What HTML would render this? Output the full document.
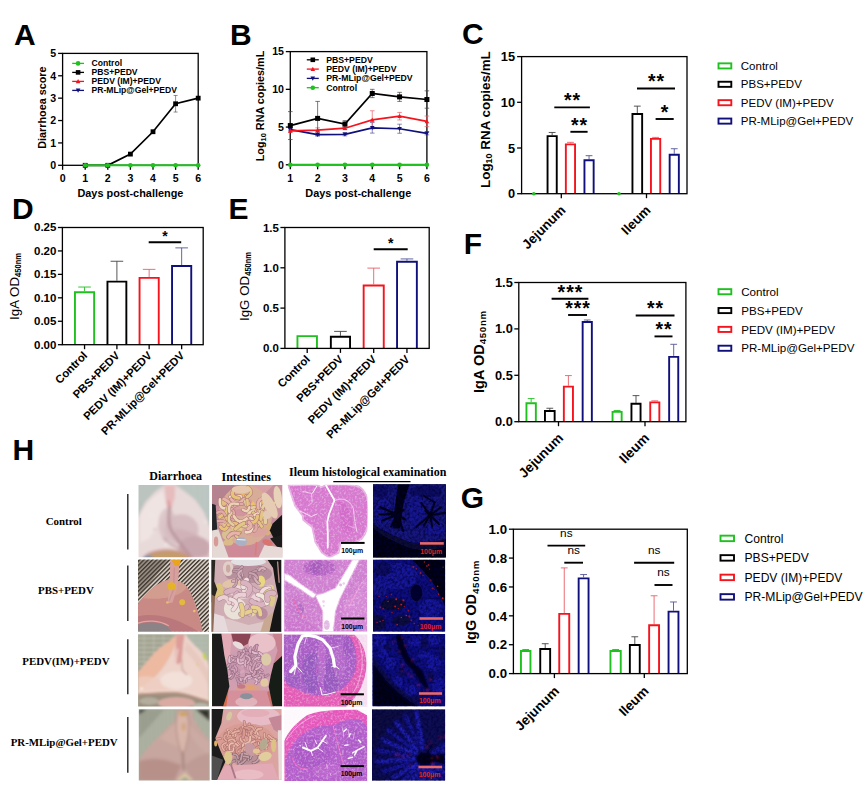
<!DOCTYPE html>
<html lang="en"><head><meta charset="utf-8"><title>Figure</title>
<style>html,body{margin:0;padding:0;background:#fff}svg{display:block}</style></head><body>
<svg width="866" height="793" viewBox="0 0 866 793">
<rect width="866" height="793" fill="#fff"/>
<text x="14.00" y="44.60" font-family="'Liberation Sans',Arial,sans-serif" font-size="30" font-weight="bold" text-anchor="start" fill="#000" >A</text>
<rect x="62.6" y="53.4" width="135.60" height="111.90" fill="none" stroke="#000" stroke-width="1.3"/>
<line x1="58.10" y1="165.30" x2="62.60" y2="165.30" stroke="#000" stroke-width="1.3" />
<text x="56.10" y="169.10" font-family="'Liberation Sans',Arial,sans-serif" font-size="10.6" font-weight="bold" text-anchor="end" fill="#000" >0</text>
<line x1="58.10" y1="142.92" x2="62.60" y2="142.92" stroke="#000" stroke-width="1.3" />
<text x="56.10" y="146.72" font-family="'Liberation Sans',Arial,sans-serif" font-size="10.6" font-weight="bold" text-anchor="end" fill="#000" >1</text>
<line x1="58.10" y1="120.54" x2="62.60" y2="120.54" stroke="#000" stroke-width="1.3" />
<text x="56.10" y="124.34" font-family="'Liberation Sans',Arial,sans-serif" font-size="10.6" font-weight="bold" text-anchor="end" fill="#000" >2</text>
<line x1="58.10" y1="98.16" x2="62.60" y2="98.16" stroke="#000" stroke-width="1.3" />
<text x="56.10" y="101.96" font-family="'Liberation Sans',Arial,sans-serif" font-size="10.6" font-weight="bold" text-anchor="end" fill="#000" >3</text>
<line x1="58.10" y1="75.78" x2="62.60" y2="75.78" stroke="#000" stroke-width="1.3" />
<text x="56.10" y="79.58" font-family="'Liberation Sans',Arial,sans-serif" font-size="10.6" font-weight="bold" text-anchor="end" fill="#000" >4</text>
<line x1="58.10" y1="53.40" x2="62.60" y2="53.40" stroke="#000" stroke-width="1.3" />
<text x="56.10" y="57.20" font-family="'Liberation Sans',Arial,sans-serif" font-size="10.6" font-weight="bold" text-anchor="end" fill="#000" >5</text>
<line x1="62.60" y1="165.30" x2="62.60" y2="169.80" stroke="#000" stroke-width="1.3" />
<text x="62.60" y="182.40" font-family="'Liberation Sans',Arial,sans-serif" font-size="10.6" font-weight="bold" text-anchor="middle" fill="#000" >0</text>
<line x1="85.20" y1="165.30" x2="85.20" y2="169.80" stroke="#000" stroke-width="1.3" />
<text x="85.20" y="182.40" font-family="'Liberation Sans',Arial,sans-serif" font-size="10.6" font-weight="bold" text-anchor="middle" fill="#000" >1</text>
<line x1="107.80" y1="165.30" x2="107.80" y2="169.80" stroke="#000" stroke-width="1.3" />
<text x="107.80" y="182.40" font-family="'Liberation Sans',Arial,sans-serif" font-size="10.6" font-weight="bold" text-anchor="middle" fill="#000" >2</text>
<line x1="130.40" y1="165.30" x2="130.40" y2="169.80" stroke="#000" stroke-width="1.3" />
<text x="130.40" y="182.40" font-family="'Liberation Sans',Arial,sans-serif" font-size="10.6" font-weight="bold" text-anchor="middle" fill="#000" >3</text>
<line x1="153.00" y1="165.30" x2="153.00" y2="169.80" stroke="#000" stroke-width="1.3" />
<text x="153.00" y="182.40" font-family="'Liberation Sans',Arial,sans-serif" font-size="10.6" font-weight="bold" text-anchor="middle" fill="#000" >4</text>
<line x1="175.60" y1="165.30" x2="175.60" y2="169.80" stroke="#000" stroke-width="1.3" />
<text x="175.60" y="182.40" font-family="'Liberation Sans',Arial,sans-serif" font-size="10.6" font-weight="bold" text-anchor="middle" fill="#000" >5</text>
<line x1="198.20" y1="165.30" x2="198.20" y2="169.80" stroke="#000" stroke-width="1.3" />
<text x="198.20" y="182.40" font-family="'Liberation Sans',Arial,sans-serif" font-size="10.6" font-weight="bold" text-anchor="middle" fill="#000" >6</text>
<text x="130.40" y="197.30" font-family="'Liberation Sans',Arial,sans-serif" font-size="10.9" font-weight="bold" text-anchor="middle" fill="#000" >Days post-challenge</text>
<text x="46.30" y="107.60" font-family="'Liberation Sans',Arial,sans-serif" font-size="10.8" font-weight="bold" text-anchor="middle" fill="#000" transform="rotate(-90 46.30 107.60)" >Diarrhoea score</text>
<line x1="72.20" y1="63.40" x2="84.00" y2="63.40" stroke="#1fc01f" stroke-width="1.3" />
<circle cx="78.10" cy="63.40" r="2.3" fill="#1fc01f"/>
<text x="91.50" y="66.40" font-family="'Liberation Sans',Arial,sans-serif" font-size="8.6" font-weight="bold" text-anchor="start" fill="#000" >Control</text>
<line x1="72.20" y1="72.40" x2="84.00" y2="72.40" stroke="#000" stroke-width="1.3" />
<rect x="75.80" y="70.10" width="4.6" height="4.6" fill="#000"/>
<text x="91.50" y="75.40" font-family="'Liberation Sans',Arial,sans-serif" font-size="8.6" font-weight="bold" text-anchor="start" fill="#000" >PBS+PEDV</text>
<line x1="72.20" y1="81.40" x2="84.00" y2="81.40" stroke="#f5141e" stroke-width="1.3" />
<polygon points="78.10,79.10 80.40,83.24 75.80,83.24" fill="#f5141e"/>
<text x="91.50" y="84.40" font-family="'Liberation Sans',Arial,sans-serif" font-size="8.6" font-weight="bold" text-anchor="start" fill="#000" >PEDV (IM)+PEDV</text>
<line x1="72.20" y1="90.40" x2="84.00" y2="90.40" stroke="#10107c" stroke-width="1.3" />
<polygon points="78.10,92.70 80.40,88.56 75.80,88.56" fill="#10107c"/>
<text x="91.50" y="93.40" font-family="'Liberation Sans',Arial,sans-serif" font-size="8.6" font-weight="bold" text-anchor="start" fill="#000" >PR-MLip@Gel+PEDV</text>
<line x1="175.60" y1="95.47" x2="175.60" y2="112.04" stroke="#444" stroke-width="0.6" />
<line x1="173.60" y1="95.47" x2="177.60" y2="95.47" stroke="#444" stroke-width="0.6" />
<line x1="173.60" y1="112.04" x2="177.60" y2="112.04" stroke="#444" stroke-width="0.6" />
<polyline fill="none" stroke="#000" stroke-width="1.7" points="85.20,165.30 107.80,165.30 130.40,154.11 153.00,131.73 175.60,103.76 198.20,98.16"/>
<rect x="82.80" y="162.90" width="4.8" height="4.8" fill="#000"/>
<rect x="105.40" y="162.90" width="4.8" height="4.8" fill="#000"/>
<rect x="128.00" y="151.71" width="4.8" height="4.8" fill="#000"/>
<rect x="150.60" y="129.33" width="4.8" height="4.8" fill="#000"/>
<rect x="173.20" y="101.36" width="4.8" height="4.8" fill="#000"/>
<rect x="195.80" y="95.76" width="4.8" height="4.8" fill="#000"/>
<line x1="85.2" y1="165.3" x2="198.2" y2="165.3" stroke="#1fc01f" stroke-width="2.0"/>
<circle cx="85.20" cy="165.30" r="2.3" fill="#1fc01f"/>
<circle cx="107.80" cy="165.30" r="2.3" fill="#1fc01f"/>
<circle cx="130.40" cy="165.30" r="2.3" fill="#1fc01f"/>
<circle cx="153.00" cy="165.30" r="2.3" fill="#1fc01f"/>
<circle cx="175.60" cy="165.30" r="2.3" fill="#1fc01f"/>
<circle cx="198.20" cy="165.30" r="2.3" fill="#1fc01f"/>
<text x="230.00" y="44.60" font-family="'Liberation Sans',Arial,sans-serif" font-size="30" font-weight="bold" text-anchor="start" fill="#000" >B</text>
<rect x="290.3" y="51.6" width="136.60" height="113.20" fill="none" stroke="#000" stroke-width="1.3"/>
<line x1="285.80" y1="164.80" x2="290.30" y2="164.80" stroke="#000" stroke-width="1.3" />
<text x="284.00" y="168.60" font-family="'Liberation Sans',Arial,sans-serif" font-size="10.6" font-weight="bold" text-anchor="end" fill="#000" >0</text>
<line x1="285.80" y1="127.07" x2="290.30" y2="127.07" stroke="#000" stroke-width="1.3" />
<text x="284.00" y="130.87" font-family="'Liberation Sans',Arial,sans-serif" font-size="10.6" font-weight="bold" text-anchor="end" fill="#000" >5</text>
<line x1="285.80" y1="89.33" x2="290.30" y2="89.33" stroke="#000" stroke-width="1.3" />
<text x="284.00" y="93.13" font-family="'Liberation Sans',Arial,sans-serif" font-size="10.6" font-weight="bold" text-anchor="end" fill="#000" >10</text>
<line x1="285.80" y1="51.60" x2="290.30" y2="51.60" stroke="#000" stroke-width="1.3" />
<text x="284.00" y="55.40" font-family="'Liberation Sans',Arial,sans-serif" font-size="10.6" font-weight="bold" text-anchor="end" fill="#000" >15</text>
<line x1="290.30" y1="164.80" x2="290.30" y2="169.30" stroke="#000" stroke-width="1.3" />
<text x="290.30" y="182.40" font-family="'Liberation Sans',Arial,sans-serif" font-size="10.6" font-weight="bold" text-anchor="middle" fill="#000" >1</text>
<line x1="317.62" y1="164.80" x2="317.62" y2="169.30" stroke="#000" stroke-width="1.3" />
<text x="317.62" y="182.40" font-family="'Liberation Sans',Arial,sans-serif" font-size="10.6" font-weight="bold" text-anchor="middle" fill="#000" >2</text>
<line x1="344.94" y1="164.80" x2="344.94" y2="169.30" stroke="#000" stroke-width="1.3" />
<text x="344.94" y="182.40" font-family="'Liberation Sans',Arial,sans-serif" font-size="10.6" font-weight="bold" text-anchor="middle" fill="#000" >3</text>
<line x1="372.26" y1="164.80" x2="372.26" y2="169.30" stroke="#000" stroke-width="1.3" />
<text x="372.26" y="182.40" font-family="'Liberation Sans',Arial,sans-serif" font-size="10.6" font-weight="bold" text-anchor="middle" fill="#000" >4</text>
<line x1="399.58" y1="164.80" x2="399.58" y2="169.30" stroke="#000" stroke-width="1.3" />
<text x="399.58" y="182.40" font-family="'Liberation Sans',Arial,sans-serif" font-size="10.6" font-weight="bold" text-anchor="middle" fill="#000" >5</text>
<line x1="426.90" y1="164.80" x2="426.90" y2="169.30" stroke="#000" stroke-width="1.3" />
<text x="426.90" y="182.40" font-family="'Liberation Sans',Arial,sans-serif" font-size="10.6" font-weight="bold" text-anchor="middle" fill="#000" >6</text>
<text x="358.30" y="197.30" font-family="'Liberation Sans',Arial,sans-serif" font-size="10.9" font-weight="bold" text-anchor="middle" fill="#000" >Days post-challenge</text>
<text x="264.30" y="106.00" font-family="'Liberation Sans',Arial,sans-serif" font-size="10.8" font-weight="bold" text-anchor="middle" fill="#000" transform="rotate(-90 264.30 106.00)" >Log<tspan font-size="7.5" dy="2.2">10</tspan><tspan dy="-2.2"> RNA copies/mL</tspan></text>
<line x1="306.80" y1="59.80" x2="318.80" y2="59.80" stroke="#000" stroke-width="1.3" />
<rect x="310.50" y="57.50" width="4.6" height="4.6" fill="#000"/>
<text x="326.20" y="62.80" font-family="'Liberation Sans',Arial,sans-serif" font-size="8.7" font-weight="bold" text-anchor="start" fill="#000" >PBS+PEDV</text>
<line x1="306.80" y1="69.10" x2="318.80" y2="69.10" stroke="#f5141e" stroke-width="1.3" />
<polygon points="312.80,66.80 315.10,70.94 310.50,70.94" fill="#f5141e"/>
<text x="326.20" y="72.10" font-family="'Liberation Sans',Arial,sans-serif" font-size="8.7" font-weight="bold" text-anchor="start" fill="#000" >PEDV (IM)+PEDV</text>
<line x1="306.80" y1="78.40" x2="318.80" y2="78.40" stroke="#10107c" stroke-width="1.3" />
<polygon points="312.80,80.70 315.10,76.56 310.50,76.56" fill="#10107c"/>
<text x="326.20" y="81.40" font-family="'Liberation Sans',Arial,sans-serif" font-size="8.7" font-weight="bold" text-anchor="start" fill="#000" >PR-MLip@Gel+PEDV</text>
<line x1="306.80" y1="87.70" x2="318.80" y2="87.70" stroke="#1fc01f" stroke-width="1.3" />
<circle cx="312.80" cy="87.70" r="2.3" fill="#1fc01f"/>
<text x="326.20" y="90.70" font-family="'Liberation Sans',Arial,sans-serif" font-size="8.7" font-weight="bold" text-anchor="start" fill="#000" >Control</text>
<line x1="290.30" y1="128.50" x2="290.30" y2="130.76" stroke="#55559a" stroke-width="0.7" />
<line x1="288.00" y1="128.50" x2="292.60" y2="128.50" stroke="#55559a" stroke-width="0.7" />
<line x1="288.00" y1="130.76" x2="292.60" y2="130.76" stroke="#55559a" stroke-width="0.7" />
<line x1="317.62" y1="133.10" x2="317.62" y2="136.12" stroke="#55559a" stroke-width="0.7" />
<line x1="315.32" y1="133.10" x2="319.92" y2="133.10" stroke="#55559a" stroke-width="0.7" />
<line x1="315.32" y1="136.12" x2="319.92" y2="136.12" stroke="#55559a" stroke-width="0.7" />
<line x1="344.94" y1="132.80" x2="344.94" y2="135.82" stroke="#55559a" stroke-width="0.7" />
<line x1="342.64" y1="132.80" x2="347.24" y2="132.80" stroke="#55559a" stroke-width="0.7" />
<line x1="342.64" y1="135.82" x2="347.24" y2="135.82" stroke="#55559a" stroke-width="0.7" />
<line x1="372.26" y1="122.54" x2="372.26" y2="133.10" stroke="#55559a" stroke-width="0.7" />
<line x1="369.96" y1="122.54" x2="374.56" y2="122.54" stroke="#55559a" stroke-width="0.7" />
<line x1="369.96" y1="133.10" x2="374.56" y2="133.10" stroke="#55559a" stroke-width="0.7" />
<line x1="399.58" y1="124.20" x2="399.58" y2="133.25" stroke="#55559a" stroke-width="0.7" />
<line x1="397.28" y1="124.20" x2="401.88" y2="124.20" stroke="#55559a" stroke-width="0.7" />
<line x1="397.28" y1="133.25" x2="401.88" y2="133.25" stroke="#55559a" stroke-width="0.7" />
<line x1="426.90" y1="131.82" x2="426.90" y2="134.84" stroke="#55559a" stroke-width="0.7" />
<line x1="424.60" y1="131.82" x2="429.20" y2="131.82" stroke="#55559a" stroke-width="0.7" />
<line x1="424.60" y1="134.84" x2="429.20" y2="134.84" stroke="#55559a" stroke-width="0.7" />
<line x1="290.30" y1="129.78" x2="290.30" y2="132.05" stroke="#e8606a" stroke-width="0.7" />
<line x1="288.00" y1="129.78" x2="292.60" y2="129.78" stroke="#e8606a" stroke-width="0.7" />
<line x1="288.00" y1="132.05" x2="292.60" y2="132.05" stroke="#e8606a" stroke-width="0.7" />
<line x1="317.62" y1="127.82" x2="317.62" y2="132.35" stroke="#e8606a" stroke-width="0.7" />
<line x1="315.32" y1="127.82" x2="319.92" y2="127.82" stroke="#e8606a" stroke-width="0.7" />
<line x1="315.32" y1="132.35" x2="319.92" y2="132.35" stroke="#e8606a" stroke-width="0.7" />
<line x1="344.94" y1="126.69" x2="344.94" y2="129.71" stroke="#e8606a" stroke-width="0.7" />
<line x1="342.64" y1="126.69" x2="347.24" y2="126.69" stroke="#e8606a" stroke-width="0.7" />
<line x1="342.64" y1="129.71" x2="347.24" y2="129.71" stroke="#e8606a" stroke-width="0.7" />
<line x1="372.26" y1="110.77" x2="372.26" y2="128.88" stroke="#e8606a" stroke-width="0.7" />
<line x1="369.96" y1="110.77" x2="374.56" y2="110.77" stroke="#e8606a" stroke-width="0.7" />
<line x1="369.96" y1="128.88" x2="374.56" y2="128.88" stroke="#e8606a" stroke-width="0.7" />
<line x1="399.58" y1="112.43" x2="399.58" y2="119.97" stroke="#e8606a" stroke-width="0.7" />
<line x1="397.28" y1="112.43" x2="401.88" y2="112.43" stroke="#e8606a" stroke-width="0.7" />
<line x1="397.28" y1="119.97" x2="401.88" y2="119.97" stroke="#e8606a" stroke-width="0.7" />
<line x1="426.90" y1="116.05" x2="426.90" y2="126.61" stroke="#e8606a" stroke-width="0.7" />
<line x1="424.60" y1="116.05" x2="429.20" y2="116.05" stroke="#e8606a" stroke-width="0.7" />
<line x1="424.60" y1="126.61" x2="429.20" y2="126.61" stroke="#e8606a" stroke-width="0.7" />
<line x1="290.30" y1="111.60" x2="290.30" y2="139.52" stroke="#444" stroke-width="0.7" />
<line x1="288.00" y1="111.60" x2="292.60" y2="111.60" stroke="#444" stroke-width="0.7" />
<line x1="288.00" y1="139.52" x2="292.60" y2="139.52" stroke="#444" stroke-width="0.7" />
<line x1="317.62" y1="101.41" x2="317.62" y2="135.37" stroke="#444" stroke-width="0.7" />
<line x1="315.32" y1="101.41" x2="319.92" y2="101.41" stroke="#444" stroke-width="0.7" />
<line x1="315.32" y1="135.37" x2="319.92" y2="135.37" stroke="#444" stroke-width="0.7" />
<line x1="344.94" y1="120.65" x2="344.94" y2="127.44" stroke="#444" stroke-width="0.7" />
<line x1="342.64" y1="120.65" x2="347.24" y2="120.65" stroke="#444" stroke-width="0.7" />
<line x1="342.64" y1="127.44" x2="347.24" y2="127.44" stroke="#444" stroke-width="0.7" />
<line x1="372.26" y1="89.33" x2="372.26" y2="97.63" stroke="#444" stroke-width="0.7" />
<line x1="369.96" y1="89.33" x2="374.56" y2="89.33" stroke="#444" stroke-width="0.7" />
<line x1="369.96" y1="97.63" x2="374.56" y2="97.63" stroke="#444" stroke-width="0.7" />
<line x1="399.58" y1="92.35" x2="399.58" y2="101.41" stroke="#444" stroke-width="0.7" />
<line x1="397.28" y1="92.35" x2="401.88" y2="92.35" stroke="#444" stroke-width="0.7" />
<line x1="397.28" y1="101.41" x2="401.88" y2="101.41" stroke="#444" stroke-width="0.7" />
<line x1="426.90" y1="90.84" x2="426.90" y2="108.20" stroke="#444" stroke-width="0.7" />
<line x1="424.60" y1="90.84" x2="429.20" y2="90.84" stroke="#444" stroke-width="0.7" />
<line x1="424.60" y1="108.20" x2="429.20" y2="108.20" stroke="#444" stroke-width="0.7" />
<polyline fill="none" stroke="#10107c" stroke-width="1.7" points="290.30,129.63 317.62,134.61 344.94,134.31 372.26,127.82 399.58,128.73 426.90,133.33"/>
<polygon points="290.30,131.93 292.60,127.79 288.00,127.79" fill="#10107c"/>
<polygon points="317.62,136.91 319.92,132.77 315.32,132.77" fill="#10107c"/>
<polygon points="344.94,136.61 347.24,132.47 342.64,132.47" fill="#10107c"/>
<polygon points="372.26,130.12 374.56,125.98 369.96,125.98" fill="#10107c"/>
<polygon points="399.58,131.03 401.88,126.89 397.28,126.89" fill="#10107c"/>
<polygon points="426.90,135.63 429.20,131.49 424.60,131.49" fill="#10107c"/>
<polyline fill="none" stroke="#f5141e" stroke-width="1.7" points="290.30,130.92 317.62,130.09 344.94,128.20 372.26,119.82 399.58,116.20 426.90,121.33"/>
<polygon points="290.30,128.62 292.60,132.76 288.00,132.76" fill="#f5141e"/>
<polygon points="317.62,127.79 319.92,131.93 315.32,131.93" fill="#f5141e"/>
<polygon points="344.94,125.90 347.24,130.04 342.64,130.04" fill="#f5141e"/>
<polygon points="372.26,117.52 374.56,121.66 369.96,121.66" fill="#f5141e"/>
<polygon points="399.58,113.90 401.88,118.04 397.28,118.04" fill="#f5141e"/>
<polygon points="426.90,119.03 429.20,123.17 424.60,123.17" fill="#f5141e"/>
<polyline fill="none" stroke="#000" stroke-width="1.7" points="290.30,125.56 317.62,118.39 344.94,124.05 372.26,93.48 399.58,96.88 426.90,99.52"/>
<rect x="287.80" y="123.06" width="5.0" height="5.0" fill="#000"/>
<rect x="315.12" y="115.89" width="5.0" height="5.0" fill="#000"/>
<rect x="342.44" y="121.55" width="5.0" height="5.0" fill="#000"/>
<rect x="369.76" y="90.98" width="5.0" height="5.0" fill="#000"/>
<rect x="397.08" y="94.38" width="5.0" height="5.0" fill="#000"/>
<rect x="424.40" y="97.02" width="5.0" height="5.0" fill="#000"/>
<line x1="290.3" y1="164.8" x2="426.9" y2="164.8" stroke="#1fc01f" stroke-width="2.0"/>
<circle cx="290.30" cy="164.80" r="2.3" fill="#1fc01f"/>
<circle cx="317.62" cy="164.80" r="2.3" fill="#1fc01f"/>
<circle cx="344.94" cy="164.80" r="2.3" fill="#1fc01f"/>
<circle cx="372.26" cy="164.80" r="2.3" fill="#1fc01f"/>
<circle cx="399.58" cy="164.80" r="2.3" fill="#1fc01f"/>
<circle cx="426.90" cy="164.80" r="2.3" fill="#1fc01f"/>
<text x="462.00" y="44.20" font-family="'Liberation Sans',Arial,sans-serif" font-size="30" font-weight="bold" text-anchor="start" fill="#000" >C</text>
<line x1="552.15" y1="132.46" x2="552.15" y2="135.20" stroke="#444" stroke-width="0.9" />
<line x1="548.75" y1="132.46" x2="555.55" y2="132.46" stroke="#444" stroke-width="0.9" />
<path d="M547.55,193.70 V136.15 H556.75 V193.70" fill="#fff" stroke="#000" stroke-width="1.9"/>
<line x1="570.45" y1="142.33" x2="570.45" y2="143.43" stroke="#e8606a" stroke-width="0.9" />
<line x1="567.05" y1="142.33" x2="573.85" y2="142.33" stroke="#e8606a" stroke-width="0.9" />
<path d="M565.85,193.70 V144.38 H575.05 V193.70" fill="#fff" stroke="#f5141e" stroke-width="1.9"/>
<line x1="589.05" y1="155.68" x2="589.05" y2="159.33" stroke="#55559a" stroke-width="0.9" />
<line x1="585.65" y1="155.68" x2="592.45" y2="155.68" stroke="#55559a" stroke-width="0.9" />
<path d="M584.45,193.70 V160.28 H593.65 V193.70" fill="#fff" stroke="#10107c" stroke-width="1.9"/>
<line x1="637.30" y1="106.14" x2="637.30" y2="112.99" stroke="#444" stroke-width="0.9" />
<line x1="633.90" y1="106.14" x2="640.70" y2="106.14" stroke="#444" stroke-width="0.9" />
<path d="M632.45,193.70 V113.94 H642.15 V193.70" fill="#fff" stroke="#000" stroke-width="1.9"/>
<line x1="655.60" y1="137.40" x2="655.60" y2="137.95" stroke="#e8606a" stroke-width="0.9" />
<line x1="652.20" y1="137.40" x2="659.00" y2="137.40" stroke="#e8606a" stroke-width="0.9" />
<path d="M650.95,193.70 V138.90 H660.25 V193.70" fill="#fff" stroke="#f5141e" stroke-width="1.9"/>
<line x1="674.25" y1="148.73" x2="674.25" y2="153.76" stroke="#55559a" stroke-width="0.9" />
<line x1="670.85" y1="148.73" x2="677.65" y2="148.73" stroke="#55559a" stroke-width="0.9" />
<path d="M669.65,193.70 V154.71 H678.85 V193.70" fill="#fff" stroke="#10107c" stroke-width="1.9"/>
<rect x="521.6" y="56.6" width="165.40" height="137.10" fill="none" stroke="#000" stroke-width="1.3"/>
<circle cx="533.80" cy="193.70" r="1.8" fill="#1fc01f"/>
<circle cx="619.00" cy="193.70" r="1.8" fill="#1fc01f"/>
<line x1="517.10" y1="193.70" x2="521.60" y2="193.70" stroke="#000" stroke-width="1.3" />
<text x="515.10" y="198.20" font-family="'Liberation Sans',Arial,sans-serif" font-size="12.8" font-weight="bold" text-anchor="end" fill="#000" >0</text>
<line x1="517.10" y1="148.00" x2="521.60" y2="148.00" stroke="#000" stroke-width="1.3" />
<text x="515.10" y="152.50" font-family="'Liberation Sans',Arial,sans-serif" font-size="12.8" font-weight="bold" text-anchor="end" fill="#000" >5</text>
<line x1="517.10" y1="102.30" x2="521.60" y2="102.30" stroke="#000" stroke-width="1.3" />
<text x="515.10" y="106.80" font-family="'Liberation Sans',Arial,sans-serif" font-size="12.8" font-weight="bold" text-anchor="end" fill="#000" >10</text>
<line x1="517.10" y1="56.60" x2="521.60" y2="56.60" stroke="#000" stroke-width="1.3" />
<text x="515.10" y="61.10" font-family="'Liberation Sans',Arial,sans-serif" font-size="12.8" font-weight="bold" text-anchor="end" fill="#000" >15</text>
<line x1="561.30" y1="193.70" x2="561.30" y2="198.20" stroke="#000" stroke-width="1.3" />
<line x1="646.50" y1="193.70" x2="646.50" y2="198.20" stroke="#000" stroke-width="1.3" />
<text x="489.80" y="119.60" font-family="'Liberation Sans',Arial,sans-serif" font-size="13.4" font-weight="bold" text-anchor="middle" fill="#000" transform="rotate(-90 489.80 119.60)" >Log<tspan font-size="9" dy="2.7">10</tspan><tspan dy="-2.7"> RNA copies/mL</tspan></text>
<line x1="554.30" y1="107.40" x2="589.90" y2="107.40" stroke="#000" stroke-width="1.9" />
<text x="572.60" y="107.20" font-family="'Liberation Sans',Arial,sans-serif" font-size="19.5" font-weight="bold" text-anchor="middle" fill="#000" letter-spacing="1">**</text>
<line x1="570.40" y1="131.80" x2="587.60" y2="131.80" stroke="#000" stroke-width="1.9" />
<text x="579.50" y="131.60" font-family="'Liberation Sans',Arial,sans-serif" font-size="19.5" font-weight="bold" text-anchor="middle" fill="#000" letter-spacing="1">**</text>
<line x1="637.00" y1="88.50" x2="675.00" y2="88.50" stroke="#000" stroke-width="1.9" />
<text x="656.50" y="88.30" font-family="'Liberation Sans',Arial,sans-serif" font-size="19.5" font-weight="bold" text-anchor="middle" fill="#000" letter-spacing="1">**</text>
<line x1="655.60" y1="119.00" x2="673.70" y2="119.00" stroke="#000" stroke-width="1.9" />
<text x="665.15" y="118.80" font-family="'Liberation Sans',Arial,sans-serif" font-size="19.5" font-weight="bold" text-anchor="middle" fill="#000" letter-spacing="1">*</text>
<text x="566.50" y="211.00" font-family="'Liberation Sans',Arial,sans-serif" font-size="13.4" font-weight="bold" text-anchor="end" fill="#000" transform="rotate(-45 566.50 211.00)" >Jejunum</text>
<text x="651.50" y="211.00" font-family="'Liberation Sans',Arial,sans-serif" font-size="13.4" font-weight="bold" text-anchor="end" fill="#000" transform="rotate(-45 651.50 211.00)" >Ileum</text>
<rect x="718.50" y="63.35" width="12.80" height="5.10" fill="#fff" stroke="#1fc01f" stroke-width="1.9"/>
<text x="740.80" y="69.98" font-family="'Liberation Sans',Arial,sans-serif" font-size="11.5" font-weight="normal" text-anchor="start" fill="#000" >Control</text>
<rect x="718.50" y="81.75" width="12.80" height="5.10" fill="#fff" stroke="#000" stroke-width="1.9"/>
<text x="740.80" y="88.38" font-family="'Liberation Sans',Arial,sans-serif" font-size="11.5" font-weight="normal" text-anchor="start" fill="#000" >PBS+PEDV</text>
<rect x="718.50" y="100.15" width="12.80" height="5.10" fill="#fff" stroke="#f5141e" stroke-width="1.9"/>
<text x="740.80" y="106.78" font-family="'Liberation Sans',Arial,sans-serif" font-size="11.5" font-weight="normal" text-anchor="start" fill="#000" >PEDV (IM)+PEDV</text>
<rect x="718.50" y="118.55" width="12.80" height="5.10" fill="#fff" stroke="#10107c" stroke-width="1.9"/>
<text x="740.80" y="125.18" font-family="'Liberation Sans',Arial,sans-serif" font-size="11.5" font-weight="normal" text-anchor="start" fill="#000" >PR-MLip@Gel+PEDV</text>
<text x="11.90" y="218.80" font-family="'Liberation Sans',Arial,sans-serif" font-size="30" font-weight="bold" text-anchor="start" fill="#000" >D</text>
<line x1="84.55" y1="287.04" x2="84.55" y2="291.26" stroke="#1fc01f" stroke-width="0.9" />
<line x1="78.25" y1="287.04" x2="90.85" y2="287.04" stroke="#1fc01f" stroke-width="0.9" />
<path d="M74.95,344.70 V292.21 H94.15 V344.70" fill="#fff" stroke="#1fc01f" stroke-width="1.9"/>
<line x1="116.90" y1="261.25" x2="116.90" y2="280.71" stroke="#444" stroke-width="0.9" />
<line x1="110.60" y1="261.25" x2="123.20" y2="261.25" stroke="#444" stroke-width="0.9" />
<path d="M107.45,344.70 V281.66 H126.35 V344.70" fill="#fff" stroke="#000" stroke-width="1.9"/>
<line x1="149.15" y1="269.36" x2="149.15" y2="276.91" stroke="#e8606a" stroke-width="0.9" />
<line x1="142.85" y1="269.36" x2="155.45" y2="269.36" stroke="#e8606a" stroke-width="0.9" />
<path d="M139.55,344.70 V277.86 H158.75 V344.70" fill="#fff" stroke="#f5141e" stroke-width="1.9"/>
<line x1="181.65" y1="247.89" x2="181.65" y2="265.00" stroke="#55559a" stroke-width="0.9" />
<line x1="175.35" y1="247.89" x2="187.95" y2="247.89" stroke="#55559a" stroke-width="0.9" />
<path d="M172.05,344.70 V265.95 H191.25 V344.70" fill="#fff" stroke="#10107c" stroke-width="1.9"/>
<rect x="62.4" y="227.5" width="140.80" height="117.20" fill="none" stroke="#000" stroke-width="1.3"/>
<line x1="57.90" y1="344.70" x2="62.40" y2="344.70" stroke="#000" stroke-width="1.3" />
<text x="56.40" y="348.60" font-family="'Liberation Sans',Arial,sans-serif" font-size="11.5" font-weight="bold" text-anchor="end" fill="#000" >0.00</text>
<line x1="57.90" y1="321.26" x2="62.40" y2="321.26" stroke="#000" stroke-width="1.3" />
<text x="56.40" y="325.16" font-family="'Liberation Sans',Arial,sans-serif" font-size="11.5" font-weight="bold" text-anchor="end" fill="#000" >0.05</text>
<line x1="57.90" y1="297.82" x2="62.40" y2="297.82" stroke="#000" stroke-width="1.3" />
<text x="56.40" y="301.72" font-family="'Liberation Sans',Arial,sans-serif" font-size="11.5" font-weight="bold" text-anchor="end" fill="#000" >0.10</text>
<line x1="57.90" y1="274.38" x2="62.40" y2="274.38" stroke="#000" stroke-width="1.3" />
<text x="56.40" y="278.28" font-family="'Liberation Sans',Arial,sans-serif" font-size="11.5" font-weight="bold" text-anchor="end" fill="#000" >0.15</text>
<line x1="57.90" y1="250.94" x2="62.40" y2="250.94" stroke="#000" stroke-width="1.3" />
<text x="56.40" y="254.84" font-family="'Liberation Sans',Arial,sans-serif" font-size="11.5" font-weight="bold" text-anchor="end" fill="#000" >0.20</text>
<line x1="57.90" y1="227.50" x2="62.40" y2="227.50" stroke="#000" stroke-width="1.3" />
<text x="56.40" y="231.40" font-family="'Liberation Sans',Arial,sans-serif" font-size="11.5" font-weight="bold" text-anchor="end" fill="#000" >0.25</text>
<line x1="84.55" y1="344.70" x2="84.55" y2="349.20" stroke="#000" stroke-width="1.3" />
<text x="88.05" y="356.20" font-family="'Liberation Sans',Arial,sans-serif" font-size="11.3" font-weight="bold" text-anchor="end" fill="#000" transform="rotate(-45 88.05 356.20)" >Control</text>
<line x1="116.90" y1="344.70" x2="116.90" y2="349.20" stroke="#000" stroke-width="1.3" />
<text x="120.40" y="356.20" font-family="'Liberation Sans',Arial,sans-serif" font-size="11.3" font-weight="bold" text-anchor="end" fill="#000" transform="rotate(-45 120.40 356.20)" >PBS+PEDV</text>
<line x1="149.15" y1="344.70" x2="149.15" y2="349.20" stroke="#000" stroke-width="1.3" />
<text x="152.65" y="356.20" font-family="'Liberation Sans',Arial,sans-serif" font-size="11.3" font-weight="bold" text-anchor="end" fill="#000" transform="rotate(-45 152.65 356.20)" >PEDV (IM)+PEDV</text>
<line x1="181.65" y1="344.70" x2="181.65" y2="349.20" stroke="#000" stroke-width="1.3" />
<text x="185.15" y="356.20" font-family="'Liberation Sans',Arial,sans-serif" font-size="11.3" font-weight="bold" text-anchor="end" fill="#000" transform="rotate(-45 185.15 356.20)" >PR-MLip@Gel+PEDV</text>
<text x="18.80" y="286.50" font-family="'Liberation Sans',Arial,sans-serif" font-size="13.35" font-weight="normal" text-anchor="middle" fill="#000" transform="rotate(-90 18.80 286.50)" >IgA OD<tspan font-size="9" dy="2.4" font-weight="bold" textLength="23.8" lengthAdjust="spacingAndGlyphs">450nm</tspan></text>
<line x1="148.70" y1="242.30" x2="181.20" y2="242.30" stroke="#000" stroke-width="1.9" />
<text x="165.45" y="240.70" font-family="'Liberation Sans',Arial,sans-serif" font-size="14" font-weight="bold" text-anchor="middle" fill="#000" letter-spacing="1">*</text>
<text x="228.60" y="218.60" font-family="'Liberation Sans',Arial,sans-serif" font-size="30" font-weight="bold" text-anchor="start" fill="#000" >E</text>
<path d="M297.45,348.40 V336.13 H316.95 V348.40" fill="#fff" stroke="#1fc01f" stroke-width="1.9"/>
<line x1="340.45" y1="331.39" x2="340.45" y2="335.83" stroke="#444" stroke-width="0.9" />
<line x1="334.15" y1="331.39" x2="346.75" y2="331.39" stroke="#444" stroke-width="0.9" />
<path d="M330.85,348.40 V336.78 H350.05 V348.40" fill="#fff" stroke="#000" stroke-width="1.9"/>
<line x1="373.70" y1="268.12" x2="373.70" y2="284.48" stroke="#e8606a" stroke-width="0.9" />
<line x1="367.40" y1="268.12" x2="380.00" y2="268.12" stroke="#e8606a" stroke-width="0.9" />
<path d="M363.65,348.40 V285.43 H383.75 V348.40" fill="#fff" stroke="#f5141e" stroke-width="1.9"/>
<line x1="406.95" y1="258.93" x2="406.95" y2="260.79" stroke="#55559a" stroke-width="0.9" />
<line x1="400.65" y1="258.93" x2="413.25" y2="258.93" stroke="#55559a" stroke-width="0.9" />
<path d="M397.05,348.40 V261.74 H416.85 V348.40" fill="#fff" stroke="#10107c" stroke-width="1.9"/>
<rect x="284.9" y="227.5" width="144.30" height="120.90" fill="none" stroke="#000" stroke-width="1.3"/>
<line x1="280.40" y1="348.40" x2="284.90" y2="348.40" stroke="#000" stroke-width="1.3" />
<text x="278.90" y="352.40" font-family="'Liberation Sans',Arial,sans-serif" font-size="11.5" font-weight="bold" text-anchor="end" fill="#000" >0.0</text>
<line x1="280.40" y1="308.10" x2="284.90" y2="308.10" stroke="#000" stroke-width="1.3" />
<text x="278.90" y="312.10" font-family="'Liberation Sans',Arial,sans-serif" font-size="11.5" font-weight="bold" text-anchor="end" fill="#000" >0.5</text>
<line x1="280.40" y1="267.80" x2="284.90" y2="267.80" stroke="#000" stroke-width="1.3" />
<text x="278.90" y="271.80" font-family="'Liberation Sans',Arial,sans-serif" font-size="11.5" font-weight="bold" text-anchor="end" fill="#000" >1.0</text>
<line x1="280.40" y1="227.50" x2="284.90" y2="227.50" stroke="#000" stroke-width="1.3" />
<text x="278.90" y="231.50" font-family="'Liberation Sans',Arial,sans-serif" font-size="11.5" font-weight="bold" text-anchor="end" fill="#000" >1.5</text>
<line x1="307.20" y1="348.40" x2="307.20" y2="352.90" stroke="#000" stroke-width="1.3" />
<text x="310.70" y="359.90" font-family="'Liberation Sans',Arial,sans-serif" font-size="11.3" font-weight="bold" text-anchor="end" fill="#000" transform="rotate(-45 310.70 359.90)" >Control</text>
<line x1="340.45" y1="348.40" x2="340.45" y2="352.90" stroke="#000" stroke-width="1.3" />
<text x="343.95" y="359.90" font-family="'Liberation Sans',Arial,sans-serif" font-size="11.3" font-weight="bold" text-anchor="end" fill="#000" transform="rotate(-45 343.95 359.90)" >PBS+PEDV</text>
<line x1="373.70" y1="348.40" x2="373.70" y2="352.90" stroke="#000" stroke-width="1.3" />
<text x="377.20" y="359.90" font-family="'Liberation Sans',Arial,sans-serif" font-size="11.3" font-weight="bold" text-anchor="end" fill="#000" transform="rotate(-45 377.20 359.90)" >PEDV (IM)+PEDV</text>
<line x1="406.95" y1="348.40" x2="406.95" y2="352.90" stroke="#000" stroke-width="1.3" />
<text x="410.45" y="359.90" font-family="'Liberation Sans',Arial,sans-serif" font-size="11.3" font-weight="bold" text-anchor="end" fill="#000" transform="rotate(-45 410.45 359.90)" >PR-MLip@Gel+PEDV</text>
<text x="248.80" y="286.50" font-family="'Liberation Sans',Arial,sans-serif" font-size="13.35" font-weight="normal" text-anchor="middle" fill="#000" transform="rotate(-90 248.80 286.50)" >IgG OD<tspan font-size="9" dy="2.4" font-weight="bold" textLength="23.8" lengthAdjust="spacingAndGlyphs">450nm</tspan></text>
<line x1="373.70" y1="249.20" x2="407.70" y2="249.20" stroke="#000" stroke-width="1.9" />
<text x="391.20" y="247.60" font-family="'Liberation Sans',Arial,sans-serif" font-size="14" font-weight="bold" text-anchor="middle" fill="#000" letter-spacing="1">*</text>
<text x="463.70" y="254.10" font-family="'Liberation Sans',Arial,sans-serif" font-size="30" font-weight="bold" text-anchor="start" fill="#000" >F</text>
<line x1="531.15" y1="398.59" x2="531.15" y2="402.30" stroke="#1fc01f" stroke-width="0.9" />
<line x1="527.75" y1="398.59" x2="534.55" y2="398.59" stroke="#1fc01f" stroke-width="0.9" />
<path d="M526.45,421.70 V403.25 H535.85 V421.70" fill="#fff" stroke="#1fc01f" stroke-width="1.9"/>
<line x1="549.80" y1="408.24" x2="549.80" y2="410.10" stroke="#444" stroke-width="0.9" />
<line x1="546.40" y1="408.24" x2="553.20" y2="408.24" stroke="#444" stroke-width="0.9" />
<path d="M544.95,421.70 V411.05 H554.65 V421.70" fill="#fff" stroke="#000" stroke-width="1.9"/>
<line x1="568.40" y1="375.58" x2="568.40" y2="385.69" stroke="#e8606a" stroke-width="0.9" />
<line x1="565.00" y1="375.58" x2="571.80" y2="375.58" stroke="#e8606a" stroke-width="0.9" />
<path d="M563.85,421.70 V386.64 H572.95 V421.70" fill="#fff" stroke="#f5141e" stroke-width="1.9"/>
<line x1="587.25" y1="319.99" x2="587.25" y2="321.10" stroke="#55559a" stroke-width="0.9" />
<line x1="583.85" y1="319.99" x2="590.65" y2="319.99" stroke="#55559a" stroke-width="0.9" />
<path d="M582.65,421.70 V322.05 H591.85 V421.70" fill="#fff" stroke="#10107c" stroke-width="1.9"/>
<line x1="617.10" y1="410.47" x2="617.10" y2="410.94" stroke="#1fc01f" stroke-width="0.9" />
<line x1="613.70" y1="410.47" x2="620.50" y2="410.47" stroke="#1fc01f" stroke-width="0.9" />
<path d="M612.55,421.70 V411.89 H621.65 V421.70" fill="#fff" stroke="#1fc01f" stroke-width="1.9"/>
<line x1="636.00" y1="395.62" x2="636.00" y2="402.86" stroke="#444" stroke-width="0.9" />
<line x1="632.60" y1="395.62" x2="639.40" y2="395.62" stroke="#444" stroke-width="0.9" />
<path d="M631.45,421.70 V403.81 H640.55 V421.70" fill="#fff" stroke="#000" stroke-width="1.9"/>
<line x1="654.80" y1="400.82" x2="654.80" y2="401.38" stroke="#e8606a" stroke-width="0.9" />
<line x1="651.40" y1="400.82" x2="658.20" y2="400.82" stroke="#e8606a" stroke-width="0.9" />
<path d="M650.25,421.70 V402.33 H659.35 V421.70" fill="#fff" stroke="#f5141e" stroke-width="1.9"/>
<line x1="673.70" y1="344.30" x2="673.70" y2="355.90" stroke="#55559a" stroke-width="0.9" />
<line x1="670.30" y1="344.30" x2="677.10" y2="344.30" stroke="#55559a" stroke-width="0.9" />
<path d="M669.15,421.70 V356.85 H678.25 V421.70" fill="#fff" stroke="#10107c" stroke-width="1.9"/>
<rect x="518.8" y="282.5" width="167.10" height="139.20" fill="none" stroke="#000" stroke-width="1.3"/>
<line x1="514.30" y1="421.70" x2="518.80" y2="421.70" stroke="#000" stroke-width="1.3" />
<text x="512.80" y="426.20" font-family="'Liberation Sans',Arial,sans-serif" font-size="12.8" font-weight="bold" text-anchor="end" fill="#000" >0.0</text>
<line x1="514.30" y1="375.30" x2="518.80" y2="375.30" stroke="#000" stroke-width="1.3" />
<text x="512.80" y="379.80" font-family="'Liberation Sans',Arial,sans-serif" font-size="12.8" font-weight="bold" text-anchor="end" fill="#000" >0.5</text>
<line x1="514.30" y1="328.90" x2="518.80" y2="328.90" stroke="#000" stroke-width="1.3" />
<text x="512.80" y="333.40" font-family="'Liberation Sans',Arial,sans-serif" font-size="12.8" font-weight="bold" text-anchor="end" fill="#000" >1.0</text>
<line x1="514.30" y1="282.50" x2="518.80" y2="282.50" stroke="#000" stroke-width="1.3" />
<text x="512.80" y="287.00" font-family="'Liberation Sans',Arial,sans-serif" font-size="12.8" font-weight="bold" text-anchor="end" fill="#000" >1.5</text>
<line x1="558.50" y1="421.70" x2="558.50" y2="426.20" stroke="#000" stroke-width="1.3" />
<line x1="645.00" y1="421.70" x2="645.00" y2="426.20" stroke="#000" stroke-width="1.3" />
<text x="564.00" y="439.00" font-family="'Liberation Sans',Arial,sans-serif" font-size="13.7" font-weight="bold" text-anchor="end" fill="#000" transform="rotate(-45 564.00 439.00)" >Jejunum</text>
<text x="650.00" y="439.00" font-family="'Liberation Sans',Arial,sans-serif" font-size="13.7" font-weight="bold" text-anchor="end" fill="#000" transform="rotate(-45 650.00 439.00)" >Ileum</text>
<text x="483.60" y="351.50" font-family="'Liberation Sans',Arial,sans-serif" font-size="14.5" font-weight="bold" text-anchor="middle" fill="#000" transform="rotate(-90 483.60 351.50)" >IgA OD<tspan font-size="9.7" dy="2.8" letter-spacing="0.7">450nm</tspan></text>
<line x1="551.60" y1="298.70" x2="588.40" y2="298.70" stroke="#000" stroke-width="1.9" />
<text x="570.50" y="298.50" font-family="'Liberation Sans',Arial,sans-serif" font-size="19.5" font-weight="bold" text-anchor="middle" fill="#000" letter-spacing="1">***</text>
<line x1="568.10" y1="315.00" x2="587.00" y2="315.00" stroke="#000" stroke-width="1.9" />
<text x="578.05" y="314.80" font-family="'Liberation Sans',Arial,sans-serif" font-size="19.5" font-weight="bold" text-anchor="middle" fill="#000" letter-spacing="1">***</text>
<line x1="635.70" y1="315.50" x2="674.50" y2="315.50" stroke="#000" stroke-width="1.9" />
<text x="655.60" y="315.30" font-family="'Liberation Sans',Arial,sans-serif" font-size="19.5" font-weight="bold" text-anchor="middle" fill="#000" letter-spacing="1">**</text>
<line x1="654.50" y1="336.40" x2="672.50" y2="336.40" stroke="#000" stroke-width="1.9" />
<text x="664.00" y="336.20" font-family="'Liberation Sans',Arial,sans-serif" font-size="19.5" font-weight="bold" text-anchor="middle" fill="#000" letter-spacing="1">**</text>
<rect x="718.50" y="289.15" width="12.80" height="5.10" fill="#fff" stroke="#1fc01f" stroke-width="1.9"/>
<text x="741.20" y="295.82" font-family="'Liberation Sans',Arial,sans-serif" font-size="11.6" font-weight="normal" text-anchor="start" fill="#000" >Control</text>
<rect x="718.50" y="308.00" width="12.80" height="5.10" fill="#fff" stroke="#000" stroke-width="1.9"/>
<text x="741.20" y="314.67" font-family="'Liberation Sans',Arial,sans-serif" font-size="11.6" font-weight="normal" text-anchor="start" fill="#000" >PBS+PEDV</text>
<rect x="718.50" y="326.85" width="12.80" height="5.10" fill="#fff" stroke="#f5141e" stroke-width="1.9"/>
<text x="741.20" y="333.52" font-family="'Liberation Sans',Arial,sans-serif" font-size="11.6" font-weight="normal" text-anchor="start" fill="#000" >PEDV (IM)+PEDV</text>
<rect x="718.50" y="345.70" width="12.80" height="5.10" fill="#fff" stroke="#10107c" stroke-width="1.9"/>
<text x="741.20" y="352.37" font-family="'Liberation Sans',Arial,sans-serif" font-size="11.6" font-weight="normal" text-anchor="start" fill="#000" >PR-MLip@Gel+PEDV</text>
<text x="460.70" y="508.00" font-family="'Liberation Sans',Arial,sans-serif" font-size="30" font-weight="bold" text-anchor="start" fill="#000" >G</text>
<line x1="525.70" y1="649.49" x2="525.70" y2="650.06" stroke="#1fc01f" stroke-width="0.9" />
<line x1="522.30" y1="649.49" x2="529.10" y2="649.49" stroke="#1fc01f" stroke-width="0.9" />
<path d="M520.95,673.60 V651.01 H530.45 V673.60" fill="#fff" stroke="#1fc01f" stroke-width="1.9"/>
<line x1="545.20" y1="643.71" x2="545.20" y2="648.04" stroke="#444" stroke-width="0.9" />
<line x1="541.80" y1="643.71" x2="548.60" y2="643.71" stroke="#444" stroke-width="0.9" />
<path d="M540.25,673.60 V648.99 H550.15 V673.60" fill="#fff" stroke="#000" stroke-width="1.9"/>
<line x1="564.25" y1="567.90" x2="564.25" y2="612.95" stroke="#e8606a" stroke-width="0.9" />
<line x1="560.85" y1="567.90" x2="567.65" y2="567.90" stroke="#e8606a" stroke-width="0.9" />
<path d="M559.25,673.60 V613.90 H569.25 V673.60" fill="#fff" stroke="#f5141e" stroke-width="1.9"/>
<line x1="583.60" y1="574.54" x2="583.60" y2="577.43" stroke="#55559a" stroke-width="0.9" />
<line x1="580.20" y1="574.54" x2="587.00" y2="574.54" stroke="#55559a" stroke-width="0.9" />
<path d="M578.65,673.60 V578.38 H588.55 V673.60" fill="#fff" stroke="#10107c" stroke-width="1.9"/>
<line x1="615.60" y1="649.49" x2="615.60" y2="650.06" stroke="#1fc01f" stroke-width="0.9" />
<line x1="612.20" y1="649.49" x2="619.00" y2="649.49" stroke="#1fc01f" stroke-width="0.9" />
<path d="M610.45,673.60 V651.01 H620.75 V673.60" fill="#fff" stroke="#1fc01f" stroke-width="1.9"/>
<line x1="634.80" y1="636.78" x2="634.80" y2="644.00" stroke="#444" stroke-width="0.9" />
<line x1="631.40" y1="636.78" x2="638.20" y2="636.78" stroke="#444" stroke-width="0.9" />
<path d="M629.85,673.60 V644.95 H639.75 V673.60" fill="#fff" stroke="#000" stroke-width="1.9"/>
<line x1="654.10" y1="595.77" x2="654.10" y2="624.36" stroke="#e8606a" stroke-width="0.9" />
<line x1="650.70" y1="595.77" x2="657.50" y2="595.77" stroke="#e8606a" stroke-width="0.9" />
<path d="M649.15,673.60 V625.31 H659.05 V673.60" fill="#fff" stroke="#f5141e" stroke-width="1.9"/>
<line x1="673.50" y1="601.98" x2="673.50" y2="610.64" stroke="#55559a" stroke-width="0.9" />
<line x1="670.10" y1="601.98" x2="676.90" y2="601.98" stroke="#55559a" stroke-width="0.9" />
<path d="M668.55,673.60 V611.59 H678.45 V673.60" fill="#fff" stroke="#10107c" stroke-width="1.9"/>
<rect x="513.4" y="529.2" width="173.90" height="144.40" fill="none" stroke="#000" stroke-width="1.3"/>
<line x1="508.90" y1="673.60" x2="513.40" y2="673.60" stroke="#000" stroke-width="1.3" />
<text x="507.10" y="678.30" font-family="'Liberation Sans',Arial,sans-serif" font-size="13.3" font-weight="bold" text-anchor="end" fill="#000" >0.0</text>
<line x1="508.90" y1="644.72" x2="513.40" y2="644.72" stroke="#000" stroke-width="1.3" />
<text x="507.10" y="649.42" font-family="'Liberation Sans',Arial,sans-serif" font-size="13.3" font-weight="bold" text-anchor="end" fill="#000" >0.2</text>
<line x1="508.90" y1="615.84" x2="513.40" y2="615.84" stroke="#000" stroke-width="1.3" />
<text x="507.10" y="620.54" font-family="'Liberation Sans',Arial,sans-serif" font-size="13.3" font-weight="bold" text-anchor="end" fill="#000" >0.4</text>
<line x1="508.90" y1="586.96" x2="513.40" y2="586.96" stroke="#000" stroke-width="1.3" />
<text x="507.10" y="591.66" font-family="'Liberation Sans',Arial,sans-serif" font-size="13.3" font-weight="bold" text-anchor="end" fill="#000" >0.6</text>
<line x1="508.90" y1="558.08" x2="513.40" y2="558.08" stroke="#000" stroke-width="1.3" />
<text x="507.10" y="562.78" font-family="'Liberation Sans',Arial,sans-serif" font-size="13.3" font-weight="bold" text-anchor="end" fill="#000" >0.8</text>
<line x1="508.90" y1="529.20" x2="513.40" y2="529.20" stroke="#000" stroke-width="1.3" />
<text x="507.10" y="533.90" font-family="'Liberation Sans',Arial,sans-serif" font-size="13.3" font-weight="bold" text-anchor="end" fill="#000" >1.0</text>
<line x1="554.40" y1="673.60" x2="554.40" y2="678.10" stroke="#000" stroke-width="1.3" />
<line x1="644.30" y1="673.60" x2="644.30" y2="678.10" stroke="#000" stroke-width="1.3" />
<text x="560.00" y="692.00" font-family="'Liberation Sans',Arial,sans-serif" font-size="13.6" font-weight="bold" text-anchor="end" fill="#000" transform="rotate(-45 560.00 692.00)" >Jejunum</text>
<text x="649.50" y="692.00" font-family="'Liberation Sans',Arial,sans-serif" font-size="13.6" font-weight="bold" text-anchor="end" fill="#000" transform="rotate(-45 649.50 692.00)" >Ileum</text>
<text x="476.00" y="601.90" font-family="'Liberation Sans',Arial,sans-serif" font-size="14.5" font-weight="bold" text-anchor="middle" fill="#000" transform="rotate(-90 476.00 601.90)" >IgG OD<tspan font-size="9.7" dy="2.8" letter-spacing="0.7">450nm</tspan></text>
<line x1="547.50" y1="545.60" x2="585.20" y2="545.60" stroke="#000" stroke-width="1.9" />
<text x="566.35" y="537.00" font-family="'Liberation Sans',Arial,sans-serif" font-size="11.8" font-weight="normal" text-anchor="middle" fill="#000" >ns</text>
<line x1="564.30" y1="562.70" x2="583.00" y2="562.70" stroke="#000" stroke-width="1.9" />
<text x="573.65" y="554.10" font-family="'Liberation Sans',Arial,sans-serif" font-size="11.8" font-weight="normal" text-anchor="middle" fill="#000" >ns</text>
<line x1="634.10" y1="562.70" x2="674.20" y2="562.70" stroke="#000" stroke-width="1.9" />
<text x="654.15" y="554.10" font-family="'Liberation Sans',Arial,sans-serif" font-size="11.8" font-weight="normal" text-anchor="middle" fill="#000" >ns</text>
<line x1="654.50" y1="585.00" x2="672.50" y2="585.00" stroke="#000" stroke-width="1.9" />
<text x="663.50" y="576.40" font-family="'Liberation Sans',Arial,sans-serif" font-size="11.8" font-weight="normal" text-anchor="middle" fill="#000" >ns</text>
<rect x="720.50" y="535.65" width="13.50" height="5.50" fill="#fff" stroke="#1fc01f" stroke-width="1.9"/>
<text x="744.50" y="542.70" font-family="'Liberation Sans',Arial,sans-serif" font-size="12.1" font-weight="normal" text-anchor="start" fill="#000" >Control</text>
<rect x="720.50" y="555.15" width="13.50" height="5.50" fill="#fff" stroke="#000" stroke-width="1.9"/>
<text x="744.50" y="562.20" font-family="'Liberation Sans',Arial,sans-serif" font-size="12.1" font-weight="normal" text-anchor="start" fill="#000" >PBS+PEDV</text>
<rect x="720.50" y="574.65" width="13.50" height="5.50" fill="#fff" stroke="#f5141e" stroke-width="1.9"/>
<text x="744.50" y="581.70" font-family="'Liberation Sans',Arial,sans-serif" font-size="12.1" font-weight="normal" text-anchor="start" fill="#000" >PEDV (IM)+PEDV</text>
<rect x="720.50" y="594.15" width="13.50" height="5.50" fill="#fff" stroke="#10107c" stroke-width="1.9"/>
<text x="744.50" y="601.20" font-family="'Liberation Sans',Arial,sans-serif" font-size="12.1" font-weight="normal" text-anchor="start" fill="#000" >PR-MLip@Gel+PEDV</text>
<text x="12.40" y="459.60" font-family="'Liberation Sans',Arial,sans-serif" font-size="30" font-weight="bold" text-anchor="start" fill="#000" >H</text>
<text x="175.70" y="480.20" font-family="'Liberation Serif','Times New Roman',serif" font-size="12" font-weight="bold" text-anchor="middle" fill="#000" >Diarrhoea</text>
<text x="246.20" y="481.40" font-family="'Liberation Serif','Times New Roman',serif" font-size="12" font-weight="bold" text-anchor="middle" fill="#000" >Intestines</text>
<text x="367.70" y="476.00" font-family="'Liberation Serif','Times New Roman',serif" font-size="12" font-weight="bold" text-anchor="middle" fill="#000" >Ileum histological examination</text>
<line x1="333.30" y1="481.60" x2="410.50" y2="481.60" stroke="#000" stroke-width="1.2" />
<text x="63.70" y="524.50" font-family="'Liberation Serif','Times New Roman',serif" font-size="10.9" font-weight="bold" text-anchor="middle" fill="#000" >Control</text>
<line x1="127.80" y1="494.00" x2="127.80" y2="549.60" stroke="#222" stroke-width="1.4" />
<text x="65.90" y="594.00" font-family="'Liberation Serif','Times New Roman',serif" font-size="10.9" font-weight="bold" text-anchor="middle" fill="#000" >PBS+PEDV</text>
<line x1="127.80" y1="565.50" x2="127.80" y2="621.10" stroke="#222" stroke-width="1.4" />
<text x="65.90" y="665.00" font-family="'Liberation Serif','Times New Roman',serif" font-size="10.9" font-weight="bold" text-anchor="middle" fill="#000" >PEDV(IM)+PEDV</text>
<line x1="127.80" y1="639.20" x2="127.80" y2="694.20" stroke="#222" stroke-width="1.4" />
<text x="64.20" y="746.00" font-family="'Liberation Serif','Times New Roman',serif" font-size="10.9" font-weight="bold" text-anchor="middle" fill="#000" >PR-MLip@Gel+PEDV</text>
<line x1="127.80" y1="717.00" x2="127.80" y2="772.80" stroke="#222" stroke-width="1.4" />
<defs><filter id="bl3" x="-5%" y="-5%" width="110%" height="110%"><feGaussianBlur stdDeviation="6.6"/></filter><filter id="bl5" x="-5%" y="-5%" width="110%" height="110%"><feGaussianBlur stdDeviation="11.0"/></filter><filter id="bl7" x="-5%" y="-5%" width="110%" height="110%"><feGaussianBlur stdDeviation="15.4"/></filter><filter id="bl10" x="-5%" y="-5%" width="110%" height="110%"><feGaussianBlur stdDeviation="22.0"/></filter><filter id="bl14" x="-5%" y="-5%" width="110%" height="110%"><feGaussianBlur stdDeviation="30.8"/></filter><filter id="nzw" x="0" y="0" width="100%" height="100%"><feTurbulence type="fractalNoise" baseFrequency="0.45" numOctaves="2" seed="4"/><feColorMatrix values="0 0 0 0 1  0 0 0 0 1  0 0 0 0 1  1.0 0 0 0 -0.46"/></filter><filter id="nzk" x="0" y="0" width="100%" height="100%"><feTurbulence type="fractalNoise" baseFrequency="0.38" numOctaves="2" seed="9"/><feColorMatrix values="0 0 0 0 0  0 0 0 0 0  0 0 0 0 0.04  1.7 0 0 0 -0.62"/></filter><filter id="nzp" x="0" y="0" width="100%" height="100%"><feTurbulence type="fractalNoise" baseFrequency="0.3" numOctaves="2" seed="12"/><feColorMatrix values="0 0 0 0 0.25  0 0 0 0 0.12  0 0 0 0 0.12  1.2 0 0 0 -0.5"/></filter><clipPath id="tc1"><rect x="138.5" y="485.0" width="70.7" height="72.3"/></clipPath><clipPath id="tc2"><rect x="212.0" y="485.0" width="70.3" height="72.6"/></clipPath><clipPath id="tc3"><rect x="287.7" y="484.8" width="79.8" height="72.7"/></clipPath><clipPath id="tc4"><rect x="373.0" y="484.3" width="72.9" height="73.3"/></clipPath><pattern id="grid1" width="30" height="30" patternUnits="userSpaceOnUse" patternTransform="rotate(-45)"><rect width="30" height="30" fill="#d6cec6"/><rect width="30" height="13" fill="#3c3228"/></pattern><clipPath id="tc5"><rect x="138.0" y="559.6" width="70.9" height="72.1"/></clipPath><clipPath id="tc6"><rect x="211.2" y="559.8" width="70.3" height="72.1"/></clipPath><clipPath id="tc7"><rect x="284.2" y="559.7" width="82.9" height="71.9"/></clipPath><clipPath id="tc8"><rect x="373.0" y="559.8" width="72.1" height="71.6"/></clipPath><clipPath id="tc9"><rect x="138.0" y="634.2" width="70.9" height="72.2"/></clipPath><clipPath id="tc10"><rect x="212.0" y="633.5" width="70.2" height="72.9"/></clipPath><clipPath id="tc11"><rect x="283.7" y="634.5" width="83.6" height="72.2"/></clipPath><clipPath id="tc12"><rect x="372.5" y="634.0" width="72.6" height="72.3"/></clipPath><clipPath id="tc13"><rect x="138.8" y="709.2" width="70.9" height="71.3"/></clipPath><clipPath id="tc14"><rect x="211.5" y="709.0" width="70.1" height="70.9"/></clipPath><clipPath id="tc15"><rect x="284.2" y="709.5" width="83.1" height="71.5"/></clipPath><clipPath id="tc16"><rect x="372.0" y="709.5" width="73.1" height="70.9"/></clipPath></defs>
<g clip-path="url(#tc1)">
<rect x="138.5" y="485.0" width="70.7" height="72.3" fill="#fff"/>
<g transform="translate(134 482) scale(0.10088)" filter="url(#bl7)">
<rect x="-150" y="-150" width="1100" height="1100" fill="#e8d8d8"/>
<polygon points="-100,-100 300,-100 300,30 210,95 110,200 45,340 -100,400" fill="#b9c3be"/>
<polygon points="415,-100 900,-100 900,500 745,430 700,310 610,180 490,85 415,30" fill="#bac5c0"/>
<line x1="470" y1="30" x2="470" y2="330" stroke="#c8d0cc" stroke-width="9" opacity=".55"/>
<line x1="50" y1="30" x2="50" y2="200" stroke="#c6cec9" stroke-width="8" opacity=".5"/>
<line x1="508" y1="30" x2="508" y2="330" stroke="#c8d0cc" stroke-width="9" opacity=".55"/>
<line x1="86" y1="30" x2="86" y2="200" stroke="#c6cec9" stroke-width="8" opacity=".5"/>
<line x1="546" y1="30" x2="546" y2="330" stroke="#c8d0cc" stroke-width="9" opacity=".55"/>
<line x1="122" y1="30" x2="122" y2="200" stroke="#c6cec9" stroke-width="8" opacity=".5"/>
<line x1="584" y1="30" x2="584" y2="330" stroke="#c8d0cc" stroke-width="9" opacity=".55"/>
<line x1="158" y1="30" x2="158" y2="200" stroke="#c6cec9" stroke-width="8" opacity=".5"/>
<line x1="622" y1="30" x2="622" y2="330" stroke="#c8d0cc" stroke-width="9" opacity=".55"/>
<line x1="194" y1="30" x2="194" y2="200" stroke="#c6cec9" stroke-width="8" opacity=".5"/>
<line x1="660" y1="30" x2="660" y2="330" stroke="#c8d0cc" stroke-width="9" opacity=".55"/>
<line x1="230" y1="30" x2="230" y2="200" stroke="#c6cec9" stroke-width="8" opacity=".5"/>
<line x1="698" y1="30" x2="698" y2="330" stroke="#c8d0cc" stroke-width="9" opacity=".55"/>
<line x1="266" y1="30" x2="266" y2="200" stroke="#c6cec9" stroke-width="8" opacity=".5"/>
<line x1="736" y1="30" x2="736" y2="330" stroke="#c8d0cc" stroke-width="9" opacity=".55"/>
<line x1="302" y1="30" x2="302" y2="200" stroke="#c6cec9" stroke-width="8" opacity=".5"/>
<path d="M45,340 C90,220 190,110 300,60 L415,60 C540,100 660,200 745,430 L745,745 L45,745Z" fill="#e9dada" />
<path d="M60,330 C100,230 180,140 290,90 L330,300 L150,560 L60,600Z" fill="#f0e5e3" opacity="0.85" />
<path d="M380,450 C500,470 660,520 745,600 L745,745 L570,745 C480,640 420,560 380,450Z" fill="#d3b3b8" />
<ellipse cx="470" cy="470" rx="170" ry="150" fill="#cfb2b8" opacity="0.7" />
<ellipse cx="330" cy="420" rx="90" ry="160" fill="#d6bcc0" opacity="0.7" />
<ellipse cx="600" cy="650" rx="160" ry="110" fill="#c6a4ac" opacity="0.7" />
<path d="M300,30 L410,30 L405,150 L372,265 L332,265 L312,150Z" fill="#e6bcbd" />
<path d="M340,190 L350,250" fill="none" stroke="#d8868a" stroke-width="22" stroke-linecap="round" stroke-linejoin="round" opacity="0.8" />
<path d="M352,255 C345,350 335,420 372,485 C420,565 480,640 565,745" fill="none" stroke="#b48e96" stroke-width="30" stroke-linecap="round" stroke-linejoin="round" opacity="0.85" />
<path d="M300,560 C330,600 400,640 500,680" fill="none" stroke="#bf9aa0" stroke-width="26" stroke-linecap="round" stroke-linejoin="round" opacity="0.7" />
<ellipse cx="330" cy="775" rx="225" ry="105" fill="#c39c6c" />
<path d="M110,735 C190,665 430,650 545,735" fill="none" stroke="#cc9490" stroke-width="20" stroke-linecap="round" stroke-linejoin="round" />
<ellipse cx="140" cy="765" rx="55" ry="40" fill="#7d97a8" />
<circle cx="320" cy="620" r="14" fill="#f4f0ee"/>
<circle cx="170" cy="325" r="9" fill="#f4f0ee"/>
<circle cx="712" cy="392" r="13" fill="#f1efee"/>
<circle cx="205" cy="470" r="8" fill="#b0a09c"/>
</g>
</g>
<g clip-path="url(#tc2)">
<rect x="212.0" y="485.0" width="70.3" height="72.6" fill="#fff"/>
<g transform="translate(208 482) scale(0.10088)" filter="url(#bl3)">
<rect x="0" y="0" width="800" height="800" fill="#c68f9b"/>
<polygon points="40,30 260,30 160,200 40,260" fill="#b5838f"/>
<polygon points="420,30 650,30 570,110 460,100" fill="#d8a1a6"/>
<polygon points="200,600 500,590 540,750 200,750" fill="#cf8a97"/>
<ellipse cx="370" cy="330" rx="265" ry="300" fill="#d8ad98" />
<ellipse cx="150" cy="200" rx="42" ry="26" fill="#e3c07e" transform="rotate(0 150 200)" />
<ellipse cx="340" cy="130" rx="48" ry="30" fill="#e8b86a" transform="rotate(25 340 130)" />
<ellipse cx="455" cy="270" rx="36" ry="95" fill="#eec068" transform="rotate(-22 455 270)" />
<ellipse cx="522" cy="235" rx="24" ry="80" fill="#eabf6a" transform="rotate(5 522 235)" />
<ellipse cx="180" cy="400" rx="36" ry="46" fill="#e2c486" transform="rotate(0 180 400)" />
<ellipse cx="285" cy="445" rx="62" ry="48" fill="#e4c88c" transform="rotate(30 285 445)" />
<ellipse cx="200" cy="520" rx="62" ry="60" fill="#d9c092" transform="rotate(0 200 520)" />
<ellipse cx="600" cy="470" rx="40" ry="62" fill="#d8b07c" transform="rotate(20 600 470)" />
<ellipse cx="200" cy="600" rx="52" ry="30" fill="#d9bc88" transform="rotate(0 200 600)" />
<ellipse cx="300" cy="300" rx="90" ry="38" fill="#d2949e" transform="rotate(10 300 300)" />
<ellipse cx="430" cy="420" rx="100" ry="36" fill="#d79d9b" transform="rotate(15 430 420)" />
<ellipse cx="520" cy="505" rx="85" ry="36" fill="#dba39d" transform="rotate(-20 520 505)" />
<ellipse cx="250" cy="240" rx="70" ry="28" fill="#d8a0a0" transform="rotate(15 250 240)" />
<ellipse cx="380" cy="200" rx="60" ry="30" fill="#d999a0" transform="rotate(-10 380 200)" />
<ellipse cx="260" cy="150" rx="30" ry="60" fill="#dfae9a" transform="rotate(20 260 150)" />
<ellipse cx="420" cy="340" rx="70" ry="30" fill="#e0b59c" transform="rotate(-15 420 340)" />
<ellipse cx="540" cy="380" rx="36" ry="30" fill="#e2c27e" transform="rotate(0 540 380)" />
<ellipse cx="160" cy="290" rx="30" ry="45" fill="#d699a2" transform="rotate(-10 160 290)" />
<ellipse cx="410" cy="505" rx="36" ry="30" fill="#dca39a" transform="rotate(0 410 505)" />
<path d="M326,419 Q370,448 421,465" fill="none" stroke="#a8707a" stroke-width="37" stroke-linecap="round" stroke-linejoin="round" opacity="1.0" />
<path d="M326,419 Q370,448 421,465" fill="none" stroke="#ecd2b2" stroke-width="28" stroke-linecap="round" stroke-linejoin="round" opacity="1.0" />
<path d="M453,266 Q439,310 395,299" fill="none" stroke="#a8707a" stroke-width="39" stroke-linecap="round" stroke-linejoin="round" opacity="1.0" />
<path d="M453,266 Q439,310 395,299" fill="none" stroke="#ecd2b2" stroke-width="30" stroke-linecap="round" stroke-linejoin="round" opacity="1.0" />
<path d="M402,251 Q419,181 349,196" fill="none" stroke="#a8707a" stroke-width="39" stroke-linecap="round" stroke-linejoin="round" opacity="1.0" />
<path d="M402,251 Q419,181 349,196" fill="none" stroke="#efd9c0" stroke-width="30" stroke-linecap="round" stroke-linejoin="round" opacity="1.0" />
<path d="M466,367 Q510,394 532,440" fill="none" stroke="#a8707a" stroke-width="38" stroke-linecap="round" stroke-linejoin="round" opacity="1.0" />
<path d="M466,367 Q510,394 532,440" fill="none" stroke="#e4c684" stroke-width="29" stroke-linecap="round" stroke-linejoin="round" opacity="1.0" />
<path d="M292,545 Q269,511 229,509" fill="none" stroke="#a8707a" stroke-width="37" stroke-linecap="round" stroke-linejoin="round" opacity="1.0" />
<path d="M292,545 Q269,511 229,509" fill="none" stroke="#e4c684" stroke-width="28" stroke-linecap="round" stroke-linejoin="round" opacity="1.0" />
<path d="M325,144 Q273,139 222,146" fill="none" stroke="#a8707a" stroke-width="41" stroke-linecap="round" stroke-linejoin="round" opacity="1.0" />
<path d="M325,144 Q273,139 222,146" fill="none" stroke="#efd9c0" stroke-width="32" stroke-linecap="round" stroke-linejoin="round" opacity="1.0" />
<path d="M235,242 Q274,211 257,164" fill="none" stroke="#a8707a" stroke-width="35" stroke-linecap="round" stroke-linejoin="round" opacity="1.0" />
<path d="M235,242 Q274,211 257,164" fill="none" stroke="#e4c684" stroke-width="26" stroke-linecap="round" stroke-linejoin="round" opacity="1.0" />
<path d="M316,501 Q271,498 236,527" fill="none" stroke="#a8707a" stroke-width="34" stroke-linecap="round" stroke-linejoin="round" opacity="1.0" />
<path d="M316,501 Q271,498 236,527" fill="none" stroke="#e4c684" stroke-width="25" stroke-linecap="round" stroke-linejoin="round" opacity="1.0" />
<path d="M195,439 Q163,500 124,444" fill="none" stroke="#a8707a" stroke-width="40" stroke-linecap="round" stroke-linejoin="round" opacity="1.0" />
<path d="M195,439 Q163,500 124,444" fill="none" stroke="#e9c27a" stroke-width="31" stroke-linecap="round" stroke-linejoin="round" opacity="1.0" />
<path d="M178,249 Q174,316 115,348" fill="none" stroke="#a8707a" stroke-width="38" stroke-linecap="round" stroke-linejoin="round" opacity="1.0" />
<path d="M178,249 Q174,316 115,348" fill="none" stroke="#e9c27a" stroke-width="29" stroke-linecap="round" stroke-linejoin="round" opacity="1.0" />
<path d="M167,394 Q98,367 42,414" fill="none" stroke="#a8707a" stroke-width="34" stroke-linecap="round" stroke-linejoin="round" opacity="1.0" />
<path d="M167,394 Q98,367 42,414" fill="none" stroke="#e2aaa4" stroke-width="25" stroke-linecap="round" stroke-linejoin="round" opacity="1.0" />
<path d="M302,510 Q238,489 201,547" fill="none" stroke="#a8707a" stroke-width="42" stroke-linecap="round" stroke-linejoin="round" opacity="1.0" />
<path d="M302,510 Q238,489 201,547" fill="none" stroke="#e6b4a8" stroke-width="33" stroke-linecap="round" stroke-linejoin="round" opacity="1.0" />
<path d="M516,354 Q581,336 570,403" fill="none" stroke="#a8707a" stroke-width="41" stroke-linecap="round" stroke-linejoin="round" opacity="1.0" />
<path d="M516,354 Q581,336 570,403" fill="none" stroke="#e6cf9e" stroke-width="32" stroke-linecap="round" stroke-linejoin="round" opacity="1.0" />
<path d="M355,170 Q294,246 230,172" fill="none" stroke="#a8707a" stroke-width="37" stroke-linecap="round" stroke-linejoin="round" opacity="1.0" />
<path d="M355,170 Q294,246 230,172" fill="none" stroke="#e6b4a8" stroke-width="28" stroke-linecap="round" stroke-linejoin="round" opacity="1.0" />
<path d="M516,176 Q524,238 495,294" fill="none" stroke="#a8707a" stroke-width="37" stroke-linecap="round" stroke-linejoin="round" opacity="1.0" />
<path d="M516,176 Q524,238 495,294" fill="none" stroke="#efd9c0" stroke-width="28" stroke-linecap="round" stroke-linejoin="round" opacity="1.0" />
<path d="M449,304 Q488,336 458,376" fill="none" stroke="#a8707a" stroke-width="38" stroke-linecap="round" stroke-linejoin="round" opacity="1.0" />
<path d="M449,304 Q488,336 458,376" fill="none" stroke="#e4c684" stroke-width="29" stroke-linecap="round" stroke-linejoin="round" opacity="1.0" />
<path d="M414,453 Q383,432 346,438" fill="none" stroke="#a8707a" stroke-width="36" stroke-linecap="round" stroke-linejoin="round" opacity="1.0" />
<path d="M414,453 Q383,432 346,438" fill="none" stroke="#e6cf9e" stroke-width="27" stroke-linecap="round" stroke-linejoin="round" opacity="1.0" />
<path d="M306,160 Q209,150 260,67" fill="none" stroke="#a8707a" stroke-width="42" stroke-linecap="round" stroke-linejoin="round" opacity="1.0" />
<path d="M306,160 Q209,150 260,67" fill="none" stroke="#e9c27a" stroke-width="33" stroke-linecap="round" stroke-linejoin="round" opacity="1.0" />
<path d="M542,267 Q514,312 463,327" fill="none" stroke="#a8707a" stroke-width="38" stroke-linecap="round" stroke-linejoin="round" opacity="1.0" />
<path d="M542,267 Q514,312 463,327" fill="none" stroke="#efd9c0" stroke-width="29" stroke-linecap="round" stroke-linejoin="round" opacity="1.0" />
<path d="M419,355 Q457,376 458,419" fill="none" stroke="#a8707a" stroke-width="34" stroke-linecap="round" stroke-linejoin="round" opacity="1.0" />
<path d="M419,355 Q457,376 458,419" fill="none" stroke="#ecd2b2" stroke-width="25" stroke-linecap="round" stroke-linejoin="round" opacity="1.0" />
<path d="M214,254 Q103,286 119,171" fill="none" stroke="#a8707a" stroke-width="35" stroke-linecap="round" stroke-linejoin="round" opacity="1.0" />
<path d="M214,254 Q103,286 119,171" fill="none" stroke="#efd9c0" stroke-width="26" stroke-linecap="round" stroke-linejoin="round" opacity="1.0" />
<path d="M432,433 Q448,502 377,496" fill="none" stroke="#a8707a" stroke-width="41" stroke-linecap="round" stroke-linejoin="round" opacity="1.0" />
<path d="M432,433 Q448,502 377,496" fill="none" stroke="#efd9c0" stroke-width="32" stroke-linecap="round" stroke-linejoin="round" opacity="1.0" />
<path d="M240,348 Q271,312 240,277" fill="none" stroke="#a8707a" stroke-width="38" stroke-linecap="round" stroke-linejoin="round" opacity="1.0" />
<path d="M240,348 Q271,312 240,277" fill="none" stroke="#e2aaa4" stroke-width="29" stroke-linecap="round" stroke-linejoin="round" opacity="1.0" />
<path d="M383,363 Q307,431 258,341" fill="none" stroke="#a8707a" stroke-width="38" stroke-linecap="round" stroke-linejoin="round" opacity="1.0" />
<path d="M383,363 Q307,431 258,341" fill="none" stroke="#ecd2b2" stroke-width="29" stroke-linecap="round" stroke-linejoin="round" opacity="1.0" />
<path d="M371,191 Q380,274 460,248" fill="none" stroke="#a8707a" stroke-width="38" stroke-linecap="round" stroke-linejoin="round" opacity="1.0" />
<path d="M371,191 Q380,274 460,248" fill="none" stroke="#e6cf9e" stroke-width="29" stroke-linecap="round" stroke-linejoin="round" opacity="1.0" />
<path d="M300,425 Q251,400 202,423" fill="none" stroke="#a8707a" stroke-width="39" stroke-linecap="round" stroke-linejoin="round" opacity="1.0" />
<path d="M300,425 Q251,400 202,423" fill="none" stroke="#e9c27a" stroke-width="30" stroke-linecap="round" stroke-linejoin="round" opacity="1.0" />
<path d="M572,308 Q642,276 620,202" fill="none" stroke="#a8707a" stroke-width="35" stroke-linecap="round" stroke-linejoin="round" opacity="1.0" />
<path d="M572,308 Q642,276 620,202" fill="none" stroke="#e4c684" stroke-width="26" stroke-linecap="round" stroke-linejoin="round" opacity="1.0" />
<path d="M173,340 Q183,276 205,215" fill="none" stroke="#a8707a" stroke-width="35" stroke-linecap="round" stroke-linejoin="round" opacity="1.0" />
<path d="M173,340 Q183,276 205,215" fill="none" stroke="#e4c684" stroke-width="26" stroke-linecap="round" stroke-linejoin="round" opacity="1.0" />
<path d="M510,284 Q580,382 635,275" fill="none" stroke="#a8707a" stroke-width="37" stroke-linecap="round" stroke-linejoin="round" opacity="1.0" />
<path d="M510,284 Q580,382 635,275" fill="none" stroke="#e6cf9e" stroke-width="28" stroke-linecap="round" stroke-linejoin="round" opacity="1.0" />
<path d="M489,435 Q439,367 405,444" fill="none" stroke="#a8707a" stroke-width="39" stroke-linecap="round" stroke-linejoin="round" opacity="1.0" />
<path d="M489,435 Q439,367 405,444" fill="none" stroke="#ecd2b2" stroke-width="30" stroke-linecap="round" stroke-linejoin="round" opacity="1.0" />
<path d="M185,357 Q218,415 285,415" fill="none" stroke="#a8707a" stroke-width="42" stroke-linecap="round" stroke-linejoin="round" opacity="1.0" />
<path d="M185,357 Q218,415 285,415" fill="none" stroke="#e9c27a" stroke-width="33" stroke-linecap="round" stroke-linejoin="round" opacity="1.0" />
<path d="M341,219 Q273,217 229,269" fill="none" stroke="#a8707a" stroke-width="34" stroke-linecap="round" stroke-linejoin="round" opacity="1.0" />
<path d="M341,219 Q273,217 229,269" fill="none" stroke="#e2aaa4" stroke-width="25" stroke-linecap="round" stroke-linejoin="round" opacity="1.0" />
<path d="M252,428 Q168,378 232,304" fill="none" stroke="#a8707a" stroke-width="34" stroke-linecap="round" stroke-linejoin="round" opacity="1.0" />
<path d="M252,428 Q168,378 232,304" fill="none" stroke="#e6cf9e" stroke-width="25" stroke-linecap="round" stroke-linejoin="round" opacity="1.0" />
<path d="M236,236 Q207,188 155,168" fill="none" stroke="#a8707a" stroke-width="38" stroke-linecap="round" stroke-linejoin="round" opacity="1.0" />
<path d="M236,236 Q207,188 155,168" fill="none" stroke="#e6b4a8" stroke-width="29" stroke-linecap="round" stroke-linejoin="round" opacity="1.0" />
<path d="M458,487 Q491,465 477,428" fill="none" stroke="#a8707a" stroke-width="34" stroke-linecap="round" stroke-linejoin="round" opacity="1.0" />
<path d="M458,487 Q491,465 477,428" fill="none" stroke="#e2aaa4" stroke-width="25" stroke-linecap="round" stroke-linejoin="round" opacity="1.0" />
<path d="M500,262 Q472,179 556,155" fill="none" stroke="#a8707a" stroke-width="36" stroke-linecap="round" stroke-linejoin="round" opacity="1.0" />
<path d="M500,262 Q472,179 556,155" fill="none" stroke="#e6b4a8" stroke-width="27" stroke-linecap="round" stroke-linejoin="round" opacity="1.0" />
<path d="M168,328 Q142,269 89,306" fill="none" stroke="#a8707a" stroke-width="34" stroke-linecap="round" stroke-linejoin="round" opacity="1.0" />
<path d="M168,328 Q142,269 89,306" fill="none" stroke="#e2aaa4" stroke-width="25" stroke-linecap="round" stroke-linejoin="round" opacity="1.0" />
<path d="M273,467 Q306,427 356,410" fill="none" stroke="#a8707a" stroke-width="42" stroke-linecap="round" stroke-linejoin="round" opacity="1.0" />
<path d="M273,467 Q306,427 356,410" fill="none" stroke="#e4c684" stroke-width="33" stroke-linecap="round" stroke-linejoin="round" opacity="1.0" />
<path d="M425,403 Q492,402 491,334" fill="none" stroke="#a8707a" stroke-width="39" stroke-linecap="round" stroke-linejoin="round" opacity="1.0" />
<path d="M425,403 Q492,402 491,334" fill="none" stroke="#e9c27a" stroke-width="30" stroke-linecap="round" stroke-linejoin="round" opacity="1.0" />
<path d="M393,229 Q396,182 379,137" fill="none" stroke="#a8707a" stroke-width="36" stroke-linecap="round" stroke-linejoin="round" opacity="1.0" />
<path d="M393,229 Q396,182 379,137" fill="none" stroke="#e4c684" stroke-width="27" stroke-linecap="round" stroke-linejoin="round" opacity="1.0" />
<path d="M212,296 Q193,190 297,219" fill="none" stroke="#a8707a" stroke-width="35" stroke-linecap="round" stroke-linejoin="round" opacity="1.0" />
<path d="M212,296 Q193,190 297,219" fill="none" stroke="#ecd2b2" stroke-width="26" stroke-linecap="round" stroke-linejoin="round" opacity="1.0" />
<path d="M387,150 Q464,105 394,51" fill="none" stroke="#a8707a" stroke-width="37" stroke-linecap="round" stroke-linejoin="round" opacity="1.0" />
<path d="M387,150 Q464,105 394,51" fill="none" stroke="#e4c684" stroke-width="28" stroke-linecap="round" stroke-linejoin="round" opacity="1.0" />
<path d="M538,297 Q530,333 525,370" fill="none" stroke="#a8707a" stroke-width="41" stroke-linecap="round" stroke-linejoin="round" opacity="1.0" />
<path d="M538,297 Q530,333 525,370" fill="none" stroke="#e4c684" stroke-width="32" stroke-linecap="round" stroke-linejoin="round" opacity="1.0" />
<path d="M541,253 Q579,183 654,210" fill="none" stroke="#a8707a" stroke-width="39" stroke-linecap="round" stroke-linejoin="round" opacity="1.0" />
<path d="M541,253 Q579,183 654,210" fill="none" stroke="#e6cf9e" stroke-width="30" stroke-linecap="round" stroke-linejoin="round" opacity="1.0" />
<path d="M410,250 Q396,312 346,275" fill="none" stroke="#a8707a" stroke-width="35" stroke-linecap="round" stroke-linejoin="round" opacity="1.0" />
<path d="M410,250 Q396,312 346,275" fill="none" stroke="#ecd2b2" stroke-width="26" stroke-linecap="round" stroke-linejoin="round" opacity="1.0" />
<path d="M394,466 Q453,442 405,399" fill="none" stroke="#a8707a" stroke-width="39" stroke-linecap="round" stroke-linejoin="round" opacity="1.0" />
<path d="M394,466 Q453,442 405,399" fill="none" stroke="#e6b4a8" stroke-width="30" stroke-linecap="round" stroke-linejoin="round" opacity="1.0" />
<ellipse cx="330" cy="75" rx="95" ry="38" fill="#e6c8ae" />
<ellipse cx="612" cy="232" rx="52" ry="142" fill="#e6ccb2" transform="rotate(-27 612 232)" />
<ellipse cx="692" cy="150" rx="40" ry="112" fill="#e9d2ba" transform="rotate(-8 692 150)" />
<ellipse cx="585" cy="325" rx="42" ry="42" fill="#e3cab6" />
<polygon points="640,415 735,325 735,640 655,565 612,480" fill="#141414"/>
<polygon points="615,560 735,520 735,705 680,640" fill="#1d1d1d"/>
<polygon points="40,215 76,228 92,480 40,505" fill="#24272a"/>
<polygon points="40,480 102,468 205,750 40,750" fill="#e5d9d5"/>
<polygon points="560,625 735,650 735,750 500,750" fill="#e7d9d5"/>
<ellipse cx="590" cy="600" rx="55" ry="28" fill="#d8736d" transform="rotate(20 590 600)" />
<ellipse cx="80" cy="590" rx="22" ry="50" fill="#d79a94" />
<path d="M480,600 L470,720" fill="none" stroke="#d67f7c" stroke-width="16" stroke-linecap="round" stroke-linejoin="round" />
<ellipse cx="330" cy="592" rx="56" ry="46" fill="#a9b1c3" />
<path d="M290,570 L370,575" fill="none" stroke="#eef0f4" stroke-width="10" stroke-linecap="round" stroke-linejoin="round" />
</g>
</g>
<g clip-path="url(#tc3)">
<rect x="287.7" y="484.8" width="79.8" height="72.7" fill="#ffffff"/>
<g transform="translate(282 480) scale(0.10393)" filter="url(#bl3)">
<path d="M60,50 L330,45 L380,70 L430,45 L620,45 L740,62 C800,100 836,180 838,300 C840,430 812,520 762,570 L700,600 L565,600 L545,700 L455,745 L385,700 L322,600 L292,455 L205,385 L200,345 L125,245Z" fill="#d679cf" stroke="#e8b0e2" stroke-width="18" stroke-linecap="round" stroke-linejoin="round" />
<path d="M530,210 C620,200 670,300 680,420 C690,520 600,560 570,440 C560,360 560,280 530,210Z" fill="#cf66c6" opacity="0.6" />
<path d="M425,55 L505,195 L452,330 L436,400 L441,520 L440,650" fill="none" stroke="#ffffff" stroke-width="17" stroke-linecap="round" stroke-linejoin="round" />
<path d="M515,195 C580,168 652,190 686,272 L701,400 L722,500" fill="none" stroke="#f6dcf2" stroke-width="7" stroke-linecap="round" stroke-linejoin="round" />
<path d="M200,110 L285,130 L290,215 L255,250" fill="none" stroke="#f4d6ef" stroke-width="8" stroke-linecap="round" stroke-linejoin="round" />
<path d="M335,60 L292,128" fill="none" stroke="#ffffff" stroke-width="9" stroke-linecap="round" stroke-linejoin="round" />
<path d="M178,300 L282,352 L335,328" fill="none" stroke="#ffffff" stroke-width="7" stroke-linecap="round" stroke-linejoin="round" />
<path d="M640,440 L720,470" fill="none" stroke="#efc4ea" stroke-width="5" stroke-linecap="round" stroke-linejoin="round" />
</g>
<rect x="287.7" y="484.8" width="79.8" height="72.7" filter="url(#nzw)"/>
</g>
<line x1="341.0" y1="542.9" x2="364.6" y2="542.9" stroke="#000" stroke-width="2.0"/>
<text x="352.10" y="553.4" font-family="Liberation Sans,Arial,sans-serif" font-size="6.9" font-weight="bold" text-anchor="middle" fill="#000">100μm</text>
<g clip-path="url(#tc4)">
<rect x="373.0" y="484.3" width="72.9" height="73.3" fill="#030309"/>
<g transform="translate(368 480) scale(0.10344)" filter="url(#bl3)">
<rect x="0" y="0" width="820" height="800" fill="#030309"/>
<path d="M48,42 L752,42 L752,650 C650,685 500,695 380,655 C230,595 110,535 48,465Z" fill="#07072e" />
<path d="M48,42 L752,42 L752,570 C650,600 500,622 400,600 C250,540 120,480 48,420Z" fill="#12127c" />
<ellipse cx="470" cy="300" rx="80" ry="170" fill="#1a1aa6" opacity="0.5" />
<ellipse cx="150" cy="300" rx="80" ry="120" fill="#1919a0" opacity="0.5" />
<ellipse cx="650" cy="480" rx="90" ry="70" fill="#1b1baa" opacity="0.5" />
<ellipse cx="560" cy="110" rx="150" ry="55" fill="#0c0c58" opacity="0.7" />
<ellipse cx="120" cy="110" rx="70" ry="60" fill="#0c0c58" opacity="0.6" />
<path d="M290,42 L400,42 L350,200 L330,300 L312,470 L240,470 L255,300 L275,150Z" fill="#020208" />
<path d="M285,335 L120,262" fill="none" stroke="#030312" stroke-width="22" stroke-linecap="round" stroke-linejoin="round" />
<path d="M285,335 L140,392" fill="none" stroke="#030312" stroke-width="22" stroke-linecap="round" stroke-linejoin="round" />
<path d="M285,335 L340,492" fill="none" stroke="#030312" stroke-width="22" stroke-linecap="round" stroke-linejoin="round" />
<path d="M285,335 L190,322" fill="none" stroke="#030312" stroke-width="22" stroke-linecap="round" stroke-linejoin="round" />
<path d="M285,335 L110,332" fill="none" stroke="#030312" stroke-width="22" stroke-linecap="round" stroke-linejoin="round" />
<path d="M285,335 L360,382" fill="none" stroke="#030312" stroke-width="22" stroke-linecap="round" stroke-linejoin="round" />
<path d="M285,335 L225,448" fill="none" stroke="#030312" stroke-width="22" stroke-linecap="round" stroke-linejoin="round" />
<path d="M285,335 L345,290" fill="none" stroke="#030312" stroke-width="22" stroke-linecap="round" stroke-linejoin="round" />
<path d="M600,340 L515,222" fill="none" stroke="#040418" stroke-width="20" stroke-linecap="round" stroke-linejoin="round" />
<path d="M600,340 L540,440" fill="none" stroke="#040418" stroke-width="20" stroke-linecap="round" stroke-linejoin="round" />
<path d="M600,340 L465,455" fill="none" stroke="#040418" stroke-width="20" stroke-linecap="round" stroke-linejoin="round" />
<path d="M600,340 L705,265" fill="none" stroke="#040418" stroke-width="20" stroke-linecap="round" stroke-linejoin="round" />
<path d="M600,340 L748,318" fill="none" stroke="#040418" stroke-width="20" stroke-linecap="round" stroke-linejoin="round" />
<path d="M600,340 L688,428" fill="none" stroke="#040418" stroke-width="20" stroke-linecap="round" stroke-linejoin="round" />
<path d="M600,340 L645,215" fill="none" stroke="#040418" stroke-width="20" stroke-linecap="round" stroke-linejoin="round" />
<path d="M600,340 L555,298" fill="none" stroke="#040418" stroke-width="20" stroke-linecap="round" stroke-linejoin="round" />
<path d="M600,340 L620,450" fill="none" stroke="#040418" stroke-width="20" stroke-linecap="round" stroke-linejoin="round" />
<circle cx="600" cy="340" r="26" fill="#030310"/>
<path d="M535,150 L645,218" fill="none" stroke="#05051e" stroke-width="16" stroke-linecap="round" stroke-linejoin="round" />
</g>
<rect x="373.0" y="484.3" width="72.9" height="73.3" filter="url(#nzk)"/>
</g>
<line x1="420.0" y1="543.4" x2="443.8" y2="543.4" stroke="#e8696b" stroke-width="2.6"/>
<text x="431.20" y="554.0" font-family="Liberation Sans,Arial,sans-serif" font-size="6.9" font-weight="bold" text-anchor="middle" fill="#e32222">100μm</text>
<g clip-path="url(#tc5)">
<rect x="138.0" y="559.6" width="70.9" height="72.1" fill="#fff"/>
<g transform="translate(134 556) scale(0.10088)" filter="url(#bl3)">
<rect x="0" y="0" width="800" height="800" fill="url(#grid1)"/>
<polygon points="40,35 360,35 40,400" fill="#4a4036" opacity="0.45"/>
<path d="M40,470 C100,400 200,272 330,236 C400,225 470,250 520,300 C600,400 650,600 682,750 L40,750Z" fill="#c98985" />
<path d="M90,420 C190,290 300,242 352,236 C420,236 482,262 522,302 C490,392 300,440 90,420Z" fill="#d3a08f" opacity="0.9" />
<path d="M40,600 C200,560 400,600 640,750 L40,750Z" fill="#b9757a" opacity="0.85" />
<path d="M360,35 L452,35 L442,200 L424,330 L382,462 L332,472 L352,300Z" fill="#d6a09c" />
<path d="M400,120 L392,330 L350,440" fill="none" stroke="#c88890" stroke-width="12" stroke-linecap="round" stroke-linejoin="round" opacity="0.7" />
<path d="M372,35 L466,35 L452,102 L402,92Z" fill="#eaa31c" />
<circle cx="372" cy="300" r="39" fill="#e5b428"/>
<circle cx="478" cy="458" r="29" fill="#e4ba3c"/>
<circle cx="598" cy="545" r="13" fill="#e8c070"/>
<circle cx="330" cy="460" r="12" fill="#e6c070"/>
<path d="M40,682 C120,650 250,650 332,700 L372,750 L40,750Z" fill="#8b8385" />
<path d="M40,665 C120,635 250,635 340,690" fill="none" stroke="#e0a8a4" stroke-width="12" stroke-linecap="round" stroke-linejoin="round" />
</g>
</g>
<g clip-path="url(#tc6)">
<rect x="211.2" y="559.8" width="70.3" height="72.1" fill="#fff"/>
<g transform="translate(208 556) scale(0.10088)" filter="url(#bl3)">
<rect x="0" y="0" width="800" height="800" fill="#cfadb3"/>
<ellipse cx="400" cy="175" rx="235" ry="95" fill="#b88f9d" />
<ellipse cx="400" cy="58" rx="175" ry="40" fill="#e3e0e3" />
<ellipse cx="200" cy="125" rx="52" ry="74" fill="#e2cfc7" />
<ellipse cx="200" cy="125" rx="22" ry="40" fill="#c9a8a6" />
<ellipse cx="110" cy="350" rx="46" ry="82" fill="#dcc47c" />
<ellipse cx="525" cy="250" rx="41" ry="56" fill="#e9d782" />
<ellipse cx="632" cy="405" rx="34" ry="100" fill="#dcc88c" />
<ellipse cx="612" cy="312" rx="40" ry="28" fill="#e5d192" />
<ellipse cx="250" cy="270" rx="110" ry="45" fill="#e2c4a8" transform="rotate(-10 250 270)" />
<ellipse cx="312" cy="362" rx="112" ry="58" fill="#e9cdd1" transform="rotate(15 312 362)" />
<ellipse cx="330" cy="325" rx="100" ry="30" fill="#efd8da" transform="rotate(8 330 325)" />
<ellipse cx="270" cy="522" rx="112" ry="106" fill="#eae2d9" />
<ellipse cx="490" cy="440" rx="96" ry="96" fill="#d3abb7" />
<ellipse cx="470" cy="430" rx="45" ry="50" fill="#ead3da" />
<ellipse cx="532" cy="572" rx="60" ry="60" fill="#b98c9e" />
<ellipse cx="425" cy="560" rx="50" ry="40" fill="#e4d3a8" />
<path d="M260,138 Q311,157 337,109" fill="none" stroke="#8f6c7c" stroke-width="33" stroke-linecap="round" stroke-linejoin="round" opacity="1.0" />
<path d="M260,138 Q311,157 337,109" fill="none" stroke="#c9a2ae" stroke-width="24" stroke-linecap="round" stroke-linejoin="round" opacity="1.0" />
<path d="M489,128 Q530,103 546,147" fill="none" stroke="#8f6c7c" stroke-width="29" stroke-linecap="round" stroke-linejoin="round" opacity="1.0" />
<path d="M489,128 Q530,103 546,147" fill="none" stroke="#c9a2ae" stroke-width="20" stroke-linecap="round" stroke-linejoin="round" opacity="1.0" />
<path d="M341,195 Q328,167 334,136" fill="none" stroke="#8f6c7c" stroke-width="28" stroke-linecap="round" stroke-linejoin="round" opacity="1.0" />
<path d="M341,195 Q328,167 334,136" fill="none" stroke="#d4b0ba" stroke-width="19" stroke-linecap="round" stroke-linejoin="round" opacity="1.0" />
<path d="M491,233 Q445,242 450,195" fill="none" stroke="#8f6c7c" stroke-width="27" stroke-linecap="round" stroke-linejoin="round" opacity="1.0" />
<path d="M491,233 Q445,242 450,195" fill="none" stroke="#c9a2ae" stroke-width="18" stroke-linecap="round" stroke-linejoin="round" opacity="1.0" />
<path d="M415,211 Q421,156 477,147" fill="none" stroke="#8f6c7c" stroke-width="33" stroke-linecap="round" stroke-linejoin="round" opacity="1.0" />
<path d="M415,211 Q421,156 477,147" fill="none" stroke="#bf96a4" stroke-width="24" stroke-linecap="round" stroke-linejoin="round" opacity="1.0" />
<path d="M508,141 Q530,105 564,130" fill="none" stroke="#8f6c7c" stroke-width="33" stroke-linecap="round" stroke-linejoin="round" opacity="1.0" />
<path d="M508,141 Q530,105 564,130" fill="none" stroke="#d4b0ba" stroke-width="24" stroke-linecap="round" stroke-linejoin="round" opacity="1.0" />
<path d="M352,220 Q404,216 386,265" fill="none" stroke="#8f6c7c" stroke-width="29" stroke-linecap="round" stroke-linejoin="round" opacity="1.0" />
<path d="M352,220 Q404,216 386,265" fill="none" stroke="#bf96a4" stroke-width="20" stroke-linecap="round" stroke-linejoin="round" opacity="1.0" />
<path d="M251,152 Q295,149 323,184" fill="none" stroke="#8f6c7c" stroke-width="29" stroke-linecap="round" stroke-linejoin="round" opacity="1.0" />
<path d="M251,152 Q295,149 323,184" fill="none" stroke="#bf96a4" stroke-width="20" stroke-linecap="round" stroke-linejoin="round" opacity="1.0" />
<path d="M331,224 Q345,301 405,252" fill="none" stroke="#8f6c7c" stroke-width="27" stroke-linecap="round" stroke-linejoin="round" opacity="1.0" />
<path d="M331,224 Q345,301 405,252" fill="none" stroke="#bf96a4" stroke-width="18" stroke-linecap="round" stroke-linejoin="round" opacity="1.0" />
<path d="M306,215 Q283,246 244,250" fill="none" stroke="#8f6c7c" stroke-width="32" stroke-linecap="round" stroke-linejoin="round" opacity="1.0" />
<path d="M306,215 Q283,246 244,250" fill="none" stroke="#d4b0ba" stroke-width="23" stroke-linecap="round" stroke-linejoin="round" opacity="1.0" />
<path d="M476,189 Q452,244 505,272" fill="none" stroke="#8f6c7c" stroke-width="33" stroke-linecap="round" stroke-linejoin="round" opacity="1.0" />
<path d="M476,189 Q452,244 505,272" fill="none" stroke="#d4b0ba" stroke-width="24" stroke-linecap="round" stroke-linejoin="round" opacity="1.0" />
<path d="M320,215 Q276,172 331,145" fill="none" stroke="#8f6c7c" stroke-width="31" stroke-linecap="round" stroke-linejoin="round" opacity="1.0" />
<path d="M320,215 Q276,172 331,145" fill="none" stroke="#d4b0ba" stroke-width="22" stroke-linecap="round" stroke-linejoin="round" opacity="1.0" />
<path d="M416,170 Q466,172 489,217" fill="none" stroke="#8f6c7c" stroke-width="31" stroke-linecap="round" stroke-linejoin="round" opacity="1.0" />
<path d="M416,170 Q466,172 489,217" fill="none" stroke="#c9a2ae" stroke-width="22" stroke-linecap="round" stroke-linejoin="round" opacity="1.0" />
<path d="M282,237 Q290,279 254,303" fill="none" stroke="#8f6c7c" stroke-width="28" stroke-linecap="round" stroke-linejoin="round" opacity="1.0" />
<path d="M282,237 Q290,279 254,303" fill="none" stroke="#c9a2ae" stroke-width="19" stroke-linecap="round" stroke-linejoin="round" opacity="1.0" />
<path d="M413,576 Q344,554 390,499" fill="none" stroke="#a8808c" stroke-width="48" stroke-linecap="round" stroke-linejoin="round" opacity="1.0" />
<path d="M413,576 Q344,554 390,499" fill="none" stroke="#d9b4c0" stroke-width="39" stroke-linecap="round" stroke-linejoin="round" opacity="1.0" />
<path d="M427,546 Q376,563 324,577" fill="none" stroke="#a8808c" stroke-width="48" stroke-linecap="round" stroke-linejoin="round" opacity="1.0" />
<path d="M427,546 Q376,563 324,577" fill="none" stroke="#e6d08c" stroke-width="39" stroke-linecap="round" stroke-linejoin="round" opacity="1.0" />
<path d="M474,469 Q482,506 467,540" fill="none" stroke="#a8808c" stroke-width="58" stroke-linecap="round" stroke-linejoin="round" opacity="1.0" />
<path d="M474,469 Q482,506 467,540" fill="none" stroke="#e6d08c" stroke-width="49" stroke-linecap="round" stroke-linejoin="round" opacity="1.0" />
<path d="M352,309 Q352,267 382,238" fill="none" stroke="#a8808c" stroke-width="57" stroke-linecap="round" stroke-linejoin="round" opacity="1.0" />
<path d="M352,309 Q352,267 382,238" fill="none" stroke="#efdcdc" stroke-width="48" stroke-linecap="round" stroke-linejoin="round" opacity="1.0" />
<path d="M309,356 Q246,323 184,358" fill="none" stroke="#a8808c" stroke-width="58" stroke-linecap="round" stroke-linejoin="round" opacity="1.0" />
<path d="M309,356 Q246,323 184,358" fill="none" stroke="#d9b4c0" stroke-width="49" stroke-linecap="round" stroke-linejoin="round" opacity="1.0" />
<path d="M444,321 Q490,374 554,347" fill="none" stroke="#a8808c" stroke-width="47" stroke-linecap="round" stroke-linejoin="round" opacity="1.0" />
<path d="M444,321 Q490,374 554,347" fill="none" stroke="#d9b4c0" stroke-width="38" stroke-linecap="round" stroke-linejoin="round" opacity="1.0" />
<path d="M211,461 Q185,379 112,424" fill="none" stroke="#a8808c" stroke-width="51" stroke-linecap="round" stroke-linejoin="round" opacity="1.0" />
<path d="M211,461 Q185,379 112,424" fill="none" stroke="#ead0d6" stroke-width="42" stroke-linecap="round" stroke-linejoin="round" opacity="1.0" />
<path d="M386,383 Q465,293 349,264" fill="none" stroke="#a8808c" stroke-width="57" stroke-linecap="round" stroke-linejoin="round" opacity="1.0" />
<path d="M386,383 Q465,293 349,264" fill="none" stroke="#d9b4c0" stroke-width="48" stroke-linecap="round" stroke-linejoin="round" opacity="1.0" />
<path d="M289,371 Q251,414 268,468" fill="none" stroke="#a8808c" stroke-width="56" stroke-linecap="round" stroke-linejoin="round" opacity="1.0" />
<path d="M289,371 Q251,414 268,468" fill="none" stroke="#d9b4c0" stroke-width="47" stroke-linecap="round" stroke-linejoin="round" opacity="1.0" />
<path d="M525,372 Q546,316 607,319" fill="none" stroke="#a8808c" stroke-width="48" stroke-linecap="round" stroke-linejoin="round" opacity="1.0" />
<path d="M525,372 Q546,316 607,319" fill="none" stroke="#efdcdc" stroke-width="39" stroke-linecap="round" stroke-linejoin="round" opacity="1.0" />
<path d="M255,473 Q258,367 361,386" fill="none" stroke="#a8808c" stroke-width="51" stroke-linecap="round" stroke-linejoin="round" opacity="1.0" />
<path d="M255,473 Q258,367 361,386" fill="none" stroke="#ead0d6" stroke-width="42" stroke-linecap="round" stroke-linejoin="round" opacity="1.0" />
<path d="M574,373 Q602,324 645,361" fill="none" stroke="#a8808c" stroke-width="47" stroke-linecap="round" stroke-linejoin="round" opacity="1.0" />
<path d="M574,373 Q602,324 645,361" fill="none" stroke="#e6d08c" stroke-width="38" stroke-linecap="round" stroke-linejoin="round" opacity="1.0" />
<path d="M328,482 Q351,532 340,586" fill="none" stroke="#a8808c" stroke-width="51" stroke-linecap="round" stroke-linejoin="round" opacity="1.0" />
<path d="M328,482 Q351,532 340,586" fill="none" stroke="#e6d08c" stroke-width="42" stroke-linecap="round" stroke-linejoin="round" opacity="1.0" />
<path d="M433,449 Q488,499 558,476" fill="none" stroke="#a8808c" stroke-width="56" stroke-linecap="round" stroke-linejoin="round" opacity="1.0" />
<path d="M433,449 Q488,499 558,476" fill="none" stroke="#d9b4c0" stroke-width="47" stroke-linecap="round" stroke-linejoin="round" opacity="1.0" />
<path d="M248,534 Q326,456 219,427" fill="none" stroke="#a8808c" stroke-width="46" stroke-linecap="round" stroke-linejoin="round" opacity="1.0" />
<path d="M248,534 Q326,456 219,427" fill="none" stroke="#efdcdc" stroke-width="37" stroke-linecap="round" stroke-linejoin="round" opacity="1.0" />
<path d="M495,384 Q569,394 584,469" fill="none" stroke="#a8808c" stroke-width="50" stroke-linecap="round" stroke-linejoin="round" opacity="1.0" />
<path d="M495,384 Q569,394 584,469" fill="none" stroke="#f0e6da" stroke-width="41" stroke-linecap="round" stroke-linejoin="round" opacity="1.0" />
<path d="M590,433 Q569,350 652,371" fill="none" stroke="#a8808c" stroke-width="59" stroke-linecap="round" stroke-linejoin="round" opacity="1.0" />
<path d="M590,433 Q569,350 652,371" fill="none" stroke="#d9b4c0" stroke-width="50" stroke-linecap="round" stroke-linejoin="round" opacity="1.0" />
<path d="M443,507 Q520,502 519,579" fill="none" stroke="#a8808c" stroke-width="48" stroke-linecap="round" stroke-linejoin="round" opacity="1.0" />
<path d="M443,507 Q520,502 519,579" fill="none" stroke="#e6d08c" stroke-width="39" stroke-linecap="round" stroke-linejoin="round" opacity="1.0" />
<polygon points="32,600 200,625 400,685 600,640 640,752 32,752" fill="#ddc7c9"/>
<polygon points="32,560 160,600 200,752 32,752" fill="#e6dadc"/>
<polygon points="560,625 642,560 662,752 520,752" fill="#c8a890"/>
<polygon points="32,38 72,38 62,250 92,330 52,452 32,462" fill="#2a2622"/>
<polygon points="32,380 70,402 52,752 32,752" fill="#8f6a55"/>
<polygon points="590,38 728,38 728,752 610,752 650,560 695,400 665,250 645,120" fill="#141414"/>
<path d="M690,60 L705,260" fill="none" stroke="#b08a80" stroke-width="14" stroke-linecap="round" stroke-linejoin="round" />
</g>
</g>
<g clip-path="url(#tc7)">
<rect x="284.2" y="559.7" width="82.9" height="71.9" fill="#fff"/>
<g transform="translate(280 556) scale(0.10624)" filter="url(#bl3)">
<rect x="0" y="0" width="900" height="800" fill="#cf80d0"/>
<ellipse cx="370" cy="112" rx="152" ry="76" fill="#b866c5" />
<ellipse cx="340" cy="110" rx="60" ry="55" fill="#a85cbc" />
<ellipse cx="150" cy="480" rx="70" ry="110" fill="#c878cc" opacity="0.8" />
<ellipse cx="190" cy="500" rx="35" ry="45" fill="#b46cc4" />
<path d="M40,560 C200,560 300,640 380,712 L40,712Z" fill="#c974cd" opacity="0.8" />
<path d="M600,420 C680,380 760,300 820,200 L820,712 L560,712Z" fill="#d890d8" opacity="0.6" />
<path d="M120,400 L200,562 L245,582" fill="none" stroke="#e66ab8" stroke-width="14" stroke-linecap="round" stroke-linejoin="round" />
<path d="M772,250 L652,472" fill="none" stroke="#ea9ad6" stroke-width="11" stroke-linecap="round" stroke-linejoin="round" />
<path d="M682,35 L748,35 L565,400 L522,520 L502,712 L402,712 L402,520 L332,372 L402,352 L522,302Z" fill="#ffffff" stroke="#e8b4e6" stroke-width="10" stroke-linecap="round" stroke-linejoin="round" stroke-dasharray="14 12"/>
<path d="M40,165 L92,182 L202,268 L342,362 L312,398 L182,308 L40,225Z" fill="#ffffff" stroke="#e8b4e6" stroke-width="10" stroke-linecap="round" stroke-linejoin="round" stroke-dasharray="14 12"/>
<ellipse cx="440" cy="650" rx="28" ry="45" fill="#e3b8e2" />
<circle cx="226" cy="403" r="12" fill="#dd98dc" opacity="0.5"/>
<circle cx="410" cy="428" r="14" fill="#e2a4e0" opacity="0.5"/>
<circle cx="749" cy="353" r="14" fill="#e2a4e0" opacity="0.5"/>
<circle cx="190" cy="521" r="14" fill="#dd98dc" opacity="0.5"/>
<circle cx="412" cy="468" r="10" fill="#e2a4e0" opacity="0.5"/>
<circle cx="535" cy="623" r="14" fill="#c672cc" opacity="0.5"/>
<circle cx="618" cy="490" r="10" fill="#e2a4e0" opacity="0.5"/>
<circle cx="631" cy="435" r="12" fill="#e2a4e0" opacity="0.5"/>
<circle cx="682" cy="217" r="14" fill="#dd98dc" opacity="0.5"/>
<circle cx="758" cy="297" r="12" fill="#c672cc" opacity="0.5"/>
<circle cx="608" cy="426" r="10" fill="#c672cc" opacity="0.5"/>
<circle cx="116" cy="127" r="10" fill="#c672cc" opacity="0.5"/>
<circle cx="793" cy="330" r="14" fill="#c672cc" opacity="0.5"/>
<circle cx="368" cy="599" r="14" fill="#c672cc" opacity="0.5"/>
<circle cx="457" cy="311" r="10" fill="#c672cc" opacity="0.5"/>
<circle cx="572" cy="664" r="12" fill="#dd98dc" opacity="0.5"/>
<circle cx="564" cy="145" r="12" fill="#dd98dc" opacity="0.5"/>
<circle cx="746" cy="420" r="14" fill="#dd98dc" opacity="0.5"/>
<circle cx="205" cy="598" r="14" fill="#c672cc" opacity="0.5"/>
<circle cx="262" cy="78" r="14" fill="#c672cc" opacity="0.5"/>
<circle cx="109" cy="577" r="12" fill="#e2a4e0" opacity="0.5"/>
<circle cx="56" cy="324" r="12" fill="#e2a4e0" opacity="0.5"/>
<circle cx="74" cy="451" r="10" fill="#c672cc" opacity="0.5"/>
<circle cx="600" cy="259" r="12" fill="#dd98dc" opacity="0.5"/>
<circle cx="224" cy="59" r="10" fill="#e2a4e0" opacity="0.5"/>
<circle cx="124" cy="398" r="10" fill="#c672cc" opacity="0.5"/>
<circle cx="267" cy="213" r="14" fill="#e2a4e0" opacity="0.5"/>
<circle cx="804" cy="265" r="12" fill="#e2a4e0" opacity="0.5"/>
<circle cx="739" cy="291" r="12" fill="#dd98dc" opacity="0.5"/>
<circle cx="341" cy="622" r="14" fill="#dd98dc" opacity="0.5"/>
<circle cx="120" cy="694" r="14" fill="#c672cc" opacity="0.5"/>
<circle cx="376" cy="523" r="10" fill="#c672cc" opacity="0.5"/>
<circle cx="381" cy="210" r="12" fill="#dd98dc" opacity="0.5"/>
<circle cx="304" cy="569" r="14" fill="#c672cc" opacity="0.5"/>
<circle cx="56" cy="452" r="14" fill="#e2a4e0" opacity="0.5"/>
<circle cx="87" cy="460" r="12" fill="#c672cc" opacity="0.5"/>
<circle cx="570" cy="274" r="14" fill="#c672cc" opacity="0.5"/>
<circle cx="616" cy="50" r="10" fill="#dd98dc" opacity="0.5"/>
<circle cx="57" cy="285" r="14" fill="#c672cc" opacity="0.5"/>
<circle cx="273" cy="442" r="10" fill="#c672cc" opacity="0.5"/>
<circle cx="184" cy="548" r="14" fill="#c672cc" opacity="0.5"/>
<circle cx="274" cy="290" r="10" fill="#dd98dc" opacity="0.5"/>
<circle cx="573" cy="124" r="14" fill="#e2a4e0" opacity="0.5"/>
<circle cx="550" cy="217" r="12" fill="#e2a4e0" opacity="0.5"/>
<circle cx="569" cy="475" r="10" fill="#e2a4e0" opacity="0.5"/>
<circle cx="509" cy="678" r="14" fill="#e2a4e0" opacity="0.5"/>
<circle cx="382" cy="614" r="10" fill="#e2a4e0" opacity="0.5"/>
<circle cx="303" cy="475" r="14" fill="#c672cc" opacity="0.5"/>
<circle cx="251" cy="568" r="10" fill="#dd98dc" opacity="0.5"/>
<circle cx="787" cy="248" r="14" fill="#e2a4e0" opacity="0.5"/>
<circle cx="714" cy="265" r="14" fill="#e2a4e0" opacity="0.5"/>
<circle cx="669" cy="269" r="10" fill="#c672cc" opacity="0.5"/>
<circle cx="268" cy="572" r="12" fill="#c672cc" opacity="0.5"/>
<circle cx="310" cy="317" r="12" fill="#dd98dc" opacity="0.5"/>
<circle cx="359" cy="658" r="10" fill="#e2a4e0" opacity="0.5"/>
<circle cx="44" cy="674" r="14" fill="#dd98dc" opacity="0.5"/>
<circle cx="379" cy="678" r="14" fill="#e2a4e0" opacity="0.5"/>
<circle cx="65" cy="344" r="14" fill="#dd98dc" opacity="0.5"/>
<circle cx="445" cy="231" r="12" fill="#e2a4e0" opacity="0.5"/>
<circle cx="712" cy="616" r="12" fill="#e2a4e0" opacity="0.5"/>
</g>
<rect x="284.2" y="559.7" width="82.9" height="71.9" filter="url(#nzw)"/>
</g>
<line x1="341.1" y1="618.5" x2="364.5" y2="618.5" stroke="#000" stroke-width="2.0"/>
<text x="352.10" y="629.3" font-family="Liberation Sans,Arial,sans-serif" font-size="6.9" font-weight="bold" text-anchor="middle" fill="#000">100μm</text>
<g clip-path="url(#tc8)">
<rect x="373.0" y="559.8" width="72.1" height="71.6" fill="#111180"/>
<g transform="translate(368 556) scale(0.10084)" filter="url(#bl3)">
<rect x="0" y="0" width="830" height="800" fill="#111180"/>
<ellipse cx="300" cy="200" rx="190" ry="130" fill="#1a1aa4" opacity="0.7" />
<ellipse cx="620" cy="520" rx="110" ry="90" fill="#1a1aa8" opacity="0.7" />
<ellipse cx="120" cy="300" rx="70" ry="110" fill="#181898" opacity="0.7" />
<ellipse cx="250" cy="480" rx="125" ry="60" fill="#080830" />
<ellipse cx="480" cy="365" rx="60" ry="85" fill="#06062a" />
<ellipse cx="90" cy="660" rx="85" ry="80" fill="#0a0a40" />
<ellipse cx="330" cy="640" rx="90" ry="50" fill="#0a0a3c" />
<ellipse cx="150" cy="130" rx="90" ry="70" fill="#0c0c58" opacity="0.8" />
<path d="M440,38 L765,38 L765,500 C722,405 682,322 632,250 C582,182 502,110 440,38Z" fill="#04040a" />
<circle cx="450" cy="110" r="10" fill="#d62222" opacity="0.9"/>
<circle cx="480" cy="130" r="8" fill="#d62222" opacity="0.9"/>
<circle cx="520" cy="170" r="10" fill="#d62222" opacity="0.9"/>
<circle cx="545" cy="190" r="8" fill="#d62222" opacity="0.9"/>
<circle cx="600" cy="90" r="10" fill="#d62222" opacity="0.9"/>
<circle cx="585" cy="100" r="10" fill="#d62222" opacity="0.9"/>
<circle cx="620" cy="240" r="10" fill="#d62222" opacity="0.9"/>
<circle cx="640" cy="320" r="10" fill="#d62222" opacity="0.9"/>
<circle cx="660" cy="330" r="7" fill="#d62222" opacity="0.9"/>
<circle cx="690" cy="300" r="8" fill="#d62222" opacity="0.9"/>
<circle cx="700" cy="380" r="7" fill="#d62222" opacity="0.9"/>
<circle cx="740" cy="420" r="10" fill="#d62222" opacity="0.9"/>
<circle cx="745" cy="110" r="7" fill="#d62222" opacity="0.9"/>
<circle cx="560" cy="60" r="7" fill="#d62222" opacity="0.9"/>
<circle cx="610" cy="130" r="7" fill="#d62222" opacity="0.9"/>
<circle cx="120" cy="510" r="8" fill="#d62222" opacity="0.9"/>
<circle cx="150" cy="520" r="8" fill="#d62222" opacity="0.9"/>
<circle cx="180" cy="400" r="7" fill="#d62222" opacity="0.9"/>
<circle cx="230" cy="380" r="8" fill="#d62222" opacity="0.9"/>
<circle cx="270" cy="500" r="10" fill="#d62222" opacity="0.9"/>
<circle cx="300" cy="520" r="7" fill="#d62222" opacity="0.9"/>
<circle cx="330" cy="480" r="10" fill="#d62222" opacity="0.9"/>
<circle cx="360" cy="500" r="7" fill="#d62222" opacity="0.9"/>
<circle cx="380" cy="590" r="7" fill="#d62222" opacity="0.9"/>
<circle cx="410" cy="600" r="10" fill="#d62222" opacity="0.9"/>
<circle cx="430" cy="640" r="7" fill="#d62222" opacity="0.9"/>
<circle cx="150" cy="640" r="8" fill="#d62222" opacity="0.9"/>
<circle cx="120" cy="650" r="8" fill="#d62222" opacity="0.9"/>
<circle cx="90" cy="660" r="7" fill="#d62222" opacity="0.9"/>
<circle cx="290" cy="680" r="8" fill="#d62222" opacity="0.9"/>
<circle cx="460" cy="670" r="7" fill="#d62222" opacity="0.9"/>
<circle cx="200" cy="450" r="7" fill="#d62222" opacity="0.9"/>
<circle cx="110" cy="400" r="7" fill="#d62222" opacity="0.9"/>
<circle cx="280" cy="430" r="10" fill="#d62222" opacity="0.9"/>
<circle cx="350" cy="440" r="10" fill="#d62222" opacity="0.9"/>
<circle cx="240" cy="560" r="8" fill="#d62222" opacity="0.9"/>
<circle cx="400" cy="540" r="7" fill="#d62222" opacity="0.9"/>
<circle cx="330" cy="610" r="7" fill="#d62222" opacity="0.9"/>
<circle cx="500" cy="690" r="7" fill="#d62222" opacity="0.9"/>
<circle cx="170" cy="590" r="7" fill="#d62222" opacity="0.9"/>
</g>
<rect x="373.0" y="559.8" width="72.1" height="71.6" filter="url(#nzk)"/>
</g>
<line x1="419.4" y1="618.5" x2="443.1" y2="618.5" stroke="#e8696b" stroke-width="2.6"/>
<text x="430.55" y="628.6" font-family="Liberation Sans,Arial,sans-serif" font-size="6.9" font-weight="bold" text-anchor="middle" fill="#e32222">100μm</text>
<g clip-path="url(#tc9)">
<rect x="138.0" y="634.2" width="70.9" height="72.2" fill="#fff"/>
<g transform="translate(134 630) scale(0.10088)" filter="url(#bl5)">
<rect x="0" y="0" width="800" height="800" fill="#b2b2a2"/>
<line x1="40" y1="60" x2="745" y2="60" stroke="#84856f" stroke-width="12" opacity=".7"/>
<line x1="40" y1="106" x2="745" y2="106" stroke="#84856f" stroke-width="12" opacity=".7"/>
<line x1="40" y1="152" x2="745" y2="152" stroke="#84856f" stroke-width="12" opacity=".7"/>
<line x1="40" y1="198" x2="745" y2="198" stroke="#84856f" stroke-width="12" opacity=".7"/>
<line x1="40" y1="244" x2="745" y2="244" stroke="#84856f" stroke-width="12" opacity=".7"/>
<line x1="40" y1="290" x2="745" y2="290" stroke="#84856f" stroke-width="12" opacity=".7"/>
<line x1="40" y1="336" x2="745" y2="336" stroke="#84856f" stroke-width="12" opacity=".7"/>
<line x1="40" y1="382" x2="745" y2="382" stroke="#84856f" stroke-width="12" opacity=".7"/>
<line x1="40" y1="428" x2="745" y2="428" stroke="#84856f" stroke-width="12" opacity=".7"/>
<line x1="40" y1="474" x2="745" y2="474" stroke="#84856f" stroke-width="12" opacity=".7"/>
<line x1="40" y1="520" x2="745" y2="520" stroke="#84856f" stroke-width="12" opacity=".7"/>
<line x1="40" y1="566" x2="745" y2="566" stroke="#84856f" stroke-width="12" opacity=".7"/>
<line x1="100" y1="42" x2="100" y2="450" stroke="#c8c8ba" stroke-width="10" opacity=".6"/>
<line x1="195" y1="42" x2="195" y2="450" stroke="#c8c8ba" stroke-width="10" opacity=".6"/>
<line x1="290" y1="42" x2="290" y2="450" stroke="#c8c8ba" stroke-width="10" opacity=".6"/>
<line x1="385" y1="42" x2="385" y2="450" stroke="#c8c8ba" stroke-width="10" opacity=".6"/>
<line x1="480" y1="42" x2="480" y2="450" stroke="#c8c8ba" stroke-width="10" opacity=".6"/>
<line x1="575" y1="42" x2="575" y2="450" stroke="#c8c8ba" stroke-width="10" opacity=".6"/>
<line x1="670" y1="42" x2="670" y2="450" stroke="#c8c8ba" stroke-width="10" opacity=".6"/>
<polygon points="450,42 742,42 742,330 620,170" fill="#b3bdb2" opacity="0.75"/>
<path d="M40,420 C120,330 200,220 280,160 C340,120 392,90 422,42 L512,42 C532,80 562,112 622,172 C682,222 722,282 742,342 L742,700 C650,670 500,612 400,612 C250,612 120,620 40,626Z" fill="#edd3ca" />
<path d="M40,420 C120,330 200,220 280,160 C340,120 392,90 422,42 L440,42 C420,160 330,330 250,420 C180,500 100,560 40,600Z" fill="#ecb69c" opacity="0.9" />
<path d="M40,470 C150,440 300,470 420,612 L40,626Z" fill="#eecdbf" opacity="0.8" />
<ellipse cx="420" cy="500" rx="160" ry="90" fill="#f3e4de" opacity="0.75" />
<path d="M520,120 C600,200 680,300 742,420 L742,560 C680,420 600,300 500,200Z" fill="#e6c4bc" opacity="0.7" />
<path d="M422,42 L502,42 L486,150 L474,300 L444,342 L404,322 L412,200Z" fill="#dd9e9a" />
<path d="M432,190 L412,320" fill="none" stroke="#f2d6d0" stroke-width="14" stroke-linecap="round" stroke-linejoin="round" />
<path d="M474,300 C464,380 484,420 524,440" fill="none" stroke="#cfa8a2" stroke-width="13" stroke-linecap="round" stroke-linejoin="round" />
<path d="M40,626 C120,620 250,612 400,612 C500,612 650,670 742,700 L742,800 L40,800Z" fill="#9a8f7e" />
<ellipse cx="420" cy="722" rx="185" ry="58" fill="#d9aba3" />
<ellipse cx="150" cy="705" rx="100" ry="38" fill="#b4ac9c" />
<ellipse cx="660" cy="760" rx="80" ry="40" fill="#b9b5a8" />
<path d="M40,618 C120,612 250,602 400,602 C500,602 650,660 742,690" fill="none" stroke="#f2d6ca" stroke-width="20" stroke-linecap="round" stroke-linejoin="round" />
<path d="M40,640 C120,634 250,626 400,626 C500,626 650,684 742,714" fill="none" stroke="#d29888" stroke-width="10" stroke-linecap="round" stroke-linejoin="round" />
<ellipse cx="700" cy="262" rx="16" ry="36" fill="#c6d242" transform="rotate(-15 700 262)" />
<circle cx="75" cy="582" r="14" fill="#f6f0e0"/>
<circle cx="628" cy="342" r="10" fill="#e0c858"/>
</g>
</g>
<g clip-path="url(#tc10)">
<rect x="212.0" y="633.5" width="70.2" height="72.9" fill="#fff"/>
<g transform="translate(208 630) scale(0.10088)" filter="url(#bl3)">
<rect x="0" y="0" width="800" height="800" fill="#d29fb0"/>
<polygon points="640,35 735,35 735,260 650,330 690,200" fill="#c7818f"/>
<polygon points="130,35 235,35 215,300 205,560 160,250" fill="#e2abb6"/>
<path d="M230,35 L425,35 L402,132 L332,172 L250,122Z" fill="#8c4454" />
<ellipse cx="535" cy="130" rx="135" ry="98" fill="#e9c1c9" />
<ellipse cx="300" cy="150" rx="60" ry="30" fill="#e8dcdc" transform="rotate(30 300 150)" />
<ellipse cx="390" cy="372" rx="212" ry="192" fill="#cd9db2" />
<ellipse cx="299" cy="397" rx="34" ry="20" fill="#c28ea8" transform="rotate(47 299 397)" opacity="0.8" />
<ellipse cx="417" cy="303" rx="40" ry="16" fill="#dcb0c0" transform="rotate(114 417 303)" opacity="0.8" />
<ellipse cx="385" cy="385" rx="40" ry="16" fill="#c896ae" transform="rotate(115 385 385)" opacity="0.8" />
<ellipse cx="330" cy="295" rx="28" ry="16" fill="#dcb0c0" transform="rotate(15 330 295)" opacity="0.8" />
<ellipse cx="536" cy="402" rx="40" ry="16" fill="#c896ae" transform="rotate(83 536 402)" opacity="0.8" />
<ellipse cx="257" cy="419" rx="40" ry="16" fill="#d8a8bc" transform="rotate(127 257 419)" opacity="0.8" />
<ellipse cx="404" cy="372" rx="40" ry="20" fill="#c896ae" transform="rotate(141 404 372)" opacity="0.8" />
<ellipse cx="533" cy="368" rx="40" ry="20" fill="#d8a8bc" transform="rotate(58 533 368)" opacity="0.8" />
<ellipse cx="385" cy="372" rx="40" ry="16" fill="#c896ae" transform="rotate(27 385 372)" opacity="0.8" />
<ellipse cx="427" cy="323" rx="28" ry="16" fill="#c28ea8" transform="rotate(53 427 323)" opacity="0.8" />
<ellipse cx="398" cy="368" rx="34" ry="20" fill="#c896ae" transform="rotate(18 398 368)" opacity="0.8" />
<ellipse cx="359" cy="360" rx="40" ry="20" fill="#d8a8bc" transform="rotate(22 359 360)" opacity="0.8" />
<ellipse cx="389" cy="374" rx="34" ry="16" fill="#c28ea8" transform="rotate(63 389 374)" opacity="0.8" />
<ellipse cx="389" cy="370" rx="34" ry="20" fill="#c28ea8" transform="rotate(174 389 370)" opacity="0.8" />
<ellipse cx="319" cy="347" rx="28" ry="16" fill="#c896ae" transform="rotate(164 319 347)" opacity="0.8" />
<ellipse cx="340" cy="412" rx="28" ry="16" fill="#d8a8bc" transform="rotate(151 340 412)" opacity="0.8" />
<ellipse cx="340" cy="500" rx="28" ry="16" fill="#c896ae" transform="rotate(154 340 500)" opacity="0.8" />
<ellipse cx="379" cy="360" rx="28" ry="16" fill="#c896ae" transform="rotate(66 379 360)" opacity="0.8" />
<ellipse cx="494" cy="378" rx="34" ry="20" fill="#dcb0c0" transform="rotate(19 494 378)" opacity="0.8" />
<ellipse cx="474" cy="420" rx="28" ry="16" fill="#d8a8bc" transform="rotate(95 474 420)" opacity="0.8" />
<ellipse cx="374" cy="359" rx="40" ry="20" fill="#c28ea8" transform="rotate(98 374 359)" opacity="0.8" />
<ellipse cx="401" cy="394" rx="28" ry="16" fill="#c28ea8" transform="rotate(40 401 394)" opacity="0.8" />
<ellipse cx="379" cy="228" rx="28" ry="20" fill="#c896ae" transform="rotate(154 379 228)" opacity="0.8" />
<ellipse cx="397" cy="375" rx="28" ry="16" fill="#d8a8bc" transform="rotate(61 397 375)" opacity="0.8" />
<ellipse cx="386" cy="312" rx="34" ry="20" fill="#d8a8bc" transform="rotate(133 386 312)" opacity="0.8" />
<ellipse cx="445" cy="470" rx="28" ry="16" fill="#c28ea8" transform="rotate(122 445 470)" opacity="0.8" />
<path d="M381,506 Q369,451 425,445" fill="none" stroke="#93687e" stroke-width="26" stroke-linecap="round" stroke-linejoin="round" opacity="1.0" />
<path d="M381,506 Q369,451 425,445" fill="none" stroke="#cfa0b6" stroke-width="17" stroke-linecap="round" stroke-linejoin="round" opacity="1.0" />
<path d="M491,265 Q500,304 535,287" fill="none" stroke="#93687e" stroke-width="29" stroke-linecap="round" stroke-linejoin="round" opacity="1.0" />
<path d="M491,265 Q500,304 535,287" fill="none" stroke="#dcb2c4" stroke-width="20" stroke-linecap="round" stroke-linejoin="round" opacity="1.0" />
<path d="M236,430 Q274,405 306,436" fill="none" stroke="#93687e" stroke-width="26" stroke-linecap="round" stroke-linejoin="round" opacity="1.0" />
<path d="M236,430 Q274,405 306,436" fill="none" stroke="#d8acc0" stroke-width="17" stroke-linecap="round" stroke-linejoin="round" opacity="1.0" />
<path d="M464,235 Q439,182 487,151" fill="none" stroke="#93687e" stroke-width="30" stroke-linecap="round" stroke-linejoin="round" opacity="1.0" />
<path d="M464,235 Q439,182 487,151" fill="none" stroke="#c494ac" stroke-width="21" stroke-linecap="round" stroke-linejoin="round" opacity="1.0" />
<path d="M500,290 Q534,221 457,212" fill="none" stroke="#93687e" stroke-width="29" stroke-linecap="round" stroke-linejoin="round" opacity="1.0" />
<path d="M500,290 Q534,221 457,212" fill="none" stroke="#dcb2c4" stroke-width="20" stroke-linecap="round" stroke-linejoin="round" opacity="1.0" />
<path d="M309,473 Q313,509 303,544" fill="none" stroke="#93687e" stroke-width="29" stroke-linecap="round" stroke-linejoin="round" opacity="1.0" />
<path d="M309,473 Q313,509 303,544" fill="none" stroke="#cfa0b6" stroke-width="20" stroke-linecap="round" stroke-linejoin="round" opacity="1.0" />
<path d="M243,418 Q271,461 225,482" fill="none" stroke="#93687e" stroke-width="27" stroke-linecap="round" stroke-linejoin="round" opacity="1.0" />
<path d="M243,418 Q271,461 225,482" fill="none" stroke="#d8acc0" stroke-width="18" stroke-linecap="round" stroke-linejoin="round" opacity="1.0" />
<path d="M251,398 Q272,420 291,442" fill="none" stroke="#93687e" stroke-width="26" stroke-linecap="round" stroke-linejoin="round" opacity="1.0" />
<path d="M251,398 Q272,420 291,442" fill="none" stroke="#cfa0b6" stroke-width="17" stroke-linecap="round" stroke-linejoin="round" opacity="1.0" />
<path d="M507,272 Q482,272 465,292" fill="none" stroke="#93687e" stroke-width="28" stroke-linecap="round" stroke-linejoin="round" opacity="1.0" />
<path d="M507,272 Q482,272 465,292" fill="none" stroke="#dcb2c4" stroke-width="19" stroke-linecap="round" stroke-linejoin="round" opacity="1.0" />
<path d="M355,204 Q350,235 382,237" fill="none" stroke="#93687e" stroke-width="30" stroke-linecap="round" stroke-linejoin="round" opacity="1.0" />
<path d="M355,204 Q350,235 382,237" fill="none" stroke="#d8acc0" stroke-width="21" stroke-linecap="round" stroke-linejoin="round" opacity="1.0" />
<path d="M454,457 Q515,464 517,403" fill="none" stroke="#93687e" stroke-width="26" stroke-linecap="round" stroke-linejoin="round" opacity="1.0" />
<path d="M454,457 Q515,464 517,403" fill="none" stroke="#d8acc0" stroke-width="17" stroke-linecap="round" stroke-linejoin="round" opacity="1.0" />
<path d="M241,347 Q191,318 217,266" fill="none" stroke="#93687e" stroke-width="28" stroke-linecap="round" stroke-linejoin="round" opacity="1.0" />
<path d="M241,347 Q191,318 217,266" fill="none" stroke="#e2bccc" stroke-width="19" stroke-linecap="round" stroke-linejoin="round" opacity="1.0" />
<path d="M539,403 Q524,388 503,382" fill="none" stroke="#93687e" stroke-width="26" stroke-linecap="round" stroke-linejoin="round" opacity="1.0" />
<path d="M539,403 Q524,388 503,382" fill="none" stroke="#cfa0b6" stroke-width="17" stroke-linecap="round" stroke-linejoin="round" opacity="1.0" />
<path d="M468,486 Q507,503 475,531" fill="none" stroke="#93687e" stroke-width="29" stroke-linecap="round" stroke-linejoin="round" opacity="1.0" />
<path d="M468,486 Q507,503 475,531" fill="none" stroke="#e2bccc" stroke-width="20" stroke-linecap="round" stroke-linejoin="round" opacity="1.0" />
<path d="M444,232 Q485,203 484,153" fill="none" stroke="#93687e" stroke-width="28" stroke-linecap="round" stroke-linejoin="round" opacity="1.0" />
<path d="M444,232 Q485,203 484,153" fill="none" stroke="#cfa0b6" stroke-width="19" stroke-linecap="round" stroke-linejoin="round" opacity="1.0" />
<path d="M454,364 Q442,390 448,419" fill="none" stroke="#93687e" stroke-width="25" stroke-linecap="round" stroke-linejoin="round" opacity="1.0" />
<path d="M454,364 Q442,390 448,419" fill="none" stroke="#c494ac" stroke-width="16" stroke-linecap="round" stroke-linejoin="round" opacity="1.0" />
<path d="M221,343 Q236,373 203,381" fill="none" stroke="#93687e" stroke-width="28" stroke-linecap="round" stroke-linejoin="round" opacity="1.0" />
<path d="M221,343 Q236,373 203,381" fill="none" stroke="#e2bccc" stroke-width="19" stroke-linecap="round" stroke-linejoin="round" opacity="1.0" />
<path d="M263,353 Q312,406 242,423" fill="none" stroke="#93687e" stroke-width="28" stroke-linecap="round" stroke-linejoin="round" opacity="1.0" />
<path d="M263,353 Q312,406 242,423" fill="none" stroke="#cfa0b6" stroke-width="19" stroke-linecap="round" stroke-linejoin="round" opacity="1.0" />
<path d="M383,279 Q379,230 426,219" fill="none" stroke="#93687e" stroke-width="29" stroke-linecap="round" stroke-linejoin="round" opacity="1.0" />
<path d="M383,279 Q379,230 426,219" fill="none" stroke="#d8acc0" stroke-width="20" stroke-linecap="round" stroke-linejoin="round" opacity="1.0" />
<path d="M410,236 Q385,217 371,188" fill="none" stroke="#93687e" stroke-width="27" stroke-linecap="round" stroke-linejoin="round" opacity="1.0" />
<path d="M410,236 Q385,217 371,188" fill="none" stroke="#c494ac" stroke-width="18" stroke-linecap="round" stroke-linejoin="round" opacity="1.0" />
<path d="M528,442 Q562,477 598,444" fill="none" stroke="#93687e" stroke-width="26" stroke-linecap="round" stroke-linejoin="round" opacity="1.0" />
<path d="M528,442 Q562,477 598,444" fill="none" stroke="#c494ac" stroke-width="17" stroke-linecap="round" stroke-linejoin="round" opacity="1.0" />
<path d="M505,359 Q490,321 463,352" fill="none" stroke="#93687e" stroke-width="26" stroke-linecap="round" stroke-linejoin="round" opacity="1.0" />
<path d="M505,359 Q490,321 463,352" fill="none" stroke="#dcb2c4" stroke-width="17" stroke-linecap="round" stroke-linejoin="round" opacity="1.0" />
<path d="M518,465 Q519,492 501,513" fill="none" stroke="#93687e" stroke-width="25" stroke-linecap="round" stroke-linejoin="round" opacity="1.0" />
<path d="M518,465 Q519,492 501,513" fill="none" stroke="#cfa0b6" stroke-width="16" stroke-linecap="round" stroke-linejoin="round" opacity="1.0" />
<path d="M495,435 Q461,425 435,400" fill="none" stroke="#93687e" stroke-width="27" stroke-linecap="round" stroke-linejoin="round" opacity="1.0" />
<path d="M495,435 Q461,425 435,400" fill="none" stroke="#d8acc0" stroke-width="18" stroke-linecap="round" stroke-linejoin="round" opacity="1.0" />
<path d="M504,476 Q529,462 548,441" fill="none" stroke="#93687e" stroke-width="26" stroke-linecap="round" stroke-linejoin="round" opacity="1.0" />
<path d="M504,476 Q529,462 548,441" fill="none" stroke="#dcb2c4" stroke-width="17" stroke-linecap="round" stroke-linejoin="round" opacity="1.0" />
<path d="M529,265 Q530,334 592,305" fill="none" stroke="#93687e" stroke-width="25" stroke-linecap="round" stroke-linejoin="round" opacity="1.0" />
<path d="M529,265 Q530,334 592,305" fill="none" stroke="#d8acc0" stroke-width="16" stroke-linecap="round" stroke-linejoin="round" opacity="1.0" />
<path d="M417,291 Q450,228 379,225" fill="none" stroke="#93687e" stroke-width="28" stroke-linecap="round" stroke-linejoin="round" opacity="1.0" />
<path d="M417,291 Q450,228 379,225" fill="none" stroke="#c494ac" stroke-width="19" stroke-linecap="round" stroke-linejoin="round" opacity="1.0" />
<path d="M429,465 Q399,492 388,453" fill="none" stroke="#93687e" stroke-width="29" stroke-linecap="round" stroke-linejoin="round" opacity="1.0" />
<path d="M429,465 Q399,492 388,453" fill="none" stroke="#e2bccc" stroke-width="20" stroke-linecap="round" stroke-linejoin="round" opacity="1.0" />
<path d="M397,262 Q411,289 433,310" fill="none" stroke="#93687e" stroke-width="27" stroke-linecap="round" stroke-linejoin="round" opacity="1.0" />
<path d="M397,262 Q411,289 433,310" fill="none" stroke="#d8acc0" stroke-width="18" stroke-linecap="round" stroke-linejoin="round" opacity="1.0" />
<path d="M421,375 Q432,422 480,422" fill="none" stroke="#93687e" stroke-width="30" stroke-linecap="round" stroke-linejoin="round" opacity="1.0" />
<path d="M421,375 Q432,422 480,422" fill="none" stroke="#d8acc0" stroke-width="21" stroke-linecap="round" stroke-linejoin="round" opacity="1.0" />
<path d="M434,262 Q475,245 469,200" fill="none" stroke="#93687e" stroke-width="27" stroke-linecap="round" stroke-linejoin="round" opacity="1.0" />
<path d="M434,262 Q475,245 469,200" fill="none" stroke="#dcb2c4" stroke-width="18" stroke-linecap="round" stroke-linejoin="round" opacity="1.0" />
<path d="M469,425 Q432,470 381,441" fill="none" stroke="#93687e" stroke-width="30" stroke-linecap="round" stroke-linejoin="round" opacity="1.0" />
<path d="M469,425 Q432,470 381,441" fill="none" stroke="#c494ac" stroke-width="21" stroke-linecap="round" stroke-linejoin="round" opacity="1.0" />
<path d="M348,482 Q375,520 337,548" fill="none" stroke="#93687e" stroke-width="31" stroke-linecap="round" stroke-linejoin="round" opacity="1.0" />
<path d="M348,482 Q375,520 337,548" fill="none" stroke="#d8acc0" stroke-width="22" stroke-linecap="round" stroke-linejoin="round" opacity="1.0" />
<path d="M231,450 Q195,487 153,458" fill="none" stroke="#93687e" stroke-width="28" stroke-linecap="round" stroke-linejoin="round" opacity="1.0" />
<path d="M231,450 Q195,487 153,458" fill="none" stroke="#e2bccc" stroke-width="19" stroke-linecap="round" stroke-linejoin="round" opacity="1.0" />
<path d="M232,399 Q195,335 269,333" fill="none" stroke="#93687e" stroke-width="30" stroke-linecap="round" stroke-linejoin="round" opacity="1.0" />
<path d="M232,399 Q195,335 269,333" fill="none" stroke="#c494ac" stroke-width="21" stroke-linecap="round" stroke-linejoin="round" opacity="1.0" />
<path d="M424,300 Q396,302 386,276" fill="none" stroke="#93687e" stroke-width="30" stroke-linecap="round" stroke-linejoin="round" opacity="1.0" />
<path d="M424,300 Q396,302 386,276" fill="none" stroke="#c494ac" stroke-width="21" stroke-linecap="round" stroke-linejoin="round" opacity="1.0" />
<path d="M248,302 Q272,273 236,261" fill="none" stroke="#93687e" stroke-width="29" stroke-linecap="round" stroke-linejoin="round" opacity="1.0" />
<path d="M248,302 Q272,273 236,261" fill="none" stroke="#dcb2c4" stroke-width="20" stroke-linecap="round" stroke-linejoin="round" opacity="1.0" />
<path d="M417,359 Q403,423 468,424" fill="none" stroke="#93687e" stroke-width="26" stroke-linecap="round" stroke-linejoin="round" opacity="1.0" />
<path d="M417,359 Q403,423 468,424" fill="none" stroke="#dcb2c4" stroke-width="17" stroke-linecap="round" stroke-linejoin="round" opacity="1.0" />
<path d="M376,255 Q448,283 388,331" fill="none" stroke="#93687e" stroke-width="26" stroke-linecap="round" stroke-linejoin="round" opacity="1.0" />
<path d="M376,255 Q448,283 388,331" fill="none" stroke="#d8acc0" stroke-width="17" stroke-linecap="round" stroke-linejoin="round" opacity="1.0" />
<path d="M372,362 Q356,330 376,299" fill="none" stroke="#93687e" stroke-width="26" stroke-linecap="round" stroke-linejoin="round" opacity="1.0" />
<path d="M372,362 Q356,330 376,299" fill="none" stroke="#dcb2c4" stroke-width="17" stroke-linecap="round" stroke-linejoin="round" opacity="1.0" />
<path d="M208,339 Q179,383 156,336" fill="none" stroke="#93687e" stroke-width="27" stroke-linecap="round" stroke-linejoin="round" opacity="1.0" />
<path d="M208,339 Q179,383 156,336" fill="none" stroke="#cfa0b6" stroke-width="18" stroke-linecap="round" stroke-linejoin="round" opacity="1.0" />
<path d="M542,301 Q555,251 508,227" fill="none" stroke="#93687e" stroke-width="29" stroke-linecap="round" stroke-linejoin="round" opacity="1.0" />
<path d="M542,301 Q555,251 508,227" fill="none" stroke="#e2bccc" stroke-width="20" stroke-linecap="round" stroke-linejoin="round" opacity="1.0" />
<path d="M520,444 Q560,451 540,486" fill="none" stroke="#93687e" stroke-width="28" stroke-linecap="round" stroke-linejoin="round" opacity="1.0" />
<path d="M520,444 Q560,451 540,486" fill="none" stroke="#cfa0b6" stroke-width="19" stroke-linecap="round" stroke-linejoin="round" opacity="1.0" />
<path d="M288,287 Q304,248 344,232" fill="none" stroke="#93687e" stroke-width="30" stroke-linecap="round" stroke-linejoin="round" opacity="1.0" />
<path d="M288,287 Q304,248 344,232" fill="none" stroke="#c494ac" stroke-width="21" stroke-linecap="round" stroke-linejoin="round" opacity="1.0" />
<path d="M435,250 Q450,235 462,217" fill="none" stroke="#93687e" stroke-width="27" stroke-linecap="round" stroke-linejoin="round" opacity="1.0" />
<path d="M435,250 Q450,235 462,217" fill="none" stroke="#c494ac" stroke-width="18" stroke-linecap="round" stroke-linejoin="round" opacity="1.0" />
<path d="M307,222 Q321,288 255,274" fill="none" stroke="#93687e" stroke-width="28" stroke-linecap="round" stroke-linejoin="round" opacity="1.0" />
<path d="M307,222 Q321,288 255,274" fill="none" stroke="#c494ac" stroke-width="19" stroke-linecap="round" stroke-linejoin="round" opacity="1.0" />
<path d="M335,521 Q322,503 325,481" fill="none" stroke="#93687e" stroke-width="28" stroke-linecap="round" stroke-linejoin="round" opacity="1.0" />
<path d="M335,521 Q322,503 325,481" fill="none" stroke="#dcb2c4" stroke-width="19" stroke-linecap="round" stroke-linejoin="round" opacity="1.0" />
<path d="M465,403 Q470,432 444,445" fill="none" stroke="#93687e" stroke-width="31" stroke-linecap="round" stroke-linejoin="round" opacity="1.0" />
<path d="M465,403 Q470,432 444,445" fill="none" stroke="#cfa0b6" stroke-width="22" stroke-linecap="round" stroke-linejoin="round" opacity="1.0" />
<path d="M264,418 Q270,385 236,389" fill="none" stroke="#93687e" stroke-width="29" stroke-linecap="round" stroke-linejoin="round" opacity="1.0" />
<path d="M264,418 Q270,385 236,389" fill="none" stroke="#cfa0b6" stroke-width="20" stroke-linecap="round" stroke-linejoin="round" opacity="1.0" />
<path d="M523,330 Q450,339 495,396" fill="none" stroke="#93687e" stroke-width="26" stroke-linecap="round" stroke-linejoin="round" opacity="1.0" />
<path d="M523,330 Q450,339 495,396" fill="none" stroke="#cfa0b6" stroke-width="17" stroke-linecap="round" stroke-linejoin="round" opacity="1.0" />
<path d="M475,390 Q513,382 526,344" fill="none" stroke="#93687e" stroke-width="29" stroke-linecap="round" stroke-linejoin="round" opacity="1.0" />
<path d="M475,390 Q513,382 526,344" fill="none" stroke="#dcb2c4" stroke-width="20" stroke-linecap="round" stroke-linejoin="round" opacity="1.0" />
<path d="M440,215 Q459,233 485,231" fill="none" stroke="#93687e" stroke-width="28" stroke-linecap="round" stroke-linejoin="round" opacity="1.0" />
<path d="M440,215 Q459,233 485,231" fill="none" stroke="#e2bccc" stroke-width="19" stroke-linecap="round" stroke-linejoin="round" opacity="1.0" />
<path d="M419,220 Q407,196 426,176" fill="none" stroke="#93687e" stroke-width="27" stroke-linecap="round" stroke-linejoin="round" opacity="1.0" />
<path d="M419,220 Q407,196 426,176" fill="none" stroke="#d8acc0" stroke-width="18" stroke-linecap="round" stroke-linejoin="round" opacity="1.0" />
<path d="M362,492 Q376,451 419,454" fill="none" stroke="#93687e" stroke-width="29" stroke-linecap="round" stroke-linejoin="round" opacity="1.0" />
<path d="M362,492 Q376,451 419,454" fill="none" stroke="#dcb2c4" stroke-width="20" stroke-linecap="round" stroke-linejoin="round" opacity="1.0" />
<path d="M419,323 Q421,352 450,352" fill="none" stroke="#93687e" stroke-width="26" stroke-linecap="round" stroke-linejoin="round" opacity="1.0" />
<path d="M419,323 Q421,352 450,352" fill="none" stroke="#cfa0b6" stroke-width="17" stroke-linecap="round" stroke-linejoin="round" opacity="1.0" />
<path d="M348,327 Q291,351 296,289" fill="none" stroke="#93687e" stroke-width="30" stroke-linecap="round" stroke-linejoin="round" opacity="1.0" />
<path d="M348,327 Q291,351 296,289" fill="none" stroke="#e2bccc" stroke-width="21" stroke-linecap="round" stroke-linejoin="round" opacity="1.0" />
<path d="M253,434 Q252,463 228,479" fill="none" stroke="#93687e" stroke-width="25" stroke-linecap="round" stroke-linejoin="round" opacity="1.0" />
<path d="M253,434 Q252,463 228,479" fill="none" stroke="#c494ac" stroke-width="16" stroke-linecap="round" stroke-linejoin="round" opacity="1.0" />
<path d="M440,393 Q450,354 473,321" fill="none" stroke="#93687e" stroke-width="28" stroke-linecap="round" stroke-linejoin="round" opacity="1.0" />
<path d="M440,393 Q450,354 473,321" fill="none" stroke="#cfa0b6" stroke-width="19" stroke-linecap="round" stroke-linejoin="round" opacity="1.0" />
<path d="M350,235 Q341,258 323,273" fill="none" stroke="#93687e" stroke-width="28" stroke-linecap="round" stroke-linejoin="round" opacity="1.0" />
<path d="M350,235 Q341,258 323,273" fill="none" stroke="#d8acc0" stroke-width="19" stroke-linecap="round" stroke-linejoin="round" opacity="1.0" />
<path d="M286,477 Q295,528 347,525" fill="none" stroke="#93687e" stroke-width="28" stroke-linecap="round" stroke-linejoin="round" opacity="1.0" />
<path d="M286,477 Q295,528 347,525" fill="none" stroke="#c494ac" stroke-width="19" stroke-linecap="round" stroke-linejoin="round" opacity="1.0" />
<ellipse cx="577" cy="292" rx="50" ry="62" fill="#dccaa8" />
<ellipse cx="560" cy="522" rx="40" ry="40" fill="#e0c8a0" />
<ellipse cx="400" cy="582" rx="122" ry="50" fill="#d8a092" />
<ellipse cx="422" cy="576" rx="42" ry="24" fill="#e2a272" />
<ellipse cx="330" cy="560" rx="40" ry="22" fill="#c47888" />
<polygon points="210,600 600,600 642,757 150,757" fill="#d5909c"/>
<ellipse cx="380" cy="712" rx="110" ry="50" fill="#e2b2ba" />
<ellipse cx="380" cy="656" rx="62" ry="30" fill="#8a919b" />
<path d="M182,600 L160,757" fill="none" stroke="#d86a4a" stroke-width="42" stroke-linecap="round" stroke-linejoin="round" />
<path d="M602,622 L640,757" fill="none" stroke="#c8706a" stroke-width="30" stroke-linecap="round" stroke-linejoin="round" />
<path d="M40,35 L132,35 L162,250 L192,400 L212,560 L150,757 L40,757Z" fill="#1a1e1a" />
<path d="M735,255 L652,332 L622,452 L602,562 L642,757 L735,757Z" fill="#161a16" />
</g>
</g>
<g clip-path="url(#tc11)">
<rect x="283.7" y="634.5" width="83.6" height="72.2" fill="#fff"/>
<g transform="translate(280 630) scale(0.10624)" filter="url(#bl3)">
<rect x="0" y="0" width="900" height="800" fill="#f5deef"/>
<path d="M35,42 L700,42 C780,120 816,220 813,332 C806,482 742,622 622,722 L35,722Z" fill="#e35cb6" />
<path d="M740,100 C800,250 782,452 682,602" fill="none" stroke="#f1a9d9" stroke-width="9" stroke-linecap="round" stroke-linejoin="round" />
<path d="M35,42 L632,42 C712,120 736,250 712,372 C682,482 592,572 462,612 C342,640 190,600 35,470Z" fill="#aa5ec6" />
<ellipse cx="300" cy="400" rx="90" ry="190" fill="#8f58bc" opacity="0.7" />
<ellipse cx="480" cy="430" rx="80" ry="170" fill="#9058bc" opacity="0.65" />
<ellipse cx="560" cy="300" rx="60" ry="170" fill="#c070d0" opacity="0.5" />
<ellipse cx="120" cy="470" rx="70" ry="70" fill="#9a5cc0" opacity="0.6" />
<ellipse cx="640" cy="150" rx="50" ry="90" fill="#9656bc" opacity="0.5" />
<ellipse cx="390" cy="300" rx="40" ry="200" fill="#c474d0" opacity="0.6" />
<path d="M330,250 C345,400 352,500 392,600" fill="none" stroke="#d070cc" stroke-width="8" stroke-linecap="round" stroke-linejoin="round" opacity="0.8" />
<path d="M100,392 L150,332 L140,250 L170,130 L212,56 L262,48 L332,62 L402,92 L472,172 L502,272 L512,340" fill="none" stroke="#ffffff" stroke-width="30" stroke-linecap="round" stroke-linejoin="round" />
<path d="M150,332 L95,386 M150,332 L136,416 M150,332 L206,396" fill="none" stroke="#ffffff" stroke-width="9" stroke-linecap="round" stroke-linejoin="round" />
<path d="M512,330 L486,346 M512,330 L556,366 M512,330 L526,352" fill="none" stroke="#ffffff" stroke-width="9" stroke-linecap="round" stroke-linejoin="round" />
<path d="M472,172 L546,155 M250,60 L232,130" fill="none" stroke="#ffffff" stroke-width="6" stroke-linecap="round" stroke-linejoin="round" />
<path d="M380,542 L396,612 L442,606 L520,585" fill="none" stroke="#ffffff" stroke-width="9" stroke-linecap="round" stroke-linejoin="round" />
</g>
<rect x="283.7" y="634.5" width="83.6" height="72.2" filter="url(#nzw)"/>
</g>
<line x1="340.6" y1="694.3" x2="363.9" y2="694.3" stroke="#000" stroke-width="2.0"/>
<text x="351.55" y="704.5" font-family="Liberation Sans,Arial,sans-serif" font-size="6.9" font-weight="bold" text-anchor="middle" fill="#000">100μm</text>
<g clip-path="url(#tc12)">
<rect x="372.5" y="634.0" width="72.6" height="72.3" fill="#14148e"/>
<g transform="translate(368 630) scale(0.10084)" filter="url(#bl5)">
<rect x="0" y="0" width="830" height="800" fill="#111180"/>
<ellipse cx="650" cy="100" rx="62" ry="50" fill="#2020bc" opacity="0.6" />
<ellipse cx="120" cy="100" rx="60" ry="72" fill="#2020bc" opacity="0.6" />
<ellipse cx="150" cy="232" rx="50" ry="50" fill="#2020bc" opacity="0.6" />
<ellipse cx="470" cy="110" rx="70" ry="50" fill="#2020bc" opacity="0.6" />
<ellipse cx="220" cy="330" rx="55" ry="60" fill="#2020bc" opacity="0.6" />
<ellipse cx="650" cy="330" rx="70" ry="80" fill="#2020bc" opacity="0.6" />
<ellipse cx="700" cy="560" rx="60" ry="90" fill="#2020bc" opacity="0.6" />
<ellipse cx="300" cy="520" rx="50" ry="60" fill="#2020bc" opacity="0.6" />
<ellipse cx="430" cy="600" rx="60" ry="50" fill="#2020bc" opacity="0.6" />
<ellipse cx="560" cy="250" rx="60" ry="40" fill="#2020bc" opacity="0.6" />
<ellipse cx="560" cy="130" rx="40" ry="60" fill="#0a0a4c" opacity="0.8" />
<ellipse cx="330" cy="420" rx="30" ry="50" fill="#0a0a4c" opacity="0.8" />
<ellipse cx="200" cy="180" rx="35" ry="30" fill="#0a0a4c" opacity="0.8" />
<ellipse cx="620" cy="460" rx="35" ry="50" fill="#0a0a4c" opacity="0.8" />
<ellipse cx="740" cy="230" rx="30" ry="60" fill="#0a0a4c" opacity="0.8" />
<ellipse cx="480" cy="680" rx="60" ry="40" fill="#0a0a4c" opacity="0.8" />
<path d="M45,250 C120,350 220,500 300,562 C380,625 450,680 520,757 L45,757Z" fill="#0a0a48" />
<path d="M45,330 C120,422 220,562 300,622 C380,682 450,732 500,757 L45,757Z" fill="#04040c" />
<path d="M270,50 L332,50 L402,250 L472,342 L542,402 L602,562 L582,602 L522,522 L442,402 L372,332 L302,200Z" fill="#050512" />
<circle cx="370" cy="150" r="7" fill="#c82828" opacity="0.9"/>
<circle cx="340" cy="80" r="7" fill="#c82828" opacity="0.9"/>
<circle cx="250" cy="120" r="7" fill="#c82828" opacity="0.9"/>
<circle cx="440" cy="300" r="7" fill="#c82828" opacity="0.9"/>
<circle cx="340" cy="350" r="7" fill="#c82828" opacity="0.9"/>
<circle cx="345" cy="400" r="7" fill="#c82828" opacity="0.9"/>
<circle cx="390" cy="435" r="7" fill="#c82828" opacity="0.9"/>
<circle cx="430" cy="455" r="7" fill="#c82828" opacity="0.9"/>
<circle cx="500" cy="545" r="7" fill="#c82828" opacity="0.9"/>
<circle cx="620" cy="490" r="7" fill="#c82828" opacity="0.9"/>
<circle cx="590" cy="590" r="7" fill="#c82828" opacity="0.9"/>
<circle cx="310" cy="215" r="7" fill="#c82828" opacity="0.9"/>
</g>
<rect x="372.5" y="634.0" width="72.6" height="72.3" filter="url(#nzk)"/>
</g>
<line x1="418.9" y1="693.5" x2="442.1" y2="693.5" stroke="#e8696b" stroke-width="2.6"/>
<text x="429.80" y="703.2" font-family="Liberation Sans,Arial,sans-serif" font-size="6.9" font-weight="bold" text-anchor="middle" fill="#e32222">100μm</text>
<g clip-path="url(#tc13)">
<rect x="138.8" y="709.2" width="70.9" height="71.3" fill="#fff"/>
<g transform="translate(134 705) scale(0.10088)" filter="url(#bl7)">
<rect x="0" y="0" width="800" height="800" fill="#a6aa9a"/>
<line x1="60" y1="42" x2="60" y2="520" stroke="#c0c6b8" stroke-width="12" opacity=".6"/>
<line x1="100" y1="42" x2="100" y2="520" stroke="#c0c6b8" stroke-width="12" opacity=".6"/>
<line x1="140" y1="42" x2="140" y2="520" stroke="#c0c6b8" stroke-width="12" opacity=".6"/>
<line x1="180" y1="42" x2="180" y2="520" stroke="#c0c6b8" stroke-width="12" opacity=".6"/>
<line x1="220" y1="42" x2="220" y2="520" stroke="#c0c6b8" stroke-width="12" opacity=".6"/>
<line x1="260" y1="42" x2="260" y2="520" stroke="#c0c6b8" stroke-width="12" opacity=".6"/>
<line x1="300" y1="42" x2="300" y2="520" stroke="#c0c6b8" stroke-width="12" opacity=".6"/>
<line x1="340" y1="42" x2="340" y2="520" stroke="#c0c6b8" stroke-width="12" opacity=".6"/>
<line x1="380" y1="42" x2="380" y2="520" stroke="#c0c6b8" stroke-width="12" opacity=".6"/>
<line x1="420" y1="42" x2="420" y2="520" stroke="#c0c6b8" stroke-width="12" opacity=".6"/>
<line x1="460" y1="42" x2="460" y2="520" stroke="#c0c6b8" stroke-width="12" opacity=".6"/>
<line x1="500" y1="42" x2="500" y2="520" stroke="#c0c6b8" stroke-width="12" opacity=".6"/>
<line x1="540" y1="42" x2="540" y2="520" stroke="#c0c6b8" stroke-width="12" opacity=".6"/>
<line x1="580" y1="42" x2="580" y2="520" stroke="#c0c6b8" stroke-width="12" opacity=".6"/>
<line x1="620" y1="42" x2="620" y2="520" stroke="#c0c6b8" stroke-width="12" opacity=".6"/>
<line x1="660" y1="42" x2="660" y2="520" stroke="#c0c6b8" stroke-width="12" opacity=".6"/>
<line x1="700" y1="42" x2="700" y2="520" stroke="#c0c6b8" stroke-width="12" opacity=".6"/>
<line x1="740" y1="42" x2="740" y2="520" stroke="#c0c6b8" stroke-width="12" opacity=".6"/>
<polygon points="48,42 300,42 48,330" fill="#848a7c" opacity="0.45"/>
<polygon points="610,42 750,42 750,160" fill="#33332b"/>
<polygon points="48,42 125,42 48,95" fill="#3a3a34"/>
<path d="M48,540 C120,440 250,300 400,160 L432,42 L572,42 L602,160 C662,250 722,320 750,352 L750,748 L48,748Z" fill="#c7a69f" />
<path d="M48,560 C150,520 300,520 470,600 L400,748 L48,748Z" fill="#b48c86" opacity="0.85" />
<path d="M500,600 C600,520 700,480 750,480 L750,748 L580,748Z" fill="#bc9892" opacity="0.8" />
<path d="M250,330 C330,260 400,200 420,160 L440,420Z" fill="#d3b0a6" opacity="0.7" />
<path d="M520,160 C600,260 680,330 750,370 L750,480 C650,440 560,340 520,160Z" fill="#cfaea8" opacity="0.7" />
<path d="M432,60 C402,200 422,330 462,452 C472,482 492,482 502,452 C542,330 562,200 522,60Z" fill="#d9b6aa" stroke="#a8827a" stroke-width="9" stroke-linecap="round" stroke-linejoin="round" />
<ellipse cx="486" cy="92" rx="36" ry="18" fill="#c8a030" />
<ellipse cx="492" cy="215" rx="18" ry="40" fill="#d0a070" opacity="0.8" />
<path d="M482,470 L492,640" fill="none" stroke="#a6847e" stroke-width="22" stroke-linecap="round" stroke-linejoin="round" />
<path d="M420,748 L505,672 L590,748Z" fill="#dcc8a4" />
<path d="M455,752 L505,712 L555,752Z" fill="#a2a292" />
</g>
</g>
<g clip-path="url(#tc14)">
<rect x="211.5" y="709.0" width="70.1" height="70.9" fill="#fff"/>
<g transform="translate(208 705) scale(0.10088)" filter="url(#bl3)">
<rect x="0" y="0" width="800" height="800" fill="#dba4a0"/>
<polygon points="170,40 305,40 252,142 150,200" fill="#d8a8a8"/>
<ellipse cx="500" cy="110" rx="212" ry="92" fill="#e8bcc6" />
<ellipse cx="470" cy="80" rx="140" ry="40" fill="#e2a8b4" opacity="0.7" />
<polygon points="600,130 730,100 730,300 650,240" fill="#c48898"/>
<ellipse cx="380" cy="382" rx="292" ry="202" fill="#d99c94" />
<ellipse cx="461" cy="457" rx="40" ry="19" fill="#d4948e" transform="rotate(55 461 457)" opacity="0.8" />
<ellipse cx="489" cy="367" rx="40" ry="15" fill="#cf8c88" transform="rotate(0 489 367)" opacity="0.8" />
<ellipse cx="594" cy="384" rx="34" ry="15" fill="#cf8c88" transform="rotate(59 594 384)" opacity="0.8" />
<ellipse cx="520" cy="325" rx="34" ry="19" fill="#d4948e" transform="rotate(8 520 325)" opacity="0.8" />
<ellipse cx="500" cy="351" rx="40" ry="15" fill="#e2aa9e" transform="rotate(5 500 351)" opacity="0.8" />
<ellipse cx="486" cy="468" rx="28" ry="15" fill="#d4948e" transform="rotate(41 486 468)" opacity="0.8" />
<ellipse cx="305" cy="356" rx="34" ry="15" fill="#cf8c88" transform="rotate(170 305 356)" opacity="0.8" />
<ellipse cx="574" cy="401" rx="28" ry="15" fill="#cf8c88" transform="rotate(53 574 401)" opacity="0.8" />
<ellipse cx="295" cy="270" rx="40" ry="15" fill="#e6b4a8" transform="rotate(143 295 270)" opacity="0.8" />
<ellipse cx="192" cy="390" rx="28" ry="19" fill="#cf8c88" transform="rotate(137 192 390)" opacity="0.8" />
<ellipse cx="309" cy="400" rx="34" ry="19" fill="#e2aa9e" transform="rotate(124 309 400)" opacity="0.8" />
<ellipse cx="375" cy="375" rx="28" ry="15" fill="#d4948e" transform="rotate(0 375 375)" opacity="0.8" />
<ellipse cx="254" cy="376" rx="40" ry="15" fill="#e2aa9e" transform="rotate(142 254 376)" opacity="0.8" />
<ellipse cx="406" cy="370" rx="40" ry="15" fill="#e2aa9e" transform="rotate(85 406 370)" opacity="0.8" />
<ellipse cx="302" cy="442" rx="34" ry="15" fill="#e6b4a8" transform="rotate(43 302 442)" opacity="0.8" />
<ellipse cx="551" cy="418" rx="34" ry="19" fill="#cf8c88" transform="rotate(174 551 418)" opacity="0.8" />
<ellipse cx="496" cy="389" rx="40" ry="15" fill="#d4948e" transform="rotate(41 496 389)" opacity="0.8" />
<ellipse cx="512" cy="352" rx="34" ry="19" fill="#d4948e" transform="rotate(170 512 352)" opacity="0.8" />
<ellipse cx="384" cy="497" rx="28" ry="15" fill="#d4948e" transform="rotate(104 384 497)" opacity="0.8" />
<ellipse cx="396" cy="304" rx="34" ry="15" fill="#e2aa9e" transform="rotate(168 396 304)" opacity="0.8" />
<ellipse cx="356" cy="430" rx="28" ry="19" fill="#e6b4a8" transform="rotate(86 356 430)" opacity="0.8" />
<ellipse cx="359" cy="356" rx="28" ry="19" fill="#e6b4a8" transform="rotate(64 359 356)" opacity="0.8" />
<ellipse cx="476" cy="443" rx="40" ry="19" fill="#e6b4a8" transform="rotate(54 476 443)" opacity="0.8" />
<ellipse cx="448" cy="341" rx="28" ry="19" fill="#d4948e" transform="rotate(124 448 341)" opacity="0.8" />
<ellipse cx="209" cy="313" rx="34" ry="15" fill="#e2aa9e" transform="rotate(35 209 313)" opacity="0.8" />
<ellipse cx="380" cy="371" rx="40" ry="15" fill="#e6b4a8" transform="rotate(67 380 371)" opacity="0.8" />
<ellipse cx="257" cy="321" rx="40" ry="19" fill="#e2aa9e" transform="rotate(174 257 321)" opacity="0.8" />
<ellipse cx="197" cy="449" rx="28" ry="15" fill="#cf8c88" transform="rotate(24 197 449)" opacity="0.8" />
<ellipse cx="346" cy="388" rx="40" ry="19" fill="#cf8c88" transform="rotate(18 346 388)" opacity="0.8" />
<ellipse cx="481" cy="303" rx="28" ry="19" fill="#e2aa9e" transform="rotate(101 481 303)" opacity="0.8" />
<path d="M601,304 Q630,337 674,346" fill="none" stroke="#a86e6a" stroke-width="28" stroke-linecap="round" stroke-linejoin="round" opacity="1.0" />
<path d="M601,304 Q630,337 674,346" fill="none" stroke="#e4b0a0" stroke-width="19" stroke-linecap="round" stroke-linejoin="round" opacity="1.0" />
<path d="M236,469 Q261,483 289,474" fill="none" stroke="#a86e6a" stroke-width="30" stroke-linecap="round" stroke-linejoin="round" opacity="1.0" />
<path d="M236,469 Q261,483 289,474" fill="none" stroke="#e8b6aa" stroke-width="21" stroke-linecap="round" stroke-linejoin="round" opacity="1.0" />
<path d="M563,435 Q535,407 502,430" fill="none" stroke="#a86e6a" stroke-width="27" stroke-linecap="round" stroke-linejoin="round" opacity="1.0" />
<path d="M563,435 Q535,407 502,430" fill="none" stroke="#e8b6aa" stroke-width="18" stroke-linecap="round" stroke-linejoin="round" opacity="1.0" />
<path d="M388,397 Q429,409 416,449" fill="none" stroke="#a86e6a" stroke-width="29" stroke-linecap="round" stroke-linejoin="round" opacity="1.0" />
<path d="M388,397 Q429,409 416,449" fill="none" stroke="#e4b0a0" stroke-width="20" stroke-linecap="round" stroke-linejoin="round" opacity="1.0" />
<path d="M385,279 Q347,262 348,221" fill="none" stroke="#a86e6a" stroke-width="26" stroke-linecap="round" stroke-linejoin="round" opacity="1.0" />
<path d="M385,279 Q347,262 348,221" fill="none" stroke="#d89890" stroke-width="17" stroke-linecap="round" stroke-linejoin="round" opacity="1.0" />
<path d="M454,464 Q393,450 419,393" fill="none" stroke="#a86e6a" stroke-width="30" stroke-linecap="round" stroke-linejoin="round" opacity="1.0" />
<path d="M454,464 Q393,450 419,393" fill="none" stroke="#e4b0a0" stroke-width="21" stroke-linecap="round" stroke-linejoin="round" opacity="1.0" />
<path d="M270,491 Q313,481 308,524" fill="none" stroke="#a86e6a" stroke-width="25" stroke-linecap="round" stroke-linejoin="round" opacity="1.0" />
<path d="M270,491 Q313,481 308,524" fill="none" stroke="#eac0b2" stroke-width="16" stroke-linecap="round" stroke-linejoin="round" opacity="1.0" />
<path d="M503,341 Q498,402 557,385" fill="none" stroke="#a86e6a" stroke-width="28" stroke-linecap="round" stroke-linejoin="round" opacity="1.0" />
<path d="M503,341 Q498,402 557,385" fill="none" stroke="#d89890" stroke-width="19" stroke-linecap="round" stroke-linejoin="round" opacity="1.0" />
<path d="M249,347 Q270,328 259,303" fill="none" stroke="#a86e6a" stroke-width="30" stroke-linecap="round" stroke-linejoin="round" opacity="1.0" />
<path d="M249,347 Q270,328 259,303" fill="none" stroke="#dfa69c" stroke-width="21" stroke-linecap="round" stroke-linejoin="round" opacity="1.0" />
<path d="M329,420 Q369,430 391,465" fill="none" stroke="#a86e6a" stroke-width="28" stroke-linecap="round" stroke-linejoin="round" opacity="1.0" />
<path d="M329,420 Q369,430 391,465" fill="none" stroke="#e8b6aa" stroke-width="19" stroke-linecap="round" stroke-linejoin="round" opacity="1.0" />
<path d="M532,403 Q553,389 548,365" fill="none" stroke="#a86e6a" stroke-width="31" stroke-linecap="round" stroke-linejoin="round" opacity="1.0" />
<path d="M532,403 Q553,389 548,365" fill="none" stroke="#e8b6aa" stroke-width="22" stroke-linecap="round" stroke-linejoin="round" opacity="1.0" />
<path d="M124,334 Q48,329 80,398" fill="none" stroke="#a86e6a" stroke-width="27" stroke-linecap="round" stroke-linejoin="round" opacity="1.0" />
<path d="M124,334 Q48,329 80,398" fill="none" stroke="#dfa69c" stroke-width="18" stroke-linecap="round" stroke-linejoin="round" opacity="1.0" />
<path d="M505,388 Q501,354 507,320" fill="none" stroke="#a86e6a" stroke-width="27" stroke-linecap="round" stroke-linejoin="round" opacity="1.0" />
<path d="M505,388 Q501,354 507,320" fill="none" stroke="#e8b6aa" stroke-width="18" stroke-linecap="round" stroke-linejoin="round" opacity="1.0" />
<path d="M526,436 Q510,403 479,423" fill="none" stroke="#a86e6a" stroke-width="27" stroke-linecap="round" stroke-linejoin="round" opacity="1.0" />
<path d="M526,436 Q510,403 479,423" fill="none" stroke="#d89890" stroke-width="18" stroke-linecap="round" stroke-linejoin="round" opacity="1.0" />
<path d="M389,384 Q358,358 346,319" fill="none" stroke="#a86e6a" stroke-width="26" stroke-linecap="round" stroke-linejoin="round" opacity="1.0" />
<path d="M389,384 Q358,358 346,319" fill="none" stroke="#e4b0a0" stroke-width="17" stroke-linecap="round" stroke-linejoin="round" opacity="1.0" />
<path d="M311,281 Q346,257 347,215" fill="none" stroke="#a86e6a" stroke-width="26" stroke-linecap="round" stroke-linejoin="round" opacity="1.0" />
<path d="M311,281 Q346,257 347,215" fill="none" stroke="#eac0b2" stroke-width="17" stroke-linecap="round" stroke-linejoin="round" opacity="1.0" />
<path d="M248,407 Q174,432 184,354" fill="none" stroke="#a86e6a" stroke-width="27" stroke-linecap="round" stroke-linejoin="round" opacity="1.0" />
<path d="M248,407 Q174,432 184,354" fill="none" stroke="#e8b6aa" stroke-width="18" stroke-linecap="round" stroke-linejoin="round" opacity="1.0" />
<path d="M273,306 Q264,262 308,248" fill="none" stroke="#a86e6a" stroke-width="31" stroke-linecap="round" stroke-linejoin="round" opacity="1.0" />
<path d="M273,306 Q264,262 308,248" fill="none" stroke="#e8b6aa" stroke-width="22" stroke-linecap="round" stroke-linejoin="round" opacity="1.0" />
<path d="M262,476 Q304,490 296,446" fill="none" stroke="#a86e6a" stroke-width="30" stroke-linecap="round" stroke-linejoin="round" opacity="1.0" />
<path d="M262,476 Q304,490 296,446" fill="none" stroke="#eac0b2" stroke-width="21" stroke-linecap="round" stroke-linejoin="round" opacity="1.0" />
<path d="M535,372 Q519,436 584,434" fill="none" stroke="#a86e6a" stroke-width="26" stroke-linecap="round" stroke-linejoin="round" opacity="1.0" />
<path d="M535,372 Q519,436 584,434" fill="none" stroke="#e8b6aa" stroke-width="17" stroke-linecap="round" stroke-linejoin="round" opacity="1.0" />
<path d="M456,459 Q472,493 509,489" fill="none" stroke="#a86e6a" stroke-width="28" stroke-linecap="round" stroke-linejoin="round" opacity="1.0" />
<path d="M456,459 Q472,493 509,489" fill="none" stroke="#e4b0a0" stroke-width="19" stroke-linecap="round" stroke-linejoin="round" opacity="1.0" />
<path d="M355,308 Q293,335 348,374" fill="none" stroke="#a86e6a" stroke-width="26" stroke-linecap="round" stroke-linejoin="round" opacity="1.0" />
<path d="M355,308 Q293,335 348,374" fill="none" stroke="#e8b6aa" stroke-width="17" stroke-linecap="round" stroke-linejoin="round" opacity="1.0" />
<path d="M495,290 Q490,248 458,220" fill="none" stroke="#a86e6a" stroke-width="27" stroke-linecap="round" stroke-linejoin="round" opacity="1.0" />
<path d="M495,290 Q490,248 458,220" fill="none" stroke="#eac0b2" stroke-width="18" stroke-linecap="round" stroke-linejoin="round" opacity="1.0" />
<path d="M180,444 Q191,403 229,421" fill="none" stroke="#a86e6a" stroke-width="25" stroke-linecap="round" stroke-linejoin="round" opacity="1.0" />
<path d="M180,444 Q191,403 229,421" fill="none" stroke="#d89890" stroke-width="16" stroke-linecap="round" stroke-linejoin="round" opacity="1.0" />
<path d="M384,229 Q359,203 360,167" fill="none" stroke="#a86e6a" stroke-width="30" stroke-linecap="round" stroke-linejoin="round" opacity="1.0" />
<path d="M384,229 Q359,203 360,167" fill="none" stroke="#dfa69c" stroke-width="21" stroke-linecap="round" stroke-linejoin="round" opacity="1.0" />
<path d="M289,369 Q306,396 334,413" fill="none" stroke="#a86e6a" stroke-width="28" stroke-linecap="round" stroke-linejoin="round" opacity="1.0" />
<path d="M289,369 Q306,396 334,413" fill="none" stroke="#e8b6aa" stroke-width="19" stroke-linecap="round" stroke-linejoin="round" opacity="1.0" />
<path d="M361,508 Q388,518 413,502" fill="none" stroke="#a86e6a" stroke-width="25" stroke-linecap="round" stroke-linejoin="round" opacity="1.0" />
<path d="M361,508 Q388,518 413,502" fill="none" stroke="#e8b6aa" stroke-width="16" stroke-linecap="round" stroke-linejoin="round" opacity="1.0" />
<path d="M350,459 Q332,421 375,419" fill="none" stroke="#a86e6a" stroke-width="29" stroke-linecap="round" stroke-linejoin="round" opacity="1.0" />
<path d="M350,459 Q332,421 375,419" fill="none" stroke="#d89890" stroke-width="20" stroke-linecap="round" stroke-linejoin="round" opacity="1.0" />
<path d="M255,312 Q246,258 192,249" fill="none" stroke="#a86e6a" stroke-width="29" stroke-linecap="round" stroke-linejoin="round" opacity="1.0" />
<path d="M255,312 Q246,258 192,249" fill="none" stroke="#e8b6aa" stroke-width="20" stroke-linecap="round" stroke-linejoin="round" opacity="1.0" />
<path d="M620,349 Q644,361 669,355" fill="none" stroke="#a86e6a" stroke-width="26" stroke-linecap="round" stroke-linejoin="round" opacity="1.0" />
<path d="M620,349 Q644,361 669,355" fill="none" stroke="#eac0b2" stroke-width="17" stroke-linecap="round" stroke-linejoin="round" opacity="1.0" />
<path d="M160,395 Q204,366 169,327" fill="none" stroke="#a86e6a" stroke-width="29" stroke-linecap="round" stroke-linejoin="round" opacity="1.0" />
<path d="M160,395 Q204,366 169,327" fill="none" stroke="#e4b0a0" stroke-width="20" stroke-linecap="round" stroke-linejoin="round" opacity="1.0" />
<path d="M411,385 Q451,394 441,434" fill="none" stroke="#a86e6a" stroke-width="31" stroke-linecap="round" stroke-linejoin="round" opacity="1.0" />
<path d="M411,385 Q451,394 441,434" fill="none" stroke="#eac0b2" stroke-width="22" stroke-linecap="round" stroke-linejoin="round" opacity="1.0" />
<path d="M381,299 Q421,305 445,273" fill="none" stroke="#a86e6a" stroke-width="28" stroke-linecap="round" stroke-linejoin="round" opacity="1.0" />
<path d="M381,299 Q421,305 445,273" fill="none" stroke="#dfa69c" stroke-width="19" stroke-linecap="round" stroke-linejoin="round" opacity="1.0" />
<path d="M367,226 Q419,244 409,189" fill="none" stroke="#a86e6a" stroke-width="31" stroke-linecap="round" stroke-linejoin="round" opacity="1.0" />
<path d="M367,226 Q419,244 409,189" fill="none" stroke="#dfa69c" stroke-width="22" stroke-linecap="round" stroke-linejoin="round" opacity="1.0" />
<path d="M215,487 Q239,473 264,460" fill="none" stroke="#a86e6a" stroke-width="27" stroke-linecap="round" stroke-linejoin="round" opacity="1.0" />
<path d="M215,487 Q239,473 264,460" fill="none" stroke="#dfa69c" stroke-width="18" stroke-linecap="round" stroke-linejoin="round" opacity="1.0" />
<path d="M385,260 Q386,308 343,288" fill="none" stroke="#a86e6a" stroke-width="27" stroke-linecap="round" stroke-linejoin="round" opacity="1.0" />
<path d="M385,260 Q386,308 343,288" fill="none" stroke="#d89890" stroke-width="18" stroke-linecap="round" stroke-linejoin="round" opacity="1.0" />
<path d="M272,380 Q191,365 215,445" fill="none" stroke="#a86e6a" stroke-width="25" stroke-linecap="round" stroke-linejoin="round" opacity="1.0" />
<path d="M272,380 Q191,365 215,445" fill="none" stroke="#eac0b2" stroke-width="16" stroke-linecap="round" stroke-linejoin="round" opacity="1.0" />
<path d="M273,391 Q268,312 201,354" fill="none" stroke="#a86e6a" stroke-width="28" stroke-linecap="round" stroke-linejoin="round" opacity="1.0" />
<path d="M273,391 Q268,312 201,354" fill="none" stroke="#e4b0a0" stroke-width="19" stroke-linecap="round" stroke-linejoin="round" opacity="1.0" />
<path d="M216,271 Q203,305 170,289" fill="none" stroke="#a86e6a" stroke-width="30" stroke-linecap="round" stroke-linejoin="round" opacity="1.0" />
<path d="M216,271 Q203,305 170,289" fill="none" stroke="#e8b6aa" stroke-width="21" stroke-linecap="round" stroke-linejoin="round" opacity="1.0" />
<path d="M361,372 Q329,407 359,444" fill="none" stroke="#a86e6a" stroke-width="28" stroke-linecap="round" stroke-linejoin="round" opacity="1.0" />
<path d="M361,372 Q329,407 359,444" fill="none" stroke="#eac0b2" stroke-width="19" stroke-linecap="round" stroke-linejoin="round" opacity="1.0" />
<path d="M596,350 Q551,332 559,284" fill="none" stroke="#a86e6a" stroke-width="26" stroke-linecap="round" stroke-linejoin="round" opacity="1.0" />
<path d="M596,350 Q551,332 559,284" fill="none" stroke="#e4b0a0" stroke-width="17" stroke-linecap="round" stroke-linejoin="round" opacity="1.0" />
<path d="M599,357 Q552,330 521,375" fill="none" stroke="#a86e6a" stroke-width="31" stroke-linecap="round" stroke-linejoin="round" opacity="1.0" />
<path d="M599,357 Q552,330 521,375" fill="none" stroke="#d89890" stroke-width="22" stroke-linecap="round" stroke-linejoin="round" opacity="1.0" />
<path d="M277,380 Q249,407 251,447" fill="none" stroke="#a86e6a" stroke-width="30" stroke-linecap="round" stroke-linejoin="round" opacity="1.0" />
<path d="M277,380 Q249,407 251,447" fill="none" stroke="#e4b0a0" stroke-width="21" stroke-linecap="round" stroke-linejoin="round" opacity="1.0" />
<path d="M429,486 Q410,440 446,406" fill="none" stroke="#a86e6a" stroke-width="29" stroke-linecap="round" stroke-linejoin="round" opacity="1.0" />
<path d="M429,486 Q410,440 446,406" fill="none" stroke="#d89890" stroke-width="20" stroke-linecap="round" stroke-linejoin="round" opacity="1.0" />
<path d="M183,375 Q108,394 161,451" fill="none" stroke="#a86e6a" stroke-width="25" stroke-linecap="round" stroke-linejoin="round" opacity="1.0" />
<path d="M183,375 Q108,394 161,451" fill="none" stroke="#e4b0a0" stroke-width="16" stroke-linecap="round" stroke-linejoin="round" opacity="1.0" />
<path d="M421,261 Q397,234 429,218" fill="none" stroke="#a86e6a" stroke-width="31" stroke-linecap="round" stroke-linejoin="round" opacity="1.0" />
<path d="M421,261 Q397,234 429,218" fill="none" stroke="#eac0b2" stroke-width="22" stroke-linecap="round" stroke-linejoin="round" opacity="1.0" />
<path d="M460,361 Q525,326 531,399" fill="none" stroke="#a86e6a" stroke-width="30" stroke-linecap="round" stroke-linejoin="round" opacity="1.0" />
<path d="M460,361 Q525,326 531,399" fill="none" stroke="#d89890" stroke-width="21" stroke-linecap="round" stroke-linejoin="round" opacity="1.0" />
<path d="M574,338 Q561,370 565,403" fill="none" stroke="#a86e6a" stroke-width="31" stroke-linecap="round" stroke-linejoin="round" opacity="1.0" />
<path d="M574,338 Q561,370 565,403" fill="none" stroke="#e8b6aa" stroke-width="22" stroke-linecap="round" stroke-linejoin="round" opacity="1.0" />
<path d="M457,323 Q394,292 448,247" fill="none" stroke="#a86e6a" stroke-width="30" stroke-linecap="round" stroke-linejoin="round" opacity="1.0" />
<path d="M457,323 Q394,292 448,247" fill="none" stroke="#dfa69c" stroke-width="21" stroke-linecap="round" stroke-linejoin="round" opacity="1.0" />
<path d="M468,280 Q479,230 529,234" fill="none" stroke="#a86e6a" stroke-width="31" stroke-linecap="round" stroke-linejoin="round" opacity="1.0" />
<path d="M468,280 Q479,230 529,234" fill="none" stroke="#e4b0a0" stroke-width="22" stroke-linecap="round" stroke-linejoin="round" opacity="1.0" />
<path d="M458,248 Q443,200 396,218" fill="none" stroke="#a86e6a" stroke-width="29" stroke-linecap="round" stroke-linejoin="round" opacity="1.0" />
<path d="M458,248 Q443,200 396,218" fill="none" stroke="#dfa69c" stroke-width="20" stroke-linecap="round" stroke-linejoin="round" opacity="1.0" />
<path d="M394,384 Q430,378 461,358" fill="none" stroke="#a86e6a" stroke-width="31" stroke-linecap="round" stroke-linejoin="round" opacity="1.0" />
<path d="M394,384 Q430,378 461,358" fill="none" stroke="#e8b6aa" stroke-width="22" stroke-linecap="round" stroke-linejoin="round" opacity="1.0" />
<path d="M420,336 Q416,306 393,286" fill="none" stroke="#a86e6a" stroke-width="30" stroke-linecap="round" stroke-linejoin="round" opacity="1.0" />
<path d="M420,336 Q416,306 393,286" fill="none" stroke="#dfa69c" stroke-width="21" stroke-linecap="round" stroke-linejoin="round" opacity="1.0" />
<path d="M291,499 Q282,532 316,537" fill="none" stroke="#a86e6a" stroke-width="29" stroke-linecap="round" stroke-linejoin="round" opacity="1.0" />
<path d="M291,499 Q282,532 316,537" fill="none" stroke="#e8b6aa" stroke-width="20" stroke-linecap="round" stroke-linejoin="round" opacity="1.0" />
<path d="M247,306 Q261,276 270,245" fill="none" stroke="#a86e6a" stroke-width="28" stroke-linecap="round" stroke-linejoin="round" opacity="1.0" />
<path d="M247,306 Q261,276 270,245" fill="none" stroke="#e4b0a0" stroke-width="19" stroke-linecap="round" stroke-linejoin="round" opacity="1.0" />
<path d="M177,286 Q194,309 223,306" fill="none" stroke="#a86e6a" stroke-width="26" stroke-linecap="round" stroke-linejoin="round" opacity="1.0" />
<path d="M177,286 Q194,309 223,306" fill="none" stroke="#e4b0a0" stroke-width="17" stroke-linecap="round" stroke-linejoin="round" opacity="1.0" />
<path d="M325,227 Q353,258 384,288" fill="none" stroke="#a86e6a" stroke-width="27" stroke-linecap="round" stroke-linejoin="round" opacity="1.0" />
<path d="M325,227 Q353,258 384,288" fill="none" stroke="#dfa69c" stroke-width="18" stroke-linecap="round" stroke-linejoin="round" opacity="1.0" />
<path d="M305,287 Q336,269 326,235" fill="none" stroke="#a86e6a" stroke-width="26" stroke-linecap="round" stroke-linejoin="round" opacity="1.0" />
<path d="M305,287 Q336,269 326,235" fill="none" stroke="#d89890" stroke-width="17" stroke-linecap="round" stroke-linejoin="round" opacity="1.0" />
<path d="M275,385 Q331,418 276,453" fill="none" stroke="#a86e6a" stroke-width="29" stroke-linecap="round" stroke-linejoin="round" opacity="1.0" />
<path d="M275,385 Q331,418 276,453" fill="none" stroke="#e8b6aa" stroke-width="20" stroke-linecap="round" stroke-linejoin="round" opacity="1.0" />
<path d="M411,243 Q394,223 367,225" fill="none" stroke="#a86e6a" stroke-width="30" stroke-linecap="round" stroke-linejoin="round" opacity="1.0" />
<path d="M411,243 Q394,223 367,225" fill="none" stroke="#d89890" stroke-width="21" stroke-linecap="round" stroke-linejoin="round" opacity="1.0" />
<path d="M418,315 Q429,375 369,383" fill="none" stroke="#a86e6a" stroke-width="29" stroke-linecap="round" stroke-linejoin="round" opacity="1.0" />
<path d="M418,315 Q429,375 369,383" fill="none" stroke="#eac0b2" stroke-width="20" stroke-linecap="round" stroke-linejoin="round" opacity="1.0" />
<path d="M302,498 Q254,441 323,415" fill="none" stroke="#a86e6a" stroke-width="28" stroke-linecap="round" stroke-linejoin="round" opacity="1.0" />
<path d="M302,498 Q254,441 323,415" fill="none" stroke="#d89890" stroke-width="19" stroke-linecap="round" stroke-linejoin="round" opacity="1.0" />
<path d="M216,460 Q261,472 252,427" fill="none" stroke="#a86e6a" stroke-width="25" stroke-linecap="round" stroke-linejoin="round" opacity="1.0" />
<path d="M216,460 Q261,472 252,427" fill="none" stroke="#eac0b2" stroke-width="16" stroke-linecap="round" stroke-linejoin="round" opacity="1.0" />
<path d="M345,324 Q368,289 356,248" fill="none" stroke="#a86e6a" stroke-width="31" stroke-linecap="round" stroke-linejoin="round" opacity="1.0" />
<path d="M345,324 Q368,289 356,248" fill="none" stroke="#d89890" stroke-width="22" stroke-linecap="round" stroke-linejoin="round" opacity="1.0" />
<path d="M208,263 Q199,284 194,308" fill="none" stroke="#a86e6a" stroke-width="28" stroke-linecap="round" stroke-linejoin="round" opacity="1.0" />
<path d="M208,263 Q199,284 194,308" fill="none" stroke="#e4b0a0" stroke-width="19" stroke-linecap="round" stroke-linejoin="round" opacity="1.0" />
<path d="M240,281 Q270,257 307,257" fill="none" stroke="#a86e6a" stroke-width="29" stroke-linecap="round" stroke-linejoin="round" opacity="1.0" />
<path d="M240,281 Q270,257 307,257" fill="none" stroke="#e4b0a0" stroke-width="20" stroke-linecap="round" stroke-linejoin="round" opacity="1.0" />
<path d="M349,497 Q414,484 380,427" fill="none" stroke="#a86e6a" stroke-width="30" stroke-linecap="round" stroke-linejoin="round" opacity="1.0" />
<path d="M349,497 Q414,484 380,427" fill="none" stroke="#e4b0a0" stroke-width="21" stroke-linecap="round" stroke-linejoin="round" opacity="1.0" />
<path d="M533,421 Q572,434 585,395" fill="none" stroke="#a86e6a" stroke-width="29" stroke-linecap="round" stroke-linejoin="round" opacity="1.0" />
<path d="M533,421 Q572,434 585,395" fill="none" stroke="#e8b6aa" stroke-width="20" stroke-linecap="round" stroke-linejoin="round" opacity="1.0" />
<path d="M361,421 Q305,464 371,490" fill="none" stroke="#a86e6a" stroke-width="28" stroke-linecap="round" stroke-linejoin="round" opacity="1.0" />
<path d="M361,421 Q305,464 371,490" fill="none" stroke="#dfa69c" stroke-width="19" stroke-linecap="round" stroke-linejoin="round" opacity="1.0" />
<path d="M187,289 Q132,318 183,355" fill="none" stroke="#a86e6a" stroke-width="26" stroke-linecap="round" stroke-linejoin="round" opacity="1.0" />
<path d="M187,289 Q132,318 183,355" fill="none" stroke="#dfa69c" stroke-width="17" stroke-linecap="round" stroke-linejoin="round" opacity="1.0" />
<ellipse cx="380" cy="542" rx="142" ry="58" fill="#b89098" />
<path d="M313,539 Q301,579 293,620" fill="none" stroke="#7a5a66" stroke-width="26" stroke-linecap="round" stroke-linejoin="round" opacity="1.0" />
<path d="M313,539 Q301,579 293,620" fill="none" stroke="#c4a0a6" stroke-width="17" stroke-linecap="round" stroke-linejoin="round" opacity="1.0" />
<path d="M401,546 Q415,485 353,477" fill="none" stroke="#7a5a66" stroke-width="25" stroke-linecap="round" stroke-linejoin="round" opacity="1.0" />
<path d="M401,546 Q415,485 353,477" fill="none" stroke="#c4a0a6" stroke-width="16" stroke-linecap="round" stroke-linejoin="round" opacity="1.0" />
<path d="M335,569 Q325,537 327,503" fill="none" stroke="#7a5a66" stroke-width="26" stroke-linecap="round" stroke-linejoin="round" opacity="1.0" />
<path d="M335,569 Q325,537 327,503" fill="none" stroke="#c4a0a6" stroke-width="17" stroke-linecap="round" stroke-linejoin="round" opacity="1.0" />
<path d="M401,517 Q364,505 324,506" fill="none" stroke="#7a5a66" stroke-width="27" stroke-linecap="round" stroke-linejoin="round" opacity="1.0" />
<path d="M401,517 Q364,505 324,506" fill="none" stroke="#c4a0a6" stroke-width="18" stroke-linecap="round" stroke-linejoin="round" opacity="1.0" />
<path d="M324,544 Q333,512 339,479" fill="none" stroke="#7a5a66" stroke-width="28" stroke-linecap="round" stroke-linejoin="round" opacity="1.0" />
<path d="M324,544 Q333,512 339,479" fill="none" stroke="#c4a0a6" stroke-width="19" stroke-linecap="round" stroke-linejoin="round" opacity="1.0" />
<path d="M298,530 Q296,484 249,486" fill="none" stroke="#7a5a66" stroke-width="25" stroke-linecap="round" stroke-linejoin="round" opacity="1.0" />
<path d="M298,530 Q296,484 249,486" fill="none" stroke="#c4a0a6" stroke-width="16" stroke-linecap="round" stroke-linejoin="round" opacity="1.0" />
<path d="M419,531 Q438,497 443,458" fill="none" stroke="#7a5a66" stroke-width="26" stroke-linecap="round" stroke-linejoin="round" opacity="1.0" />
<path d="M419,531 Q438,497 443,458" fill="none" stroke="#c4a0a6" stroke-width="17" stroke-linecap="round" stroke-linejoin="round" opacity="1.0" />
<path d="M266,552 Q204,564 234,621" fill="none" stroke="#7a5a66" stroke-width="28" stroke-linecap="round" stroke-linejoin="round" opacity="1.0" />
<path d="M266,552 Q204,564 234,621" fill="none" stroke="#b89098" stroke-width="19" stroke-linecap="round" stroke-linejoin="round" opacity="1.0" />
<path d="M373,541 Q348,575 309,589" fill="none" stroke="#7a5a66" stroke-width="27" stroke-linecap="round" stroke-linejoin="round" opacity="1.0" />
<path d="M373,541 Q348,575 309,589" fill="none" stroke="#c4a0a6" stroke-width="18" stroke-linecap="round" stroke-linejoin="round" opacity="1.0" />
<path d="M447,572 Q503,564 507,508" fill="none" stroke="#7a5a66" stroke-width="28" stroke-linecap="round" stroke-linejoin="round" opacity="1.0" />
<path d="M447,572 Q503,564 507,508" fill="none" stroke="#c4a0a6" stroke-width="19" stroke-linecap="round" stroke-linejoin="round" opacity="1.0" />
<ellipse cx="420" cy="440" rx="50" ry="70" fill="#c69aa0" transform="rotate(-30 420 440)" />
<ellipse cx="200" cy="522" rx="40" ry="66" fill="#dcc88e" />
<ellipse cx="566" cy="510" rx="66" ry="44" fill="#e2cd9c" transform="rotate(-15 566 510)" />
<ellipse cx="650" cy="402" rx="25" ry="66" fill="#dcc284" />
<ellipse cx="550" cy="390" rx="35" ry="60" fill="#b4aa90" transform="rotate(15 550 390)" />
<ellipse cx="210" cy="110" rx="25" ry="45" fill="#d8c8a0" transform="rotate(20 210 110)" />
<ellipse cx="480" cy="455" rx="35" ry="25" fill="#e4c690" />
<polygon points="170,600 640,580 700,742 90,742" fill="#e2aab4"/>
<ellipse cx="400" cy="690" rx="150" ry="50" fill="#eabcc4" />
<path d="M230,600 L270,720" fill="none" stroke="#a87888" stroke-width="18" stroke-linecap="round" stroke-linejoin="round" />
<polygon points="692,250 730,250 730,742 702,742" fill="#e6dcdc"/>
<path d="M35,40 L152,40 L132,180 L72,330 L122,452 L172,562 L90,742 L35,742Z" fill="#1e1e1e" />
<polygon points="35,500 150,542 90,742 35,742" fill="#5c5c5c" opacity="0.8"/>
<ellipse cx="76" cy="382" rx="15" ry="30" fill="#e0b060" />
</g>
</g>
<g clip-path="url(#tc15)">
<rect x="284.2" y="709.5" width="83.1" height="71.5" fill="#fff"/>
<g transform="translate(280 705) scale(0.10624)" filter="url(#bl3)">
<rect x="0" y="0" width="900" height="800" fill="#fdf8fc"/>
<path d="M40,340 C70,260 150,170 250,100 C330,60 450,50 600,45 L720,42 L822,100 L822,715 L40,715Z" fill="#e458bc" />
<path d="M60,330 C120,230 220,140 330,100" fill="none" stroke="#f4b4e0" stroke-width="8" stroke-linecap="round" stroke-linejoin="round" />
<path d="M60,715 L55,522 C80,402 150,302 300,222 C400,182 470,202 520,182 C600,142 680,122 760,142 L822,202 L822,715Z" fill="#b45ecb" />
<ellipse cx="300" cy="450" rx="170" ry="150" fill="#a656c4" opacity="0.6" />
<ellipse cx="700" cy="400" rx="100" ry="170" fill="#a858c6" opacity="0.5" />
<ellipse cx="450" cy="620" rx="150" ry="70" fill="#c06ad0" opacity="0.6" />
<path d="M500,200 C530,300 560,452 602,562" fill="none" stroke="#e274ca" stroke-width="10" stroke-linecap="round" stroke-linejoin="round" />
<path d="M120,500 C130,562 180,612 262,602" fill="none" stroke="#ea6ac2" stroke-width="10" stroke-linecap="round" stroke-linejoin="round" />
<path d="M215,400 L292,432 L352,402 L432,290" fill="none" stroke="#ffffff" stroke-width="18" stroke-linecap="round" stroke-linejoin="round" />
<path d="M292,432 L305,475 M352,402 L405,440 M260,415 L235,350 M185,380 L195,385 M330,330 L345,365 M395,335 L440,360" fill="none" stroke="#ffffff" stroke-width="8" stroke-linecap="round" stroke-linejoin="round" />
<path d="M682,452 L732,422 L792,392 M702,472 L722,432 M642,502 L682,492 M740,330 L760,350 M610,380 L640,375 M600,250 L625,225 M650,300 L660,270" fill="none" stroke="#ffffff" stroke-width="13" stroke-linecap="round" stroke-linejoin="round" />
<path d="M590,220 L600,300 M640,230 L650,290 M700,260 L690,320 M440,560 L445,600 M470,640 L480,665" fill="none" stroke="#f0d0ec" stroke-width="6" stroke-linecap="round" stroke-linejoin="round" />
</g>
<rect x="284.2" y="709.5" width="83.1" height="71.5" filter="url(#nzw)"/>
</g>
<line x1="340.6" y1="766.1" x2="363.9" y2="766.1" stroke="#000" stroke-width="2.0"/>
<text x="351.55" y="776.3" font-family="Liberation Sans,Arial,sans-serif" font-size="6.9" font-weight="bold" text-anchor="middle" fill="#000">100μm</text>
<g clip-path="url(#tc16)">
<rect x="372.0" y="709.5" width="73.1" height="70.9" fill="#0b0b52"/>
<g transform="translate(368 705) scale(0.10084)" filter="url(#bl5)">
<rect x="0" y="0" width="830" height="800" fill="#0b0b52"/>
<path d="M543,432 L478,67" fill="none" stroke="#2424cc" stroke-width="36" stroke-linecap="round" stroke-linejoin="round" opacity="0.85" />
<path d="M519,439 L369,101" fill="none" stroke="#1c1cb0" stroke-width="36" stroke-linecap="round" stroke-linejoin="round" opacity="0.85" />
<path d="M498,451 L271,160" fill="none" stroke="#2424cc" stroke-width="36" stroke-linecap="round" stroke-linejoin="round" opacity="0.85" />
<path d="M481,468 L190,241" fill="none" stroke="#1c1cb0" stroke-width="36" stroke-linecap="round" stroke-linejoin="round" opacity="0.85" />
<path d="M469,489 L131,339" fill="none" stroke="#2424cc" stroke-width="36" stroke-linecap="round" stroke-linejoin="round" opacity="0.85" />
<path d="M462,513 L97,448" fill="none" stroke="#1c1cb0" stroke-width="36" stroke-linecap="round" stroke-linejoin="round" opacity="0.85" />
<path d="M460,537 L91,563" fill="none" stroke="#2424cc" stroke-width="36" stroke-linecap="round" stroke-linejoin="round" opacity="0.85" />
<path d="M465,561 L113,675" fill="none" stroke="#1c1cb0" stroke-width="36" stroke-linecap="round" stroke-linejoin="round" opacity="0.85" />
<path d="M475,583 L161,779" fill="none" stroke="#2424cc" stroke-width="36" stroke-linecap="round" stroke-linejoin="round" opacity="0.85" />
<path d="M491,602 L234,868" fill="none" stroke="#1c1cb0" stroke-width="36" stroke-linecap="round" stroke-linejoin="round" opacity="0.85" />
<path d="M510,617 L325,937" fill="none" stroke="#2424cc" stroke-width="36" stroke-linecap="round" stroke-linejoin="round" opacity="0.85" />
<path d="M532,626 L430,982" fill="none" stroke="#1c1cb0" stroke-width="36" stroke-linecap="round" stroke-linejoin="round" opacity="0.85" />
<path d="M557,630 L544,1000" fill="none" stroke="#2424cc" stroke-width="36" stroke-linecap="round" stroke-linejoin="round" opacity="0.85" />
<path d="M581,628 L658,990" fill="none" stroke="#1c1cb0" stroke-width="36" stroke-linecap="round" stroke-linejoin="round" opacity="0.85" />
<path d="M604,620 L766,952" fill="none" stroke="#2424cc" stroke-width="36" stroke-linecap="round" stroke-linejoin="round" opacity="0.85" />
<path d="M624,607 L862,890" fill="none" stroke="#1c1cb0" stroke-width="36" stroke-linecap="round" stroke-linejoin="round" opacity="0.85" />
<path d="M641,589 L940,806" fill="none" stroke="#2424cc" stroke-width="36" stroke-linecap="round" stroke-linejoin="round" opacity="0.85" />
<path d="M653,567 L801,627" fill="none" stroke="#1c1cb0" stroke-width="36" stroke-linecap="round" stroke-linejoin="round" opacity="0.85" />
<path d="M659,544 L817,566" fill="none" stroke="#2424cc" stroke-width="36" stroke-linecap="round" stroke-linejoin="round" opacity="0.85" />
<path d="M659,520 L819,503" fill="none" stroke="#1c1cb0" stroke-width="36" stroke-linecap="round" stroke-linejoin="round" opacity="0.85" />
<path d="M654,496 L804,441" fill="none" stroke="#2424cc" stroke-width="36" stroke-linecap="round" stroke-linejoin="round" opacity="0.85" />
<path d="M643,474 L776,385" fill="none" stroke="#1c1cb0" stroke-width="36" stroke-linecap="round" stroke-linejoin="round" opacity="0.85" />
<path d="M40,45 L420,45 C250,150 120,300 40,520Z" fill="#08083a" opacity="0.75" />
<path d="M40,560 C100,640 200,720 330,748 L40,748Z" fill="#0a0a44" opacity="0.7" />
<ellipse cx="575" cy="535" rx="95" ry="62" fill="#030308" />
<path d="M575,535 L765,470 L765,600Z" fill="#030308" />
<path d="M560,530 L475,383" fill="none" stroke="#040410" stroke-width="16" stroke-linecap="round" stroke-linejoin="round" />
<path d="M560,530 L396,486" fill="none" stroke="#040410" stroke-width="16" stroke-linecap="round" stroke-linejoin="round" />
<path d="M560,530 L400,588" fill="none" stroke="#040410" stroke-width="16" stroke-linecap="round" stroke-linejoin="round" />
<path d="M560,530 L475,677" fill="none" stroke="#040410" stroke-width="16" stroke-linecap="round" stroke-linejoin="round" />
<path d="M560,530 L720,472" fill="none" stroke="#040410" stroke-width="16" stroke-linecap="round" stroke-linejoin="round" />
<path d="M560,530 L645,383" fill="none" stroke="#040410" stroke-width="16" stroke-linecap="round" stroke-linejoin="round" />
<path d="M560,530 L707,615" fill="none" stroke="#040410" stroke-width="16" stroke-linecap="round" stroke-linejoin="round" />
<ellipse cx="470" cy="620" rx="40" ry="36" fill="#2424c8" />
<circle cx="285" cy="490" r="7" fill="#c82828" opacity="0.9"/>
<circle cx="310" cy="500" r="7" fill="#c82828" opacity="0.9"/>
<circle cx="350" cy="515" r="7" fill="#c82828" opacity="0.9"/>
<circle cx="400" cy="490" r="7" fill="#c82828" opacity="0.9"/>
<circle cx="580" cy="410" r="7" fill="#c82828" opacity="0.9"/>
<circle cx="615" cy="370" r="7" fill="#c82828" opacity="0.9"/>
<circle cx="710" cy="325" r="7" fill="#c82828" opacity="0.9"/>
<circle cx="750" cy="310" r="7" fill="#c82828" opacity="0.9"/>
<circle cx="635" cy="525" r="7" fill="#c82828" opacity="0.9"/>
<circle cx="640" cy="580" r="7" fill="#c82828" opacity="0.9"/>
<circle cx="425" cy="605" r="7" fill="#c82828" opacity="0.9"/>
<circle cx="690" cy="520" r="7" fill="#c82828" opacity="0.9"/>
</g>
<rect x="372.0" y="709.5" width="73.1" height="70.9" filter="url(#nzk)"/>
</g>
<line x1="418.4" y1="767.0" x2="442.1" y2="767.0" stroke="#e8696b" stroke-width="2.6"/>
<text x="429.55" y="777.2" font-family="Liberation Sans,Arial,sans-serif" font-size="6.9" font-weight="bold" text-anchor="middle" fill="#e32222">100μm</text>
</svg></body></html>
